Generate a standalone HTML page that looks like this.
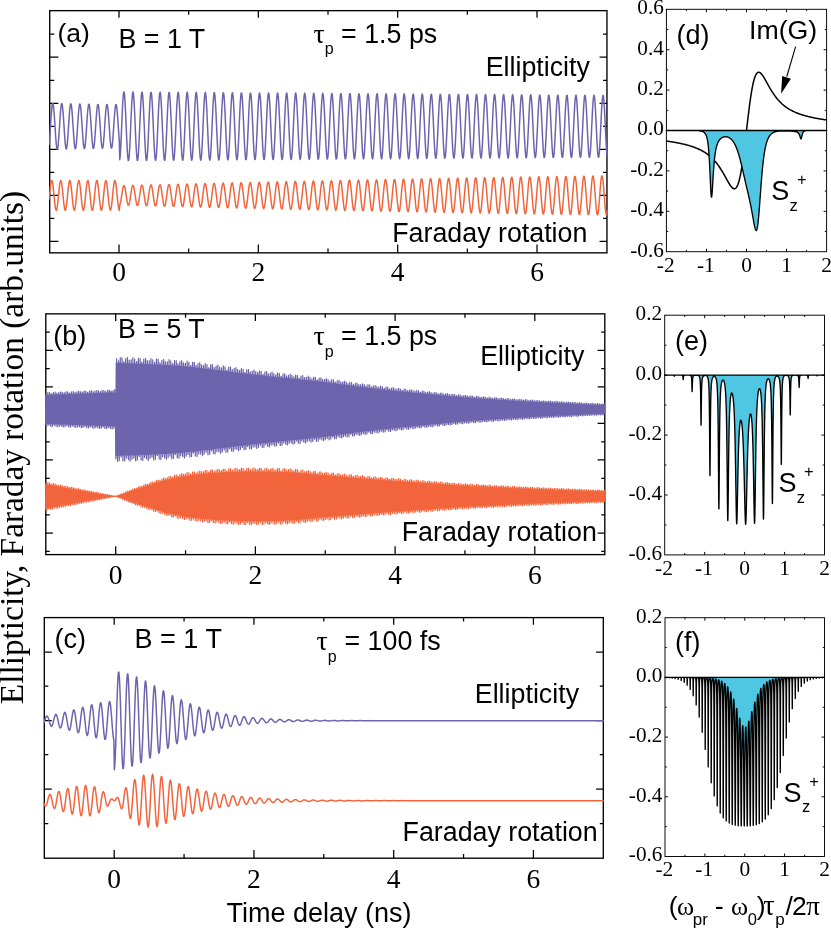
<!DOCTYPE html>
<html><head><meta charset="utf-8"><title>Figure</title>
<style>html,body{margin:0;padding:0;background:#fff}svg{display:block;will-change:transform}text{fill:#000}</style></head>
<body><svg width="831" height="929" viewBox="0 0 831 929">
<defs><clipPath id="c1"><rect x="49.05" y="10.65" width="558.55" height="242.20"/></clipPath><clipPath id="c2"><rect x="45.15" y="313.85" width="560.30" height="240.75"/></clipPath><clipPath id="c3"><rect x="43.65" y="617.60" width="560.30" height="240.60"/></clipPath></defs>
<rect width="831" height="929" fill="#fff"/>
<rect x="49.7" y="10.65" width="557.25" height="242.20" fill="none" stroke="#000" stroke-width="1.35"/>
<path d="M119.00,10.65v7.2M119.00,252.85v-8.3M258.34,10.65v7.2M258.34,252.85v-8.3M397.68,10.65v7.2M397.68,252.85v-8.3M537.02,10.65v7.2M537.02,252.85v-8.3M188.67,10.65v4.0M188.67,252.85v-4.3M328.01,10.65v4.0M328.01,252.85v-4.3M467.35,10.65v4.0M467.35,252.85v-4.3M49.7,57.20h8.7M606.95,57.20h-7.4M49.7,103.25h8.7M606.95,103.25h-7.4M49.7,149.30h8.7M606.95,149.30h-7.4M49.7,195.35h8.7M606.95,195.35h-7.4M49.7,241.40h8.7M606.95,241.40h-7.4M49.7,34.20h4.6M606.95,34.20h-3.9M49.7,80.25h4.6M606.95,80.25h-3.9M49.7,126.30h4.6M606.95,126.30h-3.9M49.7,172.35h4.6M606.95,172.35h-3.9M49.7,218.40h4.6M606.95,218.40h-3.9" stroke="#000" stroke-width="1.25" fill="none"/>
<text x="119.0" y="280.6" font-family="'Liberation Serif',serif" font-size="27.5" text-anchor="middle" >0</text>
<text x="258.3" y="280.6" font-family="'Liberation Serif',serif" font-size="27.5" text-anchor="middle" >2</text>
<text x="397.7" y="280.6" font-family="'Liberation Serif',serif" font-size="27.5" text-anchor="middle" >4</text>
<text x="537.0" y="280.6" font-family="'Liberation Serif',serif" font-size="27.5" text-anchor="middle" >6</text>
<g clip-path="url(#c1)"><path d="M49.1,145.04L49.55,140.02L50,133.67L50.45,126.61L50.9,119.53L51.35,113.1L51.8,107.96L52.25,104.61L52.7,103.36L53.15,104.33L53.6,107.44L54.05,112.37L54.5,118.65L54.95,125.67L55.4,132.75L55.85,139.19L56.3,144.38L56.75,147.81L57.2,149.16L57.65,148.28L58.1,145.28L58.55,140.43L59,134.22L59.45,127.24L59.9,120.18L60.35,113.71L60.8,108.48L61.25,104.97L61.7,103.53L62.15,104.31L62.6,107.21L63.05,111.97L63.5,118.11L63.95,125.04L64.4,132.09L64.85,138.58L65.3,143.87L65.75,147.45L66.2,148.97L66.65,148.3L67.1,145.49L67.55,140.83L68,134.75L68.45,127.87L68.9,120.83L69.35,114.33L69.8,109L70.25,105.34L70.7,103.73L71.15,104.3L71.6,107.01L72.05,111.58L72.5,117.58L72.95,124.43L73.4,131.45L73.85,137.96L74.3,143.34L74.75,147.06L75.2,148.77L75.65,148.3L76.1,145.69L76.55,141.2L77,135.27L77.45,128.48L77.9,121.48L78.35,114.95L78.8,109.53L79.25,105.73L79.7,103.94L80.15,104.31L80.6,106.82L81.05,111.22L81.5,117.07L81.95,123.82L82.4,130.8L82.85,137.34L83.3,142.81L83.75,146.67L84.2,148.55L84.65,148.27L85.1,145.87L85.55,141.56L86,135.78L86.45,129.08L86.9,122.12L87.35,115.57L87.8,110.06L88.25,106.13L88.7,104.16L89.15,104.34L89.6,106.65L90.05,110.87L90.5,116.57L90.95,123.22L91.4,130.16L91.85,136.72L92.3,142.27L92.75,146.26L93.2,148.32L93.65,148.23L94.1,146.02L94.55,141.9L95,136.27L95.45,129.67L95.9,122.76L96.35,116.19L96.8,110.6L97.25,106.55L97.7,104.41L98.15,104.39L98.6,106.51L99.05,110.53L99.5,116.09L99.95,122.63L100.4,129.53L100.85,136.1L101.3,141.72L101.75,145.84L102.2,148.07L102.65,148.17L103.1,146.16L103.55,142.22L104,136.74L104.45,130.26L104.9,123.39L105.35,116.81L105.8,111.15L106.25,106.97L106.7,104.67L107.15,104.46L107.6,106.38L108.05,110.22L108.5,115.62L108.95,122.06L109.4,128.9L109.85,135.48L110.3,141.17L110.75,145.41L111.2,147.8L111.65,148.1L112.1,146.28L112.55,142.53L113,137.2L113.45,130.83L113.9,124.01L114.35,117.43L114.8,111.71L115.25,107.41L115.7,104.94L116.15,104.55L116.6,106.27L117.05,109.93L117.5,115.17L117.95,121.49L118.4,128.28L118.85,134.86L119.3,140.61L119.75,159.78L120.2,155.6L120.65,148.57L121.1,139.39L121.55,128.93L122,118.23L122.45,108.31L122.9,100.13L123.35,94.5L123.8,91.95L124.25,92.74L124.7,96.78L125.15,103.69L125.6,112.78L126.05,123.19L126.5,133.9L126.95,143.87L127.4,152.13L127.85,157.88L128.3,160.57L128.75,159.94L129.2,156.04L129.65,149.25L130.1,140.24L130.55,129.88L131,119.18L131.45,109.16L131.9,100.81L132.35,94.94L132.8,92.11L133.25,92.6L133.7,96.35L134.15,103.01L134.6,111.93L135.05,122.25L135.5,132.95L135.95,143.01L136.4,151.44L136.85,157.43L137.3,160.4L137.75,160.06L138.2,156.45L138.65,149.91L139.1,141.08L139.55,130.82L140,120.13L140.45,110.03L140.9,101.51L141.35,95.4L141.8,92.29L142.25,92.48L142.7,95.95L143.15,102.37L143.6,111.1L144.05,121.31L144.5,132L144.95,142.13L145.4,150.73L145.85,156.96L146.3,160.21L146.75,160.17L147.2,156.84L147.65,150.55L148.1,141.91L148.55,131.76L149,121.08L149.45,110.91L149.9,102.23L150.35,95.89L150.8,92.5L151.25,92.39L151.7,95.57L152.15,101.74L152.6,110.28L153.05,120.38L153.5,131.05L153.95,141.25L154.4,150.01L154.85,156.46L155.3,159.98L155.75,160.24L156.2,157.2L156.65,151.17L157.1,142.72L157.55,132.69L158,122.03L158.45,111.79L158.9,102.96L159.35,96.4L159.8,92.74L160.25,92.33L160.7,95.22L161.15,101.13L161.6,109.48L162.05,119.45L162.5,130.09L162.95,140.36L163.4,149.27L163.85,155.94L164.3,159.74L164.75,160.29L165.2,157.54L165.65,151.77L166.1,143.52L166.55,133.6L167,122.98L167.45,112.68L167.9,103.71L168.35,96.93L168.8,93L169.25,92.3L169.7,94.9L170.15,100.54L170.6,108.69L171.05,118.54L171.5,129.14L171.95,139.47L172.4,148.51L172.85,155.4L173.3,159.47L173.75,160.31L174.2,157.86L174.65,152.34L175.1,144.3L175.55,134.51L176,123.93L176.45,113.58L176.9,104.47L177.35,97.48L177.8,93.28L178.25,92.29L178.7,94.6L179.15,99.98L179.6,107.92L180.05,117.64L180.5,128.19L180.95,138.56L181.4,147.74L181.85,154.84L182.3,159.17L182.75,160.31L183.2,158.14L183.65,152.89L184.1,145.06L184.55,135.41L185,124.88L185.45,114.49L185.9,105.25L186.35,98.05L186.8,93.59L187.25,92.31L187.7,94.32L188.15,99.44L188.6,107.16L189.05,116.74L189.5,127.25L189.95,137.65L190.4,146.96L190.85,154.26L191.3,158.85L191.75,160.27L192.2,158.4L192.65,153.42L193.1,145.81L193.55,136.3L194,125.83L194.45,115.4L194.9,106.04L195.35,98.64L195.8,93.92L196.25,92.35L196.7,94.07L197.15,98.92L197.6,106.43L198.05,115.86L198.5,126.3L198.95,136.74L199.4,146.16L199.85,153.66L200.3,158.5L200.75,160.22L201.2,158.64L201.65,153.93L202.1,146.53L202.55,137.18L203,126.77L203.45,116.32L203.9,106.84L204.35,99.25L204.8,94.28L205.25,92.42L205.7,93.85L206.15,98.43L206.6,105.71L207.05,114.99L207.5,125.36L207.95,135.82L208.4,145.36L208.85,153.04L209.3,158.13L209.75,160.13L210.2,158.85L210.65,154.41L211.1,147.24L211.55,138.05L212,127.71L212.45,117.24L212.9,107.65L213.35,99.87L213.8,94.66L214.25,92.52L214.7,93.66L215.15,97.96L215.6,105.01L216.05,114.13L216.5,124.42L216.95,134.9L217.4,144.54L217.85,152.4L218.3,157.74L218.75,160.02L219.2,159.03L219.65,154.87L220.1,147.93L220.55,138.9L221,128.65L221.45,118.17L221.9,108.48L222.35,100.52L222.8,95.07L223.25,92.64L223.7,93.49L224.15,97.51L224.6,104.33L225.05,113.28L225.5,123.49L225.95,133.97L226.4,143.7L226.85,151.75L227.3,157.32L227.75,159.88L228.2,159.19L228.65,155.3L229.1,148.6L229.55,139.74L230,129.57L230.45,119.09L230.9,109.32L231.35,101.19L231.8,95.49L232.25,92.79L232.7,93.34L233.15,97.09L233.6,103.67L234.05,112.45L234.5,122.56L234.95,133.04L235.4,142.86L235.85,151.08L236.3,156.88L236.75,159.72L237.2,159.32L237.65,155.71L238.1,149.25L238.55,140.57L239,130.5L239.45,120.02L239.9,110.16L240.35,101.87L240.8,95.94L241.25,92.97L241.7,93.23L242.15,96.69L242.6,103.03L243.05,111.63L243.5,121.64L243.95,132.11L244.4,142.01L244.85,150.39L245.3,156.42L245.75,159.54L246.2,159.42L246.65,156.1L247.1,149.88L247.55,141.38L248,131.41L248.45,120.96L248.9,111.02L249.35,102.56L249.8,96.42L250.25,93.17L250.7,93.13L251.15,96.32L251.6,102.41L252.05,110.82L252.5,120.73L252.95,131.18L253.4,141.15L253.85,149.68L254.3,155.94L254.75,159.32L255.2,159.5L255.65,156.46L256.1,150.49L256.55,142.18L257,132.32L257.45,121.89L257.9,111.88L258.35,103.28L258.8,96.91L259.25,93.39L259.7,93.07L260.15,95.97L260.6,101.81L261.05,110.03L261.5,119.83L261.95,130.25L262.4,140.28L262.85,148.96L263.3,155.44L263.75,159.09L264.2,159.55L264.65,156.8L265.1,151.08L265.55,142.96L266,133.22L266.45,122.82L266.9,112.75L267.35,104.01L267.8,97.42L268.25,93.64L268.7,93.03L269.15,95.65L269.6,101.24L270.05,109.26L270.5,118.93L270.95,129.31L271.4,139.41L271.85,148.22L272.3,154.91L272.75,158.82L273.2,159.58L273.65,157.11L274.1,151.64L274.55,143.72L275,134.12L275.45,123.75L275.9,113.63L276.35,104.75L276.8,97.96L277.25,93.92L277.7,93.02L278.15,95.35L278.6,100.68L279.05,108.5L279.5,118.04L279.95,128.38L280.4,138.52L280.85,147.47L281.3,154.37L281.75,158.54L282.2,159.58L282.65,157.39L283.1,152.19L283.55,144.47L284,135L284.45,124.68L284.9,114.52L285.35,105.51L285.8,98.51L286.25,94.21L286.7,93.03L287.15,95.07L287.6,100.15L288.05,107.76L288.5,117.16L288.95,127.46L289.4,137.63L289.85,146.71L290.3,153.8L290.75,158.23L291.2,159.55L291.65,157.65L292.1,152.71L292.55,145.21L293,135.87L293.45,125.61L293.9,115.41L294.35,106.28L294.8,99.09L295.25,94.54L295.7,93.07L296.15,94.83L296.6,99.64L297.05,107.03L297.5,116.3L297.95,126.53L298.4,136.74L298.85,145.93L299.3,153.22L299.75,157.89L300.2,159.5L300.65,157.89L301.1,153.21L301.55,145.92L302,136.73L302.45,126.53L302.9,116.31L303.35,107.06L303.8,99.68L304.25,94.88L304.7,93.13L305.15,94.6L305.6,99.15L306.05,106.33L306.5,115.44L306.95,125.61L307.4,135.84L307.85,145.14L308.3,152.62L308.75,157.54L309.2,159.43L309.65,158.1L310.1,153.69L310.55,146.62L311,137.58L311.45,127.45L311.9,117.21L312.35,107.85L312.8,100.29L313.25,95.25L313.7,93.22L314.15,94.41L314.6,98.68L315.05,105.64L315.5,114.6L315.95,124.69L316.4,134.94L316.85,144.34L317.3,152L317.75,157.16L318.2,159.32L318.65,158.28L319.1,154.14L319.55,147.3L320,138.42L320.45,128.37L320.9,118.12L321.35,108.66L321.8,100.92L322.25,95.64L322.7,93.34L323.15,94.23L323.6,98.24L324.05,104.97L324.5,113.77L324.95,123.78L325.4,134.03L325.85,143.53L326.3,151.36L326.75,156.75L327.2,159.19L327.65,158.44L328.1,154.57L328.55,147.96L329,139.24L329.45,129.28L329.9,119.02L330.35,109.48L330.8,101.57L331.25,96.05L331.7,93.48L332.15,94.09L332.6,97.82L333.05,104.32L333.5,112.95L333.95,122.87L334.4,133.12L334.85,142.71L335.3,150.71L335.75,156.33L336.2,159.04L336.65,158.57L337.1,154.98L337.55,148.6L338,140.06L338.45,130.18L338.9,119.93L339.35,110.3L339.8,102.23L340.25,96.49L340.7,93.65L341.15,93.97L341.6,97.43L342.05,103.69L342.5,112.14L342.95,121.97L343.4,132.21L343.85,141.88L344.3,150.03L344.75,155.88L345.2,158.86L345.65,158.68L346.1,155.36L346.55,149.22L347,140.85L347.45,131.08L347.9,120.84L348.35,111.14L348.8,102.91L349.25,96.95L349.7,93.84L350.15,93.87L350.6,97.06L351.05,103.08L351.5,111.35L351.95,121.07L352.4,131.3L352.85,141.04L353.3,149.35L353.75,155.42L354.2,158.66L354.65,158.76L355.1,155.72L355.55,149.82L356,141.64L356.45,131.97L356.9,121.76L357.35,111.98L357.8,103.6L358.25,97.43L358.7,94.05L359.15,93.81L359.6,96.71L360.05,102.49L360.5,110.58L360.95,120.19L361.4,130.39L361.85,140.19L362.3,148.64L362.75,154.93L363.2,158.43L363.65,158.82L364.1,156.05L364.55,150.4L365,142.41L365.45,132.85L365.9,122.67L366.35,112.84L366.8,104.31L367.25,97.92L367.7,94.29L368.15,93.76L368.6,96.39L369.05,101.92L369.5,109.82L369.95,119.31L370.4,129.48L370.85,139.33L371.3,147.93L371.75,154.42L372.2,158.18L372.65,158.85L373.1,156.36L373.55,150.95L374,143.16L374.45,133.73L374.9,123.58L375.35,113.7L375.8,105.04L376.25,98.44L376.7,94.55L377.15,93.75L377.6,96.09L378.05,101.37L378.5,109.07L378.95,118.44L379.4,128.57L379.85,138.47L380.3,147.2L380.75,153.89L381.2,157.91L381.65,158.85L382.1,156.64L382.55,151.49L383,143.89L383.45,134.59L383.9,124.49L384.35,114.56L384.8,105.78L385.25,98.98L385.7,94.84L386.15,93.75L386.6,95.82L387.05,100.85L387.5,108.34L387.95,117.58L388.4,127.66L388.85,137.6L389.3,146.45L389.75,153.34L390.2,157.61L390.65,158.83L391.1,156.9L391.55,152.01L392,144.61L392.45,135.45L392.9,125.4L393.35,115.43L393.8,106.53L394.25,99.54L394.7,95.15L395.15,93.79L395.6,95.58L396.05,100.34L396.5,107.63L396.95,116.73L397.4,126.75L397.85,136.73L398.3,145.69L398.75,152.77L399.2,157.28L399.65,158.79L400.1,157.14L400.55,152.5L401,145.32L401.45,136.29L401.9,126.3L402.35,116.31L402.8,107.29L403.25,100.12L403.7,95.49L404.15,93.84L404.6,95.35L405.05,99.86L405.5,106.94L405.95,115.89L406.4,125.85L406.85,135.85L407.3,144.92L407.75,152.19L408.2,156.94L408.65,158.72L409.1,157.35L409.55,152.97L410,146L410.45,137.13L410.9,127.2L411.35,117.19L411.8,108.07L412.25,100.71L412.7,95.84L413.15,93.93L413.6,95.16L414.05,99.4L414.5,106.26L414.95,115.06L415.4,124.95L415.85,134.97L416.3,144.14L416.75,151.58L417.2,156.57L417.65,158.62L418.1,157.53L418.55,153.42L419,146.67L419.45,137.95L419.9,128.1L420.35,118.07L420.8,108.85L421.25,101.32L421.7,96.22L422.15,94.04L422.6,94.98L423.05,98.97L423.5,105.6L423.95,114.25L424.4,124.06L424.85,134.08L425.3,143.35L425.75,150.96L426.2,156.18L426.65,158.5L427.1,157.69L427.55,153.84L428,147.32L428.45,138.76L428.9,128.99L429.35,118.96L429.8,109.65L430.25,101.95L430.7,96.62L431.15,94.17L431.6,94.84L432.05,98.55L432.5,104.96L432.95,113.44L433.4,123.17L433.85,133.19L434.3,142.55L434.75,150.33L435.2,155.77L435.65,158.36L436.1,157.83L436.55,154.24L437,147.95L437.45,139.55L437.9,129.88L438.35,119.85L438.8,110.46L439.25,102.6L439.7,97.04L440.15,94.33L440.6,94.71L441.05,98.16L441.5,104.34L441.95,112.65L442.4,122.28L442.85,132.3L443.3,141.74L443.75,149.67L444.2,155.34L444.65,158.19L445.1,157.94L445.55,154.62L446,148.56L446.45,140.34L446.9,130.75L447.35,120.74L447.8,111.27L448.25,103.26L448.7,97.49L449.15,94.51L449.6,94.62L450.05,97.8L450.5,103.74L450.95,111.88L451.4,121.41L451.85,131.41L452.3,140.92L452.75,149L453.2,154.88L453.65,157.99L454.1,158.02L454.55,154.98L455,149.15L455.45,141.11L455.9,131.63L456.35,121.63L456.8,112.1L457.25,103.94L457.7,97.95L458.15,94.71L458.6,94.54L459.05,97.45L459.5,103.16L459.95,111.12L460.4,120.54L460.85,130.52L461.3,140.09L461.75,148.32L462.2,154.41L462.65,157.77L463.1,158.08L463.55,155.31L464,149.72L464.45,141.86L464.9,132.49L465.35,122.53L465.8,112.93L466.25,104.63L466.7,98.43L467.15,94.94L467.6,94.5L468.05,97.14L468.5,102.6L468.95,110.37L469.4,119.68L469.85,129.63L470.3,139.25L470.75,147.62L471.2,153.92L471.65,157.53L472.1,158.12L472.55,155.62L473,150.27L473.45,142.6L473.9,133.35L474.35,123.42L474.8,113.77L475.25,105.33L475.7,98.94L476.15,95.2L476.6,94.47L477.05,96.84L477.5,102.06L477.95,109.64L478.4,118.83L478.85,128.74L479.3,138.41L479.75,146.91L480.2,153.4L480.65,157.27L481.1,158.13L481.55,155.9L482,150.8L482.45,143.32L482.9,134.2L483.35,124.31L483.8,114.61L484.25,106.05L484.7,99.46L485.15,95.47L485.6,94.48L486.05,96.57L486.5,101.55L486.95,108.92L487.4,117.98L487.85,127.85L488.3,137.56L488.75,146.18L489.2,152.87L489.65,156.98L490.1,158.11L490.55,156.16L491,151.31L491.45,144.03L491.9,135.03L492.35,125.19L492.8,115.46L493.25,106.79L493.7,100L494.15,95.77L494.6,94.5L495.05,96.32L495.5,101.05L495.95,108.22L496.4,117.15L496.85,126.96L497.3,136.71L497.75,145.44L498.2,152.32L498.65,156.67L499.1,158.07L499.55,156.39L500,151.79L500.45,144.72L500.9,135.86L501.35,126.08L501.8,116.32L502.25,107.53L502.7,100.56L503.15,96.09L503.6,94.56L504.05,96.1L504.5,100.57L504.95,107.54L505.4,116.33L505.85,126.08L506.3,135.85L506.75,144.69L507.2,151.75L507.65,156.34L508.1,158.01L508.55,156.6L509,152.26L509.45,145.39L509.9,136.68L510.35,126.96L510.8,117.18L511.25,108.29L511.7,101.14L512.15,96.44L512.6,94.63L513.05,95.9L513.5,100.12L513.95,106.88L514.4,115.52L514.85,125.2L515.3,134.99L515.75,143.93L516.2,151.16L516.65,155.98L517.1,157.92L517.55,156.79L518,152.7L518.45,146.05L518.9,137.49L519.35,127.84L519.8,118.04L520.25,109.05L520.7,101.74L521.15,96.8L521.6,94.74L522.05,95.73L522.5,99.69L522.95,106.23L523.4,114.72L523.85,124.32L524.3,134.12L524.75,143.16L525.2,150.56L525.65,155.6L526.1,157.8L526.55,156.95L527,153.12L527.45,146.69L527.9,138.28L528.35,128.71L528.8,118.91L529.25,109.83L529.7,102.35L530.15,97.19L530.6,94.86L531.05,95.58L531.5,99.28L531.95,105.6L532.4,113.93L532.85,123.45L533.3,133.25L533.75,142.38L534.2,149.94L534.65,155.21L535.1,157.67L535.55,157.08L536,153.52L536.45,147.31L536.9,139.06L537.35,129.58L537.8,119.78L538.25,110.62L538.7,102.98L539.15,97.6L539.6,95.01L540.05,95.46L540.5,98.89L540.95,104.99L541.4,113.15L541.85,122.59L542.3,132.38L542.75,141.59L543.2,149.3L543.65,154.79L544.1,157.51L544.55,157.2L545,153.89L545.45,147.91L545.9,139.83L546.35,130.44L546.8,120.65L547.25,111.41L547.7,103.62L548.15,98.03L548.6,95.18L549.05,95.36L549.5,98.53L549.95,104.4L550.4,112.39L550.85,121.73L551.3,131.51L551.75,140.79L552.2,148.65L552.65,154.35L553.1,157.32L553.55,157.28L554,154.24L554.45,148.49L554.9,140.58L555.35,131.29L555.8,121.52L556.25,112.22L556.7,104.28L557.15,98.48L557.6,95.38L558.05,95.28L558.5,98.19L558.95,103.83L559.4,111.65L559.85,120.88L560.3,130.64L560.75,139.98L561.2,147.99L561.65,153.89L562.1,157.11L562.55,157.35L563,154.57L563.45,149.05L563.9,141.32L564.35,132.14L564.8,122.39L565.25,113.03L565.7,104.95L566.15,98.95L566.6,95.6L567.05,95.23L567.5,97.88L567.95,103.28L568.4,110.91L568.85,120.04L569.3,129.77L569.75,139.16L570.2,147.31L570.65,153.41L571.1,156.88L571.55,157.39L572,154.87L572.45,149.59L572.9,142.05L573.35,132.98L573.8,123.27L574.25,113.85L574.7,105.64L575.15,99.44L575.6,95.84L576.05,95.2L576.5,97.58L576.95,102.75L577.4,110.2L577.85,119.2L578.3,128.9L578.75,138.34L579.2,146.61L579.65,152.91L580.1,156.63L580.55,157.4L581,155.15L581.45,150.11L581.9,142.76L582.35,133.81L582.8,124.13L583.25,114.67L583.7,106.34L584.15,99.95L584.6,96.11L585.05,95.2L585.5,97.31L585.95,102.24L586.4,109.49L586.85,118.38L587.3,128.03L587.75,137.51L588.2,145.91L588.65,152.39L589.1,156.35L589.55,157.39L590,155.41L590.45,150.61L590.9,143.45L591.35,134.63L591.8,125L592.25,115.5L592.7,107.05L593.15,100.47L593.6,96.4L594.05,95.23L594.5,97.07L594.95,101.75L595.4,108.81L595.85,117.56L596.3,127.16L596.75,136.68L597.2,145.19L597.65,151.86L598.1,156.05L598.55,157.35L599,155.65L599.45,151.09L599.9,144.13L600.35,135.44L600.8,125.87L601.25,116.34L601.7,107.78L602.15,101.02L602.6,96.71L603.05,95.27L603.5,96.85L603.95,101.28L604.4,108.14L604.85,116.76L605.3,126.3L605.75,135.84L606.2,144.46L606.65,151.31L607.1,155.73L607.55,157.3" fill="none" stroke="#6E64AD" stroke-width="1.5" stroke-linejoin="round"/><path d="M49.1,199.45L49.55,194.83L50,190.27L50.45,186.2L50.9,183.04L51.35,181.07L51.8,180.51L52.25,181.39L52.7,183.65L53.15,187.04L53.6,191.25L54.05,195.87L54.5,200.44L54.95,204.52L55.4,207.71L55.85,209.7L56.3,210.29L56.75,209.44L57.2,207.22L57.65,203.84L58.1,199.65L58.55,195.04L59,190.46L59.45,186.37L59.9,183.15L60.35,181.13L60.8,180.5L61.25,181.33L61.7,183.52L62.15,186.87L62.6,191.05L63.05,195.66L63.5,200.24L63.95,204.35L64.4,207.59L64.85,209.64L65.3,210.3L65.75,209.51L66.2,207.34L66.65,204.01L67.1,199.85L67.55,195.24L68,190.66L68.45,186.53L68.9,183.27L69.35,181.19L69.8,180.5L70.25,181.26L70.7,183.39L71.15,186.7L71.6,190.85L72.05,195.45L72.5,200.04L72.95,204.18L73.4,207.47L73.85,209.57L74.3,210.3L74.75,209.57L75.2,207.47L75.65,204.18L76.1,200.04L76.55,195.45L77,190.85L77.45,186.7L77.9,183.39L78.35,181.26L78.8,180.5L79.25,181.19L79.7,183.27L80.15,186.53L80.6,190.66L81.05,195.24L81.5,199.85L81.95,204.01L82.4,207.34L82.85,209.51L83.3,210.3L83.75,209.64L84.2,207.59L84.65,204.35L85.1,200.24L85.55,195.66L86,191.05L86.45,186.87L86.9,183.52L87.35,181.33L87.8,180.5L88.25,181.13L88.7,183.15L89.15,186.37L89.6,190.46L90.05,195.04L90.5,199.65L90.95,203.84L91.4,207.22L91.85,209.44L92.3,210.29L92.75,209.7L93.2,207.71L93.65,204.52L94.1,200.44L94.55,195.87L95,191.25L95.45,187.04L95.9,183.65L96.35,181.39L96.8,180.51L97.25,181.07L97.7,183.04L98.15,186.2L98.6,190.27L99.05,194.83L99.5,199.45L99.95,203.67L100.4,207.09L100.85,209.37L101.3,210.29L101.75,209.75L102.2,207.82L102.65,204.68L103.1,200.63L103.55,196.07L104,191.45L104.45,187.21L104.9,183.77L105.35,181.47L105.8,180.52L106.25,181.02L106.7,182.92L107.15,186.04L107.6,190.07L108.05,194.62L108.5,199.25L108.95,203.5L109.4,206.96L109.85,209.3L110.3,210.28L110.75,209.81L111.2,207.93L111.65,204.84L112.1,200.83L112.55,196.28L113,191.65L113.45,187.39L113.9,183.9L114.35,181.54L114.8,180.53L115.25,180.97L115.7,182.81L116.15,185.88L116.6,189.88L117.05,194.41L117.5,199.05L117.95,203.32L118.4,206.83L118.85,209.22L119.3,210.26L119.75,204.82L120.2,203.65L120.65,201.67L121.1,199.07L121.55,196.11L122,193.07L122.45,190.26L122.9,187.93L123.35,186.33L123.8,185.61L124.25,185.85L124.7,187.01L125.15,189L125.6,191.62L126.05,194.61L126.5,197.69L126.95,200.55L127.4,202.91L127.85,204.55L128.3,205.3L128.75,205.09L129.2,203.92L129.65,201.93L130.1,199.29L130.55,196.27L131,193.15L131.45,190.25L131.9,187.84L132.35,186.17L132.8,185.39L133.25,185.58L133.7,186.74L134.15,188.74L134.6,191.4L135.05,194.45L135.5,197.6L135.95,200.55L136.4,203L136.85,204.71L137.3,205.52L137.75,205.35L138.2,204.2L138.65,202.19L139.1,199.51L139.55,196.43L140,193.24L140.45,190.25L140.9,187.76L141.35,186.01L141.8,185.17L142.25,185.32L142.7,186.46L143.15,188.48L143.6,191.17L144.05,194.28L144.5,197.51L144.95,200.54L145.4,203.08L145.85,204.87L146.3,205.74L146.75,205.61L147.2,204.47L147.65,202.45L148.1,199.74L148.55,196.6L149,193.33L149.45,190.26L149.9,187.69L150.35,185.86L150.8,184.95L151.25,185.07L151.7,186.19L152.15,188.21L152.6,190.94L153.05,194.11L153.5,197.42L153.95,200.53L154.4,203.15L154.85,205.02L155.3,205.95L155.75,205.86L156.2,204.75L156.65,202.72L157.1,199.97L157.55,196.77L158,193.43L158.45,190.28L158.9,187.62L159.35,185.71L159.8,184.74L160.25,184.81L160.7,185.92L161.15,187.95L161.6,190.71L162.05,193.94L162.5,197.31L162.95,200.51L163.4,203.21L163.85,205.16L164.3,206.16L164.75,206.11L165.2,205.02L165.65,202.99L166.1,200.21L166.55,196.95L167,193.54L167.45,190.3L167.9,187.56L168.35,185.57L168.8,184.54L169.25,184.56L169.7,185.64L170.15,187.68L170.6,190.47L171.05,193.75L171.5,197.2L171.95,200.48L172.4,203.27L172.85,205.3L173.3,206.37L173.75,206.36L174.2,205.29L174.65,203.26L175.1,200.45L175.55,197.14L176,193.66L176.45,190.34L176.9,187.5L177.35,185.44L177.8,184.33L178.25,184.31L178.7,185.37L179.15,187.41L179.6,190.23L180.05,193.56L180.5,197.08L180.95,200.44L181.4,203.32L181.85,205.43L182.3,206.56L182.75,206.61L183.2,205.57L183.65,203.53L184.1,200.69L184.55,197.33L185,193.78L185.45,190.38L185.9,187.46L186.35,185.31L186.8,184.14L187.25,184.07L187.7,185.1L188.15,187.14L188.6,189.99L189.05,193.37L189.5,196.96L189.95,200.4L190.4,203.36L190.85,205.55L191.3,206.76L191.75,206.86L192.2,205.84L192.65,203.8L193.1,200.94L193.55,197.53L194,193.91L194.45,190.42L194.9,187.42L195.35,185.19L195.8,183.95L196.25,183.82L196.7,184.83L197.15,186.87L197.6,189.74L198.05,193.17L198.5,196.83L198.95,200.35L199.4,203.4L199.85,205.67L200.3,206.94L200.75,207.1L201.2,206.11L201.65,204.07L202.1,201.19L202.55,197.73L203,194.04L203.45,190.48L203.9,187.39L204.35,185.08L204.8,183.76L205.25,183.59L205.7,184.56L206.15,186.59L206.6,189.49L207.05,192.97L207.5,196.69L207.95,200.29L208.4,203.42L208.85,205.78L209.3,207.13L209.75,207.33L210.2,206.38L210.65,204.35L211.1,201.44L211.55,197.94L212,194.18L212.45,190.54L212.9,187.37L213.35,184.97L213.8,183.58L214.25,183.35L214.7,184.29L215.15,186.32L215.6,189.23L216.05,192.76L216.5,196.54L216.95,200.22L217.4,203.44L217.85,205.88L218.3,207.3L218.75,207.57L219.2,206.64L219.65,204.62L220.1,201.7L220.55,198.15L221,194.33L221.45,190.61L221.9,187.35L222.35,184.87L222.8,183.41L223.25,183.12L223.7,184.02L224.15,186.04L224.6,188.97L225.05,192.54L225.5,196.39L225.95,200.15L226.4,203.45L226.85,205.98L227.3,207.47L227.75,207.8L228.2,206.91L228.65,204.9L229.1,201.96L229.55,198.37L230,194.49L230.45,190.69L230.9,187.34L231.35,184.78L231.8,183.24L232.25,182.89L232.7,183.76L233.15,185.77L233.6,188.71L234.05,192.32L234.5,196.23L234.95,200.07L235.4,203.46L235.85,206.07L236.3,207.64L236.75,208.02L237.2,207.17L237.65,205.17L238.1,202.22L238.55,198.59L239,194.65L239.45,190.77L239.9,187.34L240.35,184.69L240.8,183.08L241.25,182.67L241.7,183.5L242.15,185.49L242.6,188.45L243.05,192.1L243.5,196.07L243.95,199.98L244.4,203.46L244.85,206.15L245.3,207.8L245.75,208.24L246.2,207.43L246.65,205.45L247.1,202.48L247.55,198.82L248,194.82L248.45,190.86L248.9,187.35L249.35,184.61L249.8,182.92L250.25,182.45L250.7,183.24L251.15,185.21L251.6,188.19L252.05,191.87L252.5,195.9L252.95,199.89L253.4,203.45L253.85,206.23L254.3,207.95L254.75,208.46L255.2,207.69L255.65,205.73L256.1,202.75L256.55,199.05L257,194.99L257.45,190.96L257.9,187.36L258.35,184.54L258.8,182.77L259.25,182.23L259.7,182.98L260.15,184.94L260.6,187.92L261.05,191.63L261.5,195.72L261.95,199.79L262.4,203.43L262.85,206.29L263.3,208.1L263.75,208.67L264.2,207.95L264.65,206L265.1,203.02L265.55,199.29L266,195.17L266.45,191.07L266.9,187.38L267.35,184.47L267.8,182.63L268.25,182.02L268.7,182.72L269.15,184.66L269.6,187.65L270.05,191.4L270.5,195.54L270.95,199.68L271.4,203.4L271.85,206.36L272.3,208.24L272.75,208.88L273.2,208.2L273.65,206.28L274.1,203.29L274.55,199.52L275,195.35L275.45,191.18L275.9,187.41L276.35,184.42L276.8,182.49L277.25,181.82L277.7,182.47L278.15,184.38L278.6,187.37L279.05,191.15L279.5,195.35L279.95,199.56L280.4,203.37L280.85,206.41L281.3,208.38L281.75,209.08L282.2,208.46L282.65,206.55L283.1,203.56L283.55,199.77L284,195.54L284.45,191.3L284.9,187.45L285.35,184.37L285.8,182.36L286.25,181.61L286.7,182.22L287.15,184.11L287.6,187.1L288.05,190.91L288.5,195.16L288.95,199.44L289.4,203.33L289.85,206.46L290.3,208.51L290.75,209.28L291.2,208.71L291.65,206.83L292.1,203.84L292.55,200.02L293,195.74L293.45,191.42L293.9,187.49L294.35,184.32L294.8,182.23L295.25,181.42L295.7,181.97L296.15,183.83L296.6,186.82L297.05,190.66L297.5,194.96L297.95,199.31L298.4,203.29L298.85,206.5L299.3,208.63L299.75,209.48L300.2,208.95L300.65,207.11L301.1,204.11L301.55,200.27L302,195.94L302.45,191.56L302.9,187.54L303.35,184.28L303.8,182.11L304.25,181.23L304.7,181.72L305.15,183.56L305.6,186.55L306.05,190.41L306.5,194.76L306.95,199.17L307.4,203.23L307.85,206.53L308.3,208.75L308.75,209.67L309.2,209.2L309.65,207.38L310.1,204.39L310.55,200.52L311,196.15L311.45,191.7L311.9,187.6L312.35,184.26L312.8,182L313.25,181.04L313.7,181.48L314.15,183.28L314.6,186.27L315.05,190.15L315.5,194.55L315.95,199.03L316.4,203.17L316.85,206.56L317.3,208.86L317.75,209.85L318.2,209.44L318.65,207.65L319.1,204.67L319.55,200.78L320,196.36L320.45,191.84L320.9,187.66L321.35,184.23L321.8,181.89L322.25,180.86L322.7,181.24L323.15,183.01L323.6,185.99L324.05,189.89L324.5,194.33L324.95,198.88L325.4,203.1L325.85,206.58L326.3,208.96L326.75,210.03L327.2,209.67L327.65,207.92L328.1,204.95L328.55,201.04L329,196.58L329.45,191.99L329.9,187.73L330.35,184.22L330.8,181.79L331.25,180.68L331.7,181.01L332.15,182.74L332.6,185.71L333.05,189.63L333.5,194.11L333.95,198.73L334.4,203.03L334.85,206.59L335.3,209.06L335.75,210.21L336.2,209.91L336.65,208.2L337.1,205.23L337.55,201.31L338,196.8L338.45,192.15L338.9,187.81L339.35,184.21L339.8,181.69L340.25,180.51L340.7,180.78L341.15,182.47L341.6,185.43L342.05,189.36L342.5,193.89L342.95,198.57L343.4,202.94L343.85,206.59L344.3,209.15L344.75,210.37L345.2,210.14L345.65,208.46L346.1,205.51L346.55,201.57L347,197.03L347.45,192.32L347.9,187.9L348.35,184.21L348.8,181.61L349.25,180.34L349.7,180.55L350.15,182.2L350.6,185.14L351.05,189.09L351.5,193.66L351.95,198.4L352.4,202.85L352.85,206.59L353.3,209.24L353.75,210.54L354.2,210.36L354.65,208.73L355.1,205.8L355.55,201.84L356,197.26L356.45,192.49L356.9,187.99L357.35,184.22L357.8,181.52L358.25,180.18L358.7,180.32L359.15,181.94L359.6,184.86L360.05,188.82L360.5,193.42L360.95,198.23L361.4,202.76L361.85,206.58L362.3,209.31L362.75,210.69L363.2,210.59L363.65,209L364.1,206.08L364.55,202.12L365,197.5L365.45,192.66L365.9,188.09L366.35,184.23L366.8,181.45L367.25,180.03L367.7,180.1L368.15,181.67L368.6,184.58L369.05,188.54L369.5,193.18L369.95,198.05L370.4,202.65L370.85,206.56L371.3,209.38L371.75,210.85L372.2,210.8L372.65,209.26L373.1,206.36L373.55,202.39L374,197.74L374.45,192.85L374.9,188.2L375.35,184.25L375.8,181.38L376.25,179.88L376.7,179.89L377.15,181.41L377.6,184.3L378.05,188.27L378.5,192.94L378.95,197.86L379.4,202.54L379.85,206.54L380.3,209.45L380.75,210.99L381.2,211.02L381.65,209.52L382.1,206.65L382.55,202.67L383,197.98L383.45,193.04L383.9,188.31L384.35,184.28L384.8,181.32L385.25,179.74L385.7,179.68L386.15,181.15L386.6,184.01L387.05,187.99L387.5,192.69L387.95,197.67L388.4,202.43L388.85,206.51L389.3,209.51L389.75,211.13L390.2,211.23L390.65,209.78L391.1,206.93L391.55,202.95L392,198.23L392.45,193.23L392.9,188.43L393.35,184.31L393.8,181.27L394.25,179.6L394.7,179.47L395.15,180.89L395.6,183.73L396.05,187.71L396.5,192.44L396.95,197.47L397.4,202.3L397.85,206.47L398.3,209.56L398.75,211.27L399.2,211.44L399.65,210.04L400.1,207.21L400.55,203.23L401,198.48L401.45,193.43L401.9,188.56L402.35,184.36L402.8,181.22L403.25,179.47L403.7,179.26L404.15,180.63L404.6,183.45L405.05,187.43L405.5,192.19L405.95,197.27L406.4,202.17L406.85,206.42L407.3,209.6L407.75,211.4L408.2,211.64L408.65,210.29L409.1,207.5L409.55,203.52L410,198.74L410.45,193.63L410.9,188.7L411.35,184.4L411.8,181.18L412.25,179.34L412.7,179.06L413.15,180.38L413.6,183.16L414.05,187.14L414.5,191.93L414.95,197.06L415.4,202.04L415.85,206.37L416.3,209.64L416.75,211.52L417.2,211.83L417.65,210.54L418.1,207.78L418.55,203.8L419,199L419.45,193.85L419.9,188.84L420.35,184.46L420.8,181.15L421.25,179.22L421.7,178.87L422.15,180.13L422.6,182.88L423.05,186.86L423.5,191.67L423.95,196.85L424.4,201.89L424.85,206.31L425.3,209.67L425.75,211.64L426.2,212.02L426.65,210.79L427.1,208.06L427.55,204.09L428,199.27L428.45,194.06L428.9,188.98L429.35,184.52L429.8,181.12L430.25,179.11L430.7,178.68L431.15,179.88L431.6,182.6L432.05,186.57L432.5,191.4L432.95,196.63L433.4,201.74L433.85,206.24L434.3,209.69L434.75,211.75L435.2,212.21L435.65,211.04L436.1,208.34L436.55,204.38L437,199.53L437.45,194.28L437.9,189.14L438.35,184.59L438.8,181.1L439.25,179L439.7,178.5L440.15,179.64L440.6,182.32L441.05,186.28L441.5,191.13L441.95,196.4L442.4,201.59L442.85,206.17L443.3,209.7L443.75,211.85L444.2,212.39L444.65,211.28L445.1,208.62L445.55,204.67L446,199.8L446.45,194.51L446.9,189.3L447.35,184.67L447.8,181.09L448.25,178.9L448.7,178.32L449.15,179.4L449.6,182.04L450.05,185.99L450.5,190.86L450.95,196.18L451.4,201.42L451.85,206.09L452.3,209.71L452.75,211.95L453.2,212.57L453.65,211.52L454.1,208.9L454.55,204.96L455,200.08L455.45,194.74L455.9,189.46L456.35,184.76L456.8,181.08L457.25,178.81L457.7,178.14L458.15,179.16L458.6,181.76L459.05,185.7L459.5,190.58L459.95,195.94L460.4,201.25L460.85,206L461.3,209.72L461.75,212.04L462.2,212.74L462.65,211.76L463.1,209.17L463.55,205.25L464,200.36L464.45,194.98L464.9,189.63L465.35,184.85L465.8,181.09L466.25,178.72L466.7,177.97L467.15,178.93L467.6,181.49L468.05,185.41L468.5,190.31L468.95,195.7L469.4,201.08L469.85,205.9L470.3,209.71L470.75,212.12L471.2,212.91L471.65,211.99L472.1,209.45L472.55,205.54L473,200.64L473.45,195.22L473.9,189.81L474.35,184.95L474.8,181.09L475.25,178.64L475.7,177.81L476.15,178.7L476.6,181.21L477.05,185.12L477.5,190.02L477.95,195.46L478.4,200.9L478.85,205.8L479.3,209.7L479.75,212.2L480.2,213.07L480.65,212.22L481.1,209.72L481.55,205.83L482,200.92L482.45,195.46L482.9,190L483.35,185.05L483.8,181.11L484.25,178.56L484.7,177.65L485.15,178.47L485.6,180.94L486.05,184.82L486.5,189.74L486.95,195.21L487.4,200.71L487.85,205.69L488.3,209.68L488.75,212.27L489.2,213.23L489.65,212.44L490.1,210L490.55,206.12L491,201.2L491.45,195.71L491.9,190.18L492.35,185.16L492.8,181.13L493.25,178.49L493.7,177.5L494.15,178.25L494.6,180.67L495.05,184.53L495.5,189.45L495.95,194.96L496.4,200.52L496.85,205.58L497.3,209.65L497.75,212.34L498.2,213.38L498.65,212.66L499.1,210.27L499.55,206.42L500,201.49L500.45,195.96L500.9,190.38L501.35,185.28L501.8,181.16L502.25,178.43L502.7,177.35L503.15,178.03L503.6,180.4L504.05,184.24L504.5,189.17L504.95,194.71L505.4,200.32L505.85,205.46L506.3,209.62L506.75,212.4L507.2,213.52L507.65,212.88L508.1,210.53L508.55,206.71L509,201.78L509.45,196.22L509.9,190.58L510.35,185.41L510.8,181.2L511.25,178.37L511.7,177.21L512.15,177.81L512.6,180.13L513.05,183.94L513.5,188.88L513.95,194.45L514.4,200.12L514.85,205.33L515.3,209.58L515.75,212.45L516.2,213.66L516.65,213.09L517.1,210.8L517.55,207L518,202.07L518.45,196.48L518.9,190.79L519.35,185.54L519.8,181.24L520.25,178.33L520.7,177.07L521.15,177.6L521.6,179.87L522.05,183.65L522.5,188.58L522.95,194.18L523.4,199.91L523.85,205.19L524.3,209.53L524.75,212.5L525.2,213.8L525.65,213.3L526.1,211.06L526.55,207.29L527,202.36L527.45,196.75L527.9,191L528.35,185.67L528.8,181.29L529.25,178.28L529.7,176.94L530.15,177.4L530.6,179.61L531.05,183.36L531.5,188.29L531.95,193.92L532.4,199.69L532.85,205.05L533.3,209.48L533.75,212.53L534.2,213.92L534.65,213.51L535.1,211.32L535.55,207.59L536,202.66L536.45,197.02L536.9,191.22L537.35,185.82L537.8,181.35L538.25,178.25L538.7,176.82L539.15,177.19L539.6,179.35L540.05,183.07L540.5,187.99L540.95,193.64L541.4,199.47L541.85,204.91L542.3,209.42L542.75,212.57L543.2,214.04L543.65,213.71L544.1,211.58L544.55,207.88L545,202.96L545.45,197.29L545.9,191.44L546.35,185.97L546.8,181.42L547.25,178.22L547.7,176.7L548.15,177L548.6,179.09L549.05,182.78L549.5,187.7L549.95,193.37L550.4,199.25L550.85,204.75L551.3,209.35L551.75,212.59L552.2,214.16L552.65,213.9L553.1,211.84L553.55,208.17L554,203.25L554.45,197.57L554.9,191.67L555.35,186.13L555.8,181.49L556.25,178.2L556.7,176.58L557.15,176.8L557.6,178.84L558.05,182.49L558.5,187.4L558.95,193.09L559.4,199.02L559.85,204.59L560.3,209.28L560.75,212.61L561.2,214.27L561.65,214.09L562.1,212.09L562.55,208.46L563,203.55L563.45,197.85L563.9,191.9L564.35,186.29L564.8,181.56L565.25,178.18L565.7,176.48L566.15,176.62L566.6,178.59L567.05,182.2L567.5,187.1L567.95,192.81L568.4,198.78L568.85,204.43L569.3,209.19L569.75,212.62L570.2,214.37L570.65,214.28L571.1,212.34L571.55,208.75L572,203.85L572.45,198.13L572.9,192.14L573.35,186.46L573.8,181.65L574.25,178.18L574.7,176.38L575.15,176.43L575.6,178.34L576.05,181.91L576.5,186.8L576.95,192.53L577.4,198.54L577.85,204.25L578.3,209.11L578.75,212.63L579.2,214.47L579.65,214.46L580.1,212.58L580.55,209.04L581,204.15L581.45,198.42L581.9,192.38L582.35,186.64L582.8,181.74L583.25,178.17L583.7,176.28L584.15,176.26L584.6,178.09L585.05,181.62L585.5,186.49L585.95,192.24L586.4,198.3L586.85,204.07L587.3,209.01L587.75,212.62L588.2,214.56L588.65,214.63L589.1,212.83L589.55,209.32L590,204.46L590.45,198.71L590.9,192.63L591.35,186.82L591.8,181.84L592.25,178.18L592.7,176.2L593.15,176.08L593.6,177.85L594.05,181.34L594.5,186.19L594.95,191.95L595.4,198.05L595.85,203.89L596.3,208.91L596.75,212.62L597.2,214.65L597.65,214.8L598.1,213.07L598.55,209.61L599,204.76L599.45,199L599.9,192.88L600.35,187.01L600.8,181.94L601.25,178.19L601.7,176.11L602.15,175.92L602.6,177.62L603.05,181.05L603.5,185.89L603.95,191.66L604.4,197.79L604.85,203.7L605.3,208.8L605.75,212.6L606.2,214.72L606.65,214.97L607.1,213.3L607.55,209.89" fill="none" stroke="#F2653C" stroke-width="1.5" stroke-linejoin="round"/></g>
<text x="57.5" y="41.7" font-family="'Liberation Sans',sans-serif" font-size="26.5" text-anchor="start" >(a)</text>
<text x="118.5" y="48.3" font-family="'Liberation Sans',sans-serif" font-size="26.8" text-anchor="start" >B = 1 T</text>
<text x="313.5" y="42.8" font-size="26.8" font-family="'Liberation Sans',sans-serif"><tspan font-family="'Liberation Serif',serif" font-size="28">τ</tspan><tspan font-size="16" dy="11.6">p</tspan><tspan dy="-11.6" dx="0"> = 1.5 ps</tspan></text>
<text x="485.7" y="75.5" font-family="'Liberation Sans',sans-serif" font-size="26.8" text-anchor="start" >Ellipticity</text>
<text x="587.4" y="241.6" font-family="'Liberation Sans',sans-serif" font-size="26.8" text-anchor="end" >Faraday rotation</text>
<rect x="45.8" y="313.85" width="559.00" height="240.75" fill="none" stroke="#000" stroke-width="1.35"/>
<path d="M115.70,313.85v7.2M115.70,554.6v-8.3M255.40,313.85v7.2M255.40,554.6v-8.3M395.10,313.85v7.2M395.10,554.6v-8.3M534.80,313.85v7.2M534.80,554.6v-8.3M185.55,313.85v4.0M185.55,554.6v-4.3M325.25,313.85v4.0M325.25,554.6v-4.3M464.95,313.85v4.0M464.95,554.6v-4.3M45.8,350.30h7.1M604.8,350.30h-7.2M45.8,386.85h7.1M604.8,386.85h-7.2M45.8,423.40h7.1M604.8,423.40h-7.2M45.8,459.95h7.1M604.8,459.95h-7.2M45.8,496.50h7.1M604.8,496.50h-7.2M45.8,533.05h7.1M604.8,533.05h-7.2M45.8,332.10h4.0M604.8,332.10h-3.5M45.8,368.65h4.0M604.8,368.65h-3.5M45.8,405.20h4.0M604.8,405.20h-3.5M45.8,441.75h4.0M604.8,441.75h-3.5M45.8,478.30h4.0M604.8,478.30h-3.5M45.8,514.85h4.0M604.8,514.85h-3.5M45.8,551.40h4.0M604.8,551.40h-3.5" stroke="#000" stroke-width="1.25" fill="none"/>
<text x="115.7" y="583.8" font-family="'Liberation Serif',serif" font-size="27.5" text-anchor="middle" >0</text>
<text x="255.4" y="583.8" font-family="'Liberation Serif',serif" font-size="27.5" text-anchor="middle" >2</text>
<text x="395.1" y="583.8" font-family="'Liberation Serif',serif" font-size="27.5" text-anchor="middle" >4</text>
<text x="534.8" y="583.8" font-family="'Liberation Serif',serif" font-size="27.5" text-anchor="middle" >6</text>
<g clip-path="url(#c2)"><path d="M45.2,394.9L47,394.9L48.8,394.8L50.6,394.8L52.4,394.7L54.2,394.6L56,394.6L57.8,394.5L59.6,394.4L61.4,394.4L63.2,394.3L65,394.2L66.9,394.2L68.7,394.1L70.5,394L72.3,394L74.1,393.9L75.9,393.8L77.7,393.8L79.5,393.7L81.3,393.6L83.1,393.6L84.9,393.5L86.8,393.4L88.6,393.4L90.4,393.3L92.2,393.2L94,393.2L95.8,393.1L97.6,393L99.4,393L101.2,392.9L103,392.8L104.8,392.8L106.6,392.7L108.5,392.6L110.3,392.6L112.1,392.5L113.9,392.4L115.7,392.4L115.7,363L118.8,363L121.9,363.1L124.9,363.2L128,363.3L131.1,363.4L134.2,363.5L137.3,363.6L140.3,363.7L143.4,363.8L146.5,363.9L149.6,364.1L152.7,364.2L155.7,364.4L158.8,364.5L161.9,364.7L165,364.9L168.1,365.1L171.1,365.3L174.2,365.5L177.3,365.7L180.4,365.9L183.5,366.2L186.5,366.5L189.6,366.8L192.7,367.1L195.8,367.4L198.9,367.8L201.9,368.2L205,368.6L208.1,368.9L211.2,369.3L214.3,369.7L217.3,370L220.4,370.4L223.5,370.8L226.6,371.2L229.6,371.6L232.7,372L235.8,372.4L238.9,372.8L242,373.1L245,373.5L248.1,373.9L251.2,374.2L254.3,374.6L257.4,374.9L260.4,375.2L263.5,375.6L266.6,375.9L269.7,376.2L272.8,376.5L275.8,376.9L278.9,377.2L282,377.5L285.1,377.8L288.2,378.1L291.2,378.5L294.3,378.8L297.4,379.1L300.5,379.4L303.6,379.7L306.6,380L309.7,380.3L312.8,380.7L315.9,381L319,381.3L322,381.7L325.1,382.1L328.2,382.5L331.3,382.9L334.4,383.3L337.4,383.7L340.5,384.2L343.6,384.6L346.7,385L349.7,385.4L352.8,385.8L355.9,386.2L359,386.6L362.1,387L365.1,387.3L368.2,387.7L371.3,388.1L374.4,388.4L377.5,388.8L380.5,389.2L383.6,389.5L386.7,389.9L389.8,390.2L392.9,390.5L395.9,390.9L399,391.2L402.1,391.5L405.2,391.8L408.3,392.1L411.3,392.4L414.4,392.7L417.5,393.1L420.6,393.4L423.7,393.6L426.7,393.9L429.8,394.2L432.9,394.5L436,394.8L439.1,395.1L442.1,395.4L445.2,395.7L448.3,396L451.4,396.3L454.5,396.5L457.5,396.8L460.6,397.1L463.7,397.3L466.8,397.5L469.9,397.8L472.9,398L476,398.2L479.1,398.5L482.2,398.7L485.2,398.9L488.3,399.1L491.4,399.3L494.5,399.5L497.6,399.7L500.6,399.9L503.7,400.1L506.8,400.3L509.9,400.5L513,400.7L516,400.9L519.1,401L522.2,401.2L525.3,401.4L528.4,401.6L531.4,401.8L534.5,401.9L537.6,402.1L540.7,402.3L543.8,402.4L546.8,402.6L549.9,402.7L553,402.9L556.1,403L559.2,403.2L562.2,403.3L565.3,403.4L568.4,403.6L571.5,403.7L574.6,403.9L577.6,404L580.7,404.2L583.8,404.4L586.9,404.5L590,404.7L593,404.8L596.1,404.9L599.2,405.1L602.3,405.1L605.3,405.2L605.3,413.6L602.3,413.7L599.2,413.7L596.1,413.9L593,414L590,414.1L586.9,414.3L583.8,414.4L580.7,414.6L577.6,414.8L574.6,414.9L571.5,415.1L568.4,415.2L565.3,415.4L562.2,415.5L559.2,415.6L556.1,415.8L553,415.9L549.9,416.1L546.8,416.2L543.8,416.4L540.7,416.5L537.6,416.7L534.5,416.9L531.4,417L528.4,417.2L525.3,417.4L522.2,417.6L519.1,417.8L516,417.9L513,418.1L509.9,418.3L506.8,418.5L503.7,418.7L500.6,418.9L497.6,419.1L494.5,419.3L491.4,419.5L488.3,419.7L485.2,419.9L482.2,420.1L479.1,420.3L476,420.6L472.9,420.8L469.9,421L466.8,421.3L463.7,421.5L460.6,421.7L457.5,422L454.5,422.3L451.4,422.5L448.3,422.8L445.2,423.1L442.1,423.4L439.1,423.7L436,424L432.9,424.3L429.8,424.6L426.7,424.9L423.7,425.2L420.6,425.4L417.5,425.7L414.4,426.1L411.3,426.4L408.3,426.7L405.2,427L402.1,427.3L399,427.6L395.9,427.9L392.9,428.3L389.8,428.6L386.7,428.9L383.6,429.3L380.5,429.6L377.5,430L374.4,430.4L371.3,430.7L368.2,431.1L365.1,431.5L362.1,431.8L359,432.2L355.9,432.6L352.8,433L349.7,433.4L346.7,433.8L343.6,434.2L340.5,434.6L337.4,435.1L334.4,435.5L331.3,435.9L328.2,436.3L325.1,436.7L322,437.1L319,437.5L315.9,437.8L312.8,438.1L309.7,438.5L306.6,438.8L303.6,439.1L300.5,439.4L297.4,439.7L294.3,440L291.2,440.3L288.2,440.7L285.1,441L282,441.3L278.9,441.6L275.8,441.9L272.8,442.3L269.7,442.6L266.6,442.9L263.5,443.2L260.4,443.6L257.4,443.9L254.3,444.2L251.2,444.6L248.1,444.9L245,445.3L242,445.7L238.9,446L235.8,446.4L232.7,446.8L229.6,447.2L226.6,447.6L223.5,448L220.4,448.4L217.3,448.8L214.3,449.1L211.2,449.5L208.1,449.9L205,450.2L201.9,450.6L198.9,451L195.8,451.4L192.7,451.7L189.6,452L186.5,452.3L183.5,452.6L180.4,452.9L177.3,453.1L174.2,453.3L171.1,453.5L168.1,453.7L165,453.9L161.9,454.1L158.8,454.3L155.7,454.4L152.7,454.6L149.6,454.7L146.5,454.9L143.4,455L140.3,455.1L137.3,455.2L134.2,455.3L131.1,455.4L128,455.5L124.9,455.6L121.9,455.7L118.8,455.8L115.7,455.8L115.7,426.4L113.9,426.4L112.1,426.3L110.3,426.2L108.5,426.2L106.6,426.1L104.8,426L103,426L101.2,425.9L99.4,425.8L97.6,425.8L95.8,425.7L94,425.6L92.2,425.6L90.4,425.5L88.6,425.4L86.8,425.4L84.9,425.3L83.1,425.2L81.3,425.2L79.5,425.1L77.7,425L75.9,425L74.1,424.9L72.3,424.8L70.5,424.8L68.7,424.7L66.9,424.6L65,424.6L63.2,424.5L61.4,424.4L59.6,424.4L57.8,424.3L56,424.2L54.2,424.2L52.4,424.1L50.6,424L48.8,424L47,423.9L45.2,423.9Z" fill="#6E64AD" stroke="none"/><path d="M45.2,484L47,484.4L48.8,484.7L50.6,485L52.4,485.4L54.2,485.7L56,486L57.8,486.4L59.6,486.7L61.4,487L63.2,487.4L65,487.7L66.9,488.1L68.7,488.4L70.5,488.7L72.3,489.1L74.1,489.4L75.9,489.7L77.7,490.1L79.5,490.4L81.3,490.7L83.1,491.1L84.9,491.4L86.8,491.7L88.6,492.1L90.4,492.4L92.2,492.7L94,493.1L95.8,493.4L97.6,493.7L99.4,494.1L101.2,494.4L103,494.8L104.8,495.1L106.6,495.4L108.5,495.8L110.3,496.1L112.1,496.3L113.9,496.3L115.7,496.3L115.7,496.3L118.8,495.9L121.9,494.6L124.9,493.4L128,492.3L131.1,491.1L134.2,490L137.3,489L140.3,487.9L143.4,486.9L146.5,485.9L149.6,485L152.7,484L155.7,483L158.8,482L161.9,481.1L165,480.2L168.1,479.4L171.1,478.6L174.2,477.9L177.3,477.3L180.4,476.8L183.5,476.3L186.5,475.8L189.6,475.4L192.7,475L195.8,474.6L198.9,474.2L201.9,473.9L205,473.6L208.1,473.3L211.2,473L214.3,472.8L217.3,472.7L220.4,472.5L223.5,472.3L226.6,472.1L229.6,472L232.7,471.8L235.8,471.7L238.9,471.6L242,471.5L245,471.4L248.1,471.4L251.2,471.4L254.3,471.4L257.4,471.4L260.4,471.5L263.5,471.5L266.6,471.6L269.7,471.6L272.8,471.7L275.8,471.7L278.9,471.8L282,471.9L285.1,472L288.2,472.1L291.2,472.3L294.3,472.5L297.4,472.7L300.5,473L303.6,473.3L306.6,473.6L309.7,473.9L312.8,474.2L315.9,474.5L319,474.8L322,475L325.1,475.3L328.2,475.6L331.3,475.8L334.4,476.1L337.4,476.4L340.5,476.6L343.6,476.9L346.7,477.1L349.7,477.4L352.8,477.7L355.9,477.9L359,478.2L362.1,478.4L365.1,478.6L368.2,478.9L371.3,479.1L374.4,479.4L377.5,479.6L380.5,479.8L383.6,480.1L386.7,480.3L389.8,480.5L392.9,480.8L395.9,481L399,481.2L402.1,481.4L405.2,481.6L408.3,481.9L411.3,482.1L414.4,482.3L417.5,482.5L420.6,482.7L423.7,482.9L426.7,483.1L429.8,483.4L432.9,483.6L436,483.8L439.1,484L442.1,484.2L445.2,484.5L448.3,484.7L451.4,484.9L454.5,485.1L457.5,485.3L460.6,485.5L463.7,485.7L466.8,485.8L469.9,486L472.9,486.2L476,486.3L479.1,486.5L482.2,486.6L485.2,486.8L488.3,486.9L491.4,487.1L494.5,487.2L497.6,487.4L500.6,487.5L503.7,487.7L506.8,487.8L509.9,487.9L513,488.1L516,488.2L519.1,488.4L522.2,488.5L525.3,488.6L528.4,488.8L531.4,488.9L534.5,489L537.6,489.2L540.7,489.3L543.8,489.4L546.8,489.5L549.9,489.7L553,489.8L556.1,489.9L559.2,490L562.2,490.1L565.3,490.2L568.4,490.3L571.5,490.5L574.6,490.6L577.6,490.7L580.7,490.8L583.8,490.9L586.9,491L590,491.1L593,491.2L596.1,491.3L599.2,491.4L602.3,491.5L605.3,491.6L605.3,501L602.3,501.1L599.2,501.2L596.1,501.3L593,501.4L590,501.5L586.9,501.6L583.8,501.7L580.7,501.8L577.6,501.9L574.6,502L571.5,502.1L568.4,502.3L565.3,502.4L562.2,502.5L559.2,502.6L556.1,502.7L553,502.8L549.9,502.9L546.8,503.1L543.8,503.2L540.7,503.3L537.6,503.4L534.5,503.6L531.4,503.7L528.4,503.8L525.3,504L522.2,504.1L519.1,504.2L516,504.4L513,504.5L509.9,504.7L506.8,504.8L503.7,504.9L500.6,505.1L497.6,505.2L494.5,505.4L491.4,505.5L488.3,505.7L485.2,505.8L482.2,506L479.1,506.1L476,506.3L472.9,506.4L469.9,506.6L466.8,506.8L463.7,506.9L460.6,507.1L457.5,507.3L454.5,507.5L451.4,507.7L448.3,507.9L445.2,508.1L442.1,508.4L439.1,508.6L436,508.8L432.9,509L429.8,509.2L426.7,509.5L423.7,509.7L420.6,509.9L417.5,510.1L414.4,510.3L411.3,510.5L408.3,510.7L405.2,511L402.1,511.2L399,511.4L395.9,511.6L392.9,511.8L389.8,512.1L386.7,512.3L383.6,512.5L380.5,512.8L377.5,513L374.4,513.2L371.3,513.5L368.2,513.7L365.1,514L362.1,514.2L359,514.4L355.9,514.7L352.8,514.9L349.7,515.2L346.7,515.5L343.6,515.7L340.5,516L337.4,516.2L334.4,516.5L331.3,516.8L328.2,517L325.1,517.3L322,517.6L319,517.8L315.9,518.1L312.8,518.4L309.7,518.7L306.6,519L303.6,519.3L300.5,519.6L297.4,519.9L294.3,520.1L291.2,520.3L288.2,520.5L285.1,520.6L282,520.7L278.9,520.8L275.8,520.9L272.8,520.9L269.7,521L266.6,521L263.5,521.1L260.4,521.1L257.4,521.2L254.3,521.2L251.2,521.2L248.1,521.2L245,521.2L242,521.1L238.9,521L235.8,520.9L232.7,520.8L229.6,520.6L226.6,520.5L223.5,520.3L220.4,520.1L217.3,519.9L214.3,519.8L211.2,519.6L208.1,519.3L205,519L201.9,518.7L198.9,518.4L195.8,518L192.7,517.6L189.6,517.2L186.5,516.8L183.5,516.3L180.4,515.8L177.3,515.3L174.2,514.7L171.1,514L168.1,513.2L165,512.4L161.9,511.5L158.8,510.6L155.7,509.6L152.7,508.6L149.6,507.6L146.5,506.7L143.4,505.7L140.3,504.7L137.3,503.6L134.2,502.6L131.1,501.5L128,500.3L124.9,499.2L121.9,498L118.8,496.7L115.7,496.3L115.7,496.3L113.9,496.3L112.1,496.3L110.3,496.5L108.5,496.8L106.6,497.2L104.8,497.5L103,497.8L101.2,498.2L99.4,498.5L97.6,498.9L95.8,499.2L94,499.5L92.2,499.9L90.4,500.2L88.6,500.5L86.8,500.9L84.9,501.2L83.1,501.5L81.3,501.9L79.5,502.2L77.7,502.5L75.9,502.9L74.1,503.2L72.3,503.5L70.5,503.9L68.7,504.2L66.9,504.5L65,504.9L63.2,505.2L61.4,505.6L59.6,505.9L57.8,506.2L56,506.6L54.2,506.9L52.4,507.2L50.6,507.6L48.8,507.9L47,508.2L45.2,508.6Z" fill="#F2653C" stroke="none"/><path d="M45.2,426.2L45.45,419.8L45.7,406.2L45.94,394.7L46.19,393.5L46.44,403.3L46.69,417.4L46.93,425.9L47.18,422.9L47.43,410.5L47.68,397.3L47.92,392.5L48.17,399.5L48.42,413.4L48.67,424.5L48.92,425.1L49.16,414.8L49.41,400.7L49.66,392.6L49.91,396.3L50.15,409L50.4,422.1L50.65,426.3L50.9,418.8L51.14,404.7L51.39,393.9L51.64,393.9L51.89,404.7L52.14,418.8L52.38,426.4L52.63,422.1L52.88,409L53.13,396.1L53.37,392.5L53.62,400.6L53.87,414.9L54.12,425.3L54.36,424.7L54.61,413.4L54.86,399.3L55.11,392.2L55.36,397.1L55.6,410.6L55.85,423.2L56.1,426.3L56.35,417.6L56.59,403.2L56.84,393.1L57.09,394.4L57.34,406.1L57.59,420.2L57.83,426.7L58.08,421.2L58.33,407.5L58.58,395L58.82,392.6L59.07,401.9L59.32,416.4L59.57,426.1L59.81,424.1L60.06,411.9L60.31,398L60.56,391.9L60.81,398.1L61.05,412.1L61.3,424.3L61.55,426.1L61.8,416.3L62.04,401.7L62.29,392.4L62.54,395L62.79,407.6L63.03,421.5L63.28,427L63.53,420.2L63.78,405.9L64.03,394L64.27,392.8L64.52,403.2L64.77,417.9L65.02,426.7L65.26,423.4L65.51,410.4L65.76,396.7L66.01,391.8L66.25,399.2L66.5,413.7L66.75,425.2L67,425.8L67.25,414.9L67.49,400.2L67.74,391.9L67.99,395.8L68.24,409.2L68.48,422.7L68.73,427L68.98,419.1L69.23,404.3L69.47,393.1L69.72,393.2L69.97,404.6L70.22,419.3L70.47,427.1L70.71,422.6L70.96,408.9L71.21,395.5L71.46,391.8L71.7,400.4L71.95,415.3L72.2,426.1L72.45,425.3L72.69,413.4L72.94,398.8L73.19,391.5L73.44,396.7L73.69,410.7L73.93,423.9L74.18,427L74.43,417.8L74.68,402.8L74.92,392.3L75.17,393.8L75.42,406.1L75.67,420.7L75.91,427.5L76.16,421.6L76.41,407.3L76.66,394.3L76.91,391.9L77.15,401.7L77.4,416.8L77.65,426.8L77.9,424.7L78.14,411.9L78.39,397.4L78.64,391.2L78.89,397.7L79.13,412.4L79.38,425L79.63,426.8L79.88,416.4L80.13,401.2L80.37,391.7L80.62,394.5L80.87,407.7L81.12,422.1L81.36,427.7L81.61,420.5L81.86,405.6L82.11,393.3L82.36,392.2L82.6,403.1L82.85,418.4L83.1,427.4L83.35,423.9L83.59,410.3L83.84,396L84.09,391.1L84.34,398.8L84.58,414L84.83,426L85.08,426.4L85.33,415L85.58,399.7L85.82,391.1L86.07,395.3L86.32,409.3L86.57,423.4L86.81,427.8L87.06,419.3L87.31,404L87.56,392.4L87.8,392.6L88.05,404.6L88.3,419.9L88.55,427.9L88.8,423.1L89.04,408.7L89.29,394.8L89.54,391.1L89.79,400.1L90.03,415.6L90.28,426.8L90.53,425.9L90.78,413.5L91.02,398.2L91.27,390.7L91.52,396.2L91.77,410.9L92.02,424.6L92.26,427.7L92.51,418L92.76,402.4L93.01,391.6L93.25,393.2L93.5,406.1L93.75,421.3L94,428.2L94.24,422L94.49,407L94.74,393.7L94.99,391.2L95.24,401.5L95.48,417.2L95.73,427.6L95.98,425.2L96.23,411.9L96.47,396.8L96.72,390.5L96.97,397.3L97.22,412.6L97.46,425.7L97.71,427.4L97.96,416.6L98.21,400.8L98.46,390.9L98.7,393.9L98.95,407.7L99.2,422.7L99.45,428.4L99.69,420.9L99.94,405.3L100.19,392.6L100.44,391.6L100.68,402.9L100.93,418.8L101.18,428.2L101.43,424.4L101.68,410.2L101.92,395.4L102.17,390.3L102.42,398.5L102.67,414.3L102.91,426.7L103.16,427L103.41,415.1L103.66,399.2L103.9,390.4L104.15,394.8L104.4,409.4L104.65,424L104.9,428.5L105.14,419.6L105.39,403.6L105.64,391.7L105.89,392L106.13,404.5L106.38,420.4L106.63,428.6L106.88,423.5L107.13,408.5L107.37,394.2L107.62,390.4L107.87,399.9L108.12,416L108.36,427.5L108.61,426.5L108.86,413.5L109.11,397.7L109.35,390L109.6,395.8L109.85,411.1L110.1,425.2L110.35,428.3L110.59,418.2L110.84,402L111.09,390.9L111.34,392.7L111.58,406.1L111.83,421.9L112.08,429L112.33,422.4L112.57,406.8L112.82,393L113.07,390.6L113.32,401.3L113.57,417.7L113.81,428.3L114.06,425.8L114.31,411.8L114.56,396.2L114.8,389.7L115.05,397L115.3,412.9L115.55,426.4L115.79,458.8L116.04,428.8L116.29,385.3L116.54,358.6L116.79,367.2L117.03,405.2L117.28,446.1L117.53,461.4L117.78,440.5L118.02,397.9L118.27,363.4L118.52,360.8L118.77,392.1L119.01,435.5L119.26,460.6L119.51,450.1L119.76,411.3L120.01,371.1L120.25,357.7L120.5,380.2L120.75,423.1L121,456.4L121.24,457L121.49,424.5L121.74,381.4L121.99,357.9L122.23,370.2L122.48,409.8L122.73,449.1L122.98,460.8L123.23,436.6L123.47,393.5L123.72,361.5L123.97,362.8L124.22,396.6L124.46,439.2L124.71,461.1L124.96,447L125.21,406.7L125.45,368.3L125.7,358.5L125.95,384.2L126.2,427.4L126.45,458.1L126.69,454.8L126.94,420L127.19,377.8L127.44,357.6L127.68,373.5L127.93,414.4L128.18,451.8L128.43,459.7L128.67,432.5L128.92,389.3L129.17,360.1L129.42,365.2L129.67,401.1L129.91,442.8L130.16,461.2L130.41,443.5L130.66,402.1L130.9,365.8L131.15,359.8L131.4,388.4L131.65,431.5L131.9,459.3L132.14,452.3L132.39,415.4L132.64,374.4L132.89,357.7L133.13,377.1L133.38,418.9L133.63,454.1L133.88,458.2L134.12,428.3L134.37,385.3L134.62,359.1L134.87,367.9L135.12,405.7L135.36,446L135.61,460.8L135.86,439.9L136.11,397.7L136.35,363.7L136.6,361.5L136.85,392.7L137.1,435.5L137.34,460.1L137.59,449.4L137.84,410.9L138.09,371.3L138.34,358.3L138.58,380.9L138.83,423.3L139.08,456L139.33,456.3L139.57,423.9L139.82,381.5L140.07,358.5L140.32,371L140.56,410.2L140.81,448.9L141.06,460L141.31,436L141.56,393.4L141.8,362L142.05,363.6L142.3,397.1L142.55,439.2L142.79,460.5L143.04,446.2L143.29,406.3L143.54,368.6L143.78,359.3L144.03,384.9L144.28,427.5L144.53,457.5L144.78,454L145.02,419.5L145.27,377.9L145.52,358.3L145.77,374.3L146.01,414.7L146.26,451.4L146.51,458.9L146.76,431.9L147,389.2L147.25,360.7L147.5,366L147.75,401.6L148,442.6L148.24,460.4L148.49,442.8L148.74,401.9L148.99,366.2L149.23,360.7L149.48,389L149.73,431.6L149.98,458.6L150.22,451.4L150.47,415L150.72,374.6L150.97,358.5L151.22,377.9L151.46,419.1L151.71,453.6L151.96,457.3L152.21,427.6L152.45,385.3L152.7,359.8L152.95,368.8L153.2,406.1L153.44,445.7L153.69,460L153.94,439.1L154.19,397.5L154.44,364.3L154.68,362.4L154.93,393.3L155.18,435.4L155.43,459.3L155.67,448.5L155.92,410.5L156.17,371.7L156.42,359.2L156.67,381.7L156.91,423.4L157.16,455.4L157.41,455.3L157.66,423.3L157.9,381.6L158.15,359.3L158.4,371.9L158.65,410.6L158.89,448.4L159.14,459.1L159.39,435.2L159.64,393.3L159.89,362.7L160.13,364.6L160.38,397.7L160.63,438.9L160.88,459.6L161.12,445.3L161.37,406L161.62,369.1L161.87,360.3L162.11,385.6L162.36,427.5L162.61,456.7L162.86,453L163.11,418.9L163.35,378.2L163.6,359.3L163.85,375.2L164.1,415L164.34,450.8L164.59,457.8L164.84,431.1L165.09,389.3L165.33,361.5L165.58,367.1L165.83,402.1L166.08,442.2L166.33,459.4L166.57,441.8L166.82,401.7L167.07,366.9L167.32,361.8L167.56,389.8L167.81,431.4L168.06,457.7L168.31,450.3L168.55,414.5L168.8,375.1L169.05,359.7L169.3,378.8L169.55,419.3L169.79,452.8L170.04,456.1L170.29,426.9L170.54,385.5L170.78,360.8L171.03,369.9L171.28,406.5L171.53,445.1L171.77,458.8L172.02,438.1L172.27,397.4L172.52,365.1L172.77,363.7L173.01,394L173.26,435.1L173.51,458.2L173.76,447.4L174,410.1L174.25,372.4L174.5,360.5L174.75,382.6L174.99,423.4L175.24,454.4L175.49,454.1L175.74,422.6L175.99,382L176.23,360.5L176.48,373L176.73,410.9L176.98,447.7L177.22,457.8L177.47,434.2L177.72,393.4L177.97,363.7L178.21,365.9L178.46,398.3L178.71,438.4L178.96,458.3L179.21,444.1L179.45,405.8L179.7,370L179.95,361.7L180.2,386.6L180.44,427.4L180.69,455.6L180.94,451.7L181.19,418.3L181.44,378.8L181.68,360.6L181.93,376.4L182.18,415.2L182.43,449.9L182.67,456.4L182.92,430.2L183.17,389.5L183.42,362.8L183.66,368.5L183.91,402.7L184.16,441.5L184.41,457.9L184.66,440.6L184.9,401.5L185.15,368L185.4,363.3L185.65,390.7L185.89,431.1L186.14,456.3L186.39,448.9L186.64,414L186.88,375.9L187.13,361.2L187.38,380.1L187.63,419.3L187.88,451.6L188.12,454.5L188.37,426L188.62,386L188.87,362.3L189.11,371.4L189.36,407L189.61,444.2L189.86,457.1L190.1,436.9L190.35,397.5L190.6,366.5L190.85,365.4L191.1,394.9L191.34,434.5L191.59,456.6L191.84,445.8L192.09,409.7L192.33,373.5L192.58,362.3L192.83,383.9L193.08,423.2L193.32,452.9L193.57,452.3L193.82,421.8L194.07,382.7L194.32,362.3L194.56,374.6L194.81,411.2L195.06,446.4L195.31,455.9L195.55,433L195.8,393.7L196.05,365.4L196.3,367.8L196.54,399.1L196.79,437.6L197.04,456.4L197.29,442.5L197.54,405.6L197.78,371.4L198.03,363.7L198.28,387.8L198.53,426.9L198.77,453.8L199.02,449.7L199.27,417.6L199.52,379.8L199.76,362.7L200.01,378.1L200.26,415.3L200.51,448.3L200.76,454.2L201,428.9L201.25,390.1L201.5,364.8L201.75,370.5L201.99,403.3L202.24,440.3L202.49,455.7L202.74,438.9L202.98,401.6L203.23,369.7L203.48,365.5L203.73,391.9L203.98,430.4L204.22,454.2L204.47,446.8L204.72,413.4L204.97,377.3L205.21,363.5L205.46,381.7L205.71,419.2L205.96,449.8L206.21,452.2L206.45,424.9L206.7,386.8L206.95,364.5L207.2,373.5L207.44,407.4L207.69,442.7L207.94,454.8L208.19,435.2L208.43,397.8L208.68,368.4L208.93,367.7L209.18,395.9L209.43,433.5L209.67,454.3L209.92,443.8L210.17,409.4L210.42,375L210.66,364.7L210.91,385.4L211.16,422.9L211.41,450.9L211.65,450L211.9,420.9L212.15,383.8L212.4,364.6L212.65,376.6L212.89,411.4L213.14,444.8L213.39,453.4L213.64,431.5L213.88,394.2L214.13,367.5L214.38,370L214.63,400L214.87,436.4L215.12,454L215.37,440.5L215.62,405.4L215.87,373.1L216.11,366.1L216.36,389.2L216.61,426.3L216.86,451.6L217.1,447.5L217.35,416.8L217.6,381.1L217.85,365.1L218.09,379.9L218.34,415.3L218.59,446.5L218.84,451.8L219.09,427.6L219.33,390.8L219.58,367L219.83,372.7L220.08,403.9L220.32,438.9L220.57,453.3L220.82,437.1L221.07,401.7L221.31,371.6L221.56,367.9L221.81,393.1L222.06,429.6L222.31,451.9L222.55,444.7L222.8,412.9L223.05,378.7L223.3,365.9L223.54,383.4L223.79,419L224.04,447.8L224.29,449.9L224.53,423.8L224.78,387.7L225.03,366.8L225.28,375.6L225.53,407.8L225.77,441.1L226.02,452.3L226.27,433.6L226.52,398.1L226.76,370.5L227.01,370L227.26,396.9L227.51,432.5L227.75,451.9L228,441.7L228.25,409.1L228.5,376.7L228.75,367.1L228.99,387L229.24,422.4L229.49,448.7L229.74,447.6L229.98,419.9L230.23,385L230.48,367L230.73,378.6L230.98,411.6L231.22,443L231.47,450.9L231.72,430L231.97,394.7L232.21,369.7L232.46,372.4L232.71,400.8L232.96,435.1L233.2,451.5L233.45,438.6L233.7,405.4L233.95,375L234.2,368.6L234.44,390.6L234.69,425.7L234.94,449.3L235.19,445.1L235.43,416.1L235.68,382.5L235.93,367.6L236.18,381.9L236.42,415.2L236.67,444.5L236.92,449.3L237.17,426.3L237.42,391.6L237.66,369.3L237.91,375L238.16,404.6L238.41,437.5L238.65,450.8L238.9,435.3L239.15,401.8L239.4,373.7L239.64,370.4L239.89,394.3L240.14,428.6L240.39,449.5L240.64,442.5L240.88,412.4L241.13,380.3L241.38,368.5L241.63,385.2L241.87,418.7L242.12,445.7L242.37,447.4L242.62,422.7L242.86,388.8L243.11,369.3L243.36,377.7L243.61,408.2L243.86,439.5L244.1,449.8L244.35,431.9L244.6,398.5L244.85,372.7L245.09,372.5L245.34,398L245.59,431.4L245.84,449.5L246.08,439.6L246.33,408.8L246.58,378.4L246.83,369.7L247.08,388.6L247.32,421.9L247.57,446.5L247.82,445.3L248.07,419L248.31,386.1L248.56,369.5L248.81,380.6L249.06,411.8L249.3,441.2L249.55,448.5L249.8,428.5L250.05,395.3L250.3,372L250.54,374.7L250.79,401.6L251.04,433.9L251.29,449.1L251.53,436.7L251.78,405.3L252.03,376.8L252.28,371.1L252.52,392L252.77,425L253.02,447.1L253.27,442.9L253.52,415.4L253.76,383.8L254.01,370L254.26,383.7L254.51,415.2L254.75,442.6L255,446.9L255.25,425.1L255.5,392.4L255.75,371.5L255.99,377.1L256.24,405.1L256.49,436.1L256.74,448.4L256.98,433.6L257.23,402L257.48,375.5L257.73,372.7L257.97,395.4L258.22,427.8L258.47,447.3L258.72,440.4L258.97,411.9L259.21,381.7L259.46,370.8L259.71,386.8L259.96,418.4L260.2,443.8L260.45,445.2L260.7,421.7L260.95,389.7L261.19,371.4L261.44,379.7L261.69,408.6L261.94,438L262.19,447.5L262.43,430.5L262.68,398.8L262.93,374.6L263.18,374.6L263.42,398.9L263.67,430.4L263.92,447.3L264.17,437.8L264.41,408.5L264.66,379.9L264.91,371.9L265.16,389.9L265.41,421.5L265.65,444.6L265.9,443.2L266.15,418.2L266.4,387.2L266.64,371.6L266.89,382.4L267.14,411.9L267.39,439.7L267.63,446.3L267.88,427.2L268.13,395.8L268.38,373.9L268.63,376.7L268.87,402.3L269.12,432.8L269.37,447L269.62,435L269.86,405.2L270.11,378.4L270.36,373.2L270.61,393.2L270.85,424.4L271.1,445.1L271.35,441L271.6,414.9L271.85,385L272.09,372.1L272.34,385.2L272.59,415.1L272.84,441L273.08,444.8L273.33,424L273.58,393L273.83,373.5L274.07,379L274.32,405.6L274.57,434.8L274.82,446.3L275.07,432.1L275.31,402.1L275.56,377.2L275.81,374.8L276.06,396.4L276.3,427.1L276.55,445.4L276.8,438.6L277.05,411.5L277.29,383L277.54,372.9L277.79,388.2L278.04,418.2L278.29,442.1L278.53,443.1L278.78,420.7L279.03,390.5L279.28,373.4L279.52,381.4L279.77,408.9L280.02,436.6L280.27,445.4L280.52,429.1L280.76,399.1L281.01,376.3L281.26,376.6L281.51,399.7L281.75,429.5L282,445.3L282.25,436.1L282.5,408.3L282.74,381.4L282.99,374L283.24,391.2L283.49,421.1L283.74,442.8L283.98,441.2L284.23,417.5L284.48,388.2L284.73,373.7L284.97,384.1L285.22,412L285.47,438.1L285.72,444.2L285.96,426L286.21,396.3L286.46,375.8L286.71,378.6L286.96,402.9L287.2,431.7L287.45,444.9L287.7,433.4L287.95,405.2L288.19,380L288.44,375.3L288.69,394.3L288.94,423.8L289.18,443.2L289.43,439.1L289.68,414.3L289.93,386.1L290.18,374.2L290.42,386.8L290.67,415.1L290.92,439.4L291.17,442.8L291.41,423L291.66,393.7L291.91,375.4L292.16,380.8L292.4,406.1L292.65,433.6L292.9,444.2L293.15,430.6L293.4,402.3L293.64,378.9L293.89,376.8L294.14,397.4L294.39,426.3L294.63,443.4L294.88,436.8L295.13,411.2L295.38,384.3L295.62,375L295.87,389.6L296.12,418L296.37,440.3L296.62,441.1L296.86,419.9L297.11,391.3L297.36,375.4L297.61,383.2L297.85,409.2L298.1,435.3L298.35,443.3L298.6,427.8L298.84,399.5L299.09,378.1L299.34,378.6L299.59,400.5L299.84,428.6L300.08,443.3L300.33,434.4L300.58,408.1L300.83,382.8L301.07,376L301.32,392.5L301.57,420.7L301.82,441L302.06,439.3L302.31,416.8L302.56,389.2L302.81,375.7L303.06,385.7L303.3,412.1L303.55,436.7L303.8,442.2L304.05,424.9L304.29,396.8L304.54,377.6L304.79,380.5L305.04,403.5L305.29,430.6L305.53,442.9L305.78,431.8L306.03,405.2L306.28,381.5L306.52,377.3L306.77,395.4L307.02,423.2L307.27,441.4L307.51,437.3L307.76,413.8L308.01,387.3L308.26,376.2L308.51,388.3L308.75,415L309,437.8L309.25,440.8L309.5,421.9L309.74,394.4L309.99,377.4L310.24,382.6L310.49,406.5L310.73,432.4L310.98,442.2L311.23,429.2L311.48,402.4L311.73,380.6L311.97,378.8L312.22,398.3L312.47,425.5L312.72,441.4L312.96,435.1L313.21,410.8L313.46,385.7L313.71,377L313.95,391L314.2,417.7L314.45,438.6L314.7,439.2L314.95,419L315.19,392.2L315.44,377.4L315.69,384.9L315.94,409.4L316.18,433.9L316.43,441.2L316.68,426.5L316.93,399.8L317.17,379.9L317.42,380.5L317.67,401.2L317.92,427.6L318.17,441.2L318.41,432.7L318.66,408L318.91,384.3L319.16,378.1L319.4,393.7L319.65,420.2L319.9,439.1L320.15,437.3L320.39,416.1L320.64,390.3L320.89,377.8L321.14,387.3L321.39,412.2L321.63,435L321.88,440L322.13,423.7L322.38,397.4L322.62,379.6L322.87,382.5L323.12,404.1L323.37,429.4L323.61,440.7L323.86,430.2L324.11,405.3L324.36,383.3L324.61,379.5L324.85,396.5L325.1,422.5L325.35,439.3L325.6,435.2L325.84,413.3L326.09,388.6L326.34,378.5L326.59,389.9L326.83,414.8L327.08,435.9L327.33,438.5L327.58,420.9L327.83,395.3L328.07,379.6L328.32,384.7L328.57,406.9L328.82,430.9L329.06,439.8L329.31,427.6L329.56,402.7L329.81,382.6L330.06,381.1L330.3,399.3L330.55,424.5L330.8,439.1L331.05,433L331.29,410.5L331.54,387.3L331.79,379.5L332.04,392.5L332.28,417.3L332.53,436.5L332.78,436.8L333.03,418.1L333.28,393.4L333.52,379.9L333.77,386.9L334.02,409.6L334.27,432.1L334.51,438.7L334.76,424.9L335.01,400.4L335.26,382.2L335.5,382.9L335.75,402.1L336,426.3L336.25,438.7L336.5,430.7L336.74,407.9L336.99,386.2L337.24,380.7L337.49,395.2L337.73,419.5L337.98,436.7L338.23,434.9L338.48,415.3L338.72,391.7L338.97,380.4L339.22,389.3L339.47,412.2L339.72,433L339.96,437.4L340.21,422.3L340.46,398.3L340.71,382L340.95,384.9L341.2,404.8L341.45,427.8L341.7,438L341.94,428.2L342.19,405.4L342.44,385.4L342.69,382.1L342.94,397.8L343.18,421.5L343.43,436.7L343.68,432.9L343.93,412.7L344.17,390.3L344.42,381.2L344.67,391.8L344.92,414.5L345.16,433.7L345.41,435.9L345.66,419.7L345.91,396.3L346.16,382.2L346.4,387L346.65,407.4L346.9,429.1L347.15,437.1L347.39,425.8L347.64,403.1L347.89,384.9L348.14,383.7L348.38,400.4L348.63,423.3L348.88,436.5L349.13,430.8L349.38,410.2L349.62,389.1L349.87,382.2L350.12,394.2L350.37,416.7L350.61,434.1L350.86,434.2L351.11,417.1L351.36,394.7L351.6,382.5L351.85,389.1L352.1,409.8L352.35,430.1L352.6,436L352.84,423.3L353.09,401L353.34,384.6L353.59,385.4L353.83,403L354.08,424.9L354.33,436L354.58,428.6L354.83,407.8L355.07,388.2L355.32,383.4L355.57,396.7L355.82,418.8L356.06,434.3L356.31,432.5L356.56,414.6L356.81,393.2L357.05,383.1L357.3,391.3L357.55,412.1L357.8,431L358.05,434.8L358.29,420.9L358.54,399.1L358.79,384.5L359.04,387.2L359.28,405.4L359.53,426.3L359.78,435.4L360.03,426.4L360.27,405.6L360.52,387.5L360.77,384.7L361.02,399.1L361.27,420.6L361.51,434.3L361.76,430.6L362.01,412.2L362.26,391.9L362.5,383.8L362.75,393.5L363,414.3L363.25,431.6L363.49,433.4L363.74,418.5L363.99,397.4L364.24,384.6L364.49,389.1L364.73,407.7L364.98,427.4L365.23,434.6L365.48,424.2L365.72,403.5L365.97,387L366.22,386.1L366.47,401.4L366.71,422.2L366.96,434L367.21,428.7L367.46,409.9L367.71,390.9L367.95,384.7L368.2,395.8L368.45,416.3L368.7,431.9L368.94,431.9L369.19,416.2L369.44,395.8L369.69,384.9L369.93,391.1L370.18,409.9L370.43,428.4L370.68,433.6L370.93,421.9L371.17,401.6L371.42,386.8L371.67,387.7L371.92,403.7L372.16,423.6L372.41,433.6L372.66,426.7L372.91,407.8L373.15,390L373.4,385.8L373.65,398L373.9,418.1L374.15,432.1L374.39,430.3L374.64,414L374.89,394.5L375.14,385.5L375.38,393.1L375.63,412L375.88,429.1L376.13,432.4L376.37,419.7L376.62,399.9L376.87,386.7L377.12,389.4L377.37,405.9L377.61,424.9L377.86,433L378.11,424.7L378.36,405.8L378.6,389.4L378.85,387L379.1,400.2L379.35,419.7L379.6,432L379.84,428.6L380.09,411.8L380.34,393.4L380.59,386.2L380.83,395.1L381.08,414L381.33,429.6L381.58,431.1L381.82,417.5L382.07,398.3L382.32,386.9L382.57,391.1L382.82,408.1L383.06,425.9L383.31,432.2L383.56,422.6L383.81,403.9L384.05,389L384.3,388.4L384.55,402.3L384.8,421.2L385.04,431.8L385.29,426.8L385.54,409.7L385.79,392.5L386.04,387L386.28,397.2L386.53,415.8L386.78,429.9L387.03,429.7L387.27,415.4L387.52,397L387.77,387.2L388.02,392.9L388.26,410.1L388.51,426.7L388.76,431.3L389.01,420.6L389.26,402.2L389.5,388.8L389.75,389.8L390,404.4L390.25,422.4L390.49,431.4L390.74,425L390.99,407.8L391.24,391.8L391.48,388.1L391.73,399.2L391.98,417.4L392.23,430L392.48,428.2L392.72,413.4L392.97,395.8L393.22,387.7L393.47,394.7L393.71,411.9L393.96,427.3L394.21,430.2L394.46,418.6L394.7,400.6L394.95,388.8L395.2,391.3L395.45,406.4L395.7,423.5L395.94,430.8L396.19,423.1L396.44,406L396.69,391.2L396.93,389.2L397.18,401.2L397.43,418.9L397.68,429.9L397.92,426.7L398.17,411.4L398.42,394.8L398.67,388.4L398.92,396.6L399.16,413.7L399.41,427.8L399.66,429L399.91,416.6L400.15,399.2L400.4,389L400.65,392.9L400.9,408.3L401.14,424.4L401.39,430L401.64,421.3L401.89,404.3L402.14,390.9L402.38,390.4L402.63,403.1L402.88,420.2L403.13,429.7L403.37,425.1L403.62,409.5L403.87,394L404.12,389.2L404.37,398.5L404.61,415.3L404.86,428L405.11,427.7L405.36,414.7L405.6,398L405.85,389.3L406.1,394.6L406.35,410.1L406.59,425.2L406.84,429.2L407.09,419.4L407.34,402.7L407.59,390.7L407.83,391.7L408.08,405L408.33,421.3L408.58,429.3L408.82,423.4L409.07,407.8L409.32,393.4L409.57,390.1L409.81,400.3L410.06,416.8L410.31,428.1L410.56,426.4L410.81,412.9L411.05,397L411.3,389.8L411.55,396.2L411.8,411.8L412.04,425.7L412.29,428.2L412.54,417.6L412.79,401.3L413.03,390.7L413.28,393.1L413.53,406.8L413.78,422.3L414.03,428.7L414.27,421.7L414.52,406.2L414.77,392.9L415.02,391.2L415.26,402.1L415.51,418.1L415.76,428L416.01,424.9L416.25,411.1L416.5,396.1L416.75,390.4L417,397.9L417.25,413.4L417.49,426.1L417.74,427.1L417.99,415.8L418.24,400.1L418.48,390.9L418.73,394.6L418.98,408.6L419.23,423.1L419.47,428L419.72,420L419.97,404.6L420.22,392.6L420.47,392.3L420.71,403.9L420.96,419.3L421.21,427.7L421.46,423.4L421.7,409.4L421.95,395.4L422.2,391.2L422.45,399.6L422.69,414.9L422.94,426.3L423.19,425.9L423.44,414.1L423.69,399L423.93,391.2L424.18,396.1L424.43,410.2L424.68,423.7L424.92,427.2L425.17,418.3L425.42,403.3L425.67,392.5L425.91,393.5L426.16,405.6L426.41,420.3L426.66,427.3L426.91,421.9L427.15,407.8L427.4,394.9L427.65,392L427.9,401.3L428.14,416.2L428.39,426.3L428.64,424.6L428.89,412.4L429.14,398.1L429.38,391.7L429.63,397.6L429.88,411.7L430.13,424.1L430.37,426.3L430.62,416.7L430.87,402L431.12,392.6L431.36,394.8L431.61,407.2L431.86,421.1L432.11,426.8L432.36,420.4L432.6,406.4L432.85,394.5L433.1,393L433.35,403L433.59,417.3L433.84,426.2L434.09,423.3L434.34,410.8L434.58,397.4L434.83,392.3L435.08,399.2L435.33,413.1L435.58,424.4L435.82,425.2L436.07,415L436.32,400.9L436.57,392.8L436.81,396.2L437.06,408.8L437.31,421.8L437.56,426.1L437.8,418.8L438.05,405L438.3,394.3L438.55,394.1L438.8,404.6L439.04,418.3L439.29,425.9L439.54,421.9L439.79,409.3L440.03,396.8L440.28,393.1L440.53,400.7L440.78,414.4L441.02,424.6L441.27,424.1L441.52,413.5L441.77,400L442.02,393.1L442.26,397.6L442.51,410.2L442.76,422.3L443.01,425.3L443.25,417.3L443.5,403.8L443.75,394.2L444,395.3L444.24,406.1L444.49,419.2L444.74,425.4L444.99,420.5L445.24,407.9L445.48,396.3L445.73,393.9L445.98,402.3L446.23,415.6L446.47,424.5L446.72,422.9L446.97,412L447.22,399.2L447.46,393.6L447.71,399L447.96,411.6L448.21,422.6L448.46,424.4L448.7,415.8L448.95,402.7L449.2,394.3L449.45,396.5L449.69,407.6L449.94,419.9L450.19,424.9L450.44,419.1L450.68,406.6L450.93,396L451.18,394.8L451.43,403.8L451.68,416.6L451.92,424.4L452.17,421.7L452.42,410.5L452.67,398.6L452.91,394.2L453.16,400.4L453.41,412.8L453.66,422.9L453.91,423.5L454.15,414.3L454.4,401.8L454.65,394.6L454.9,397.7L455.14,409L455.39,420.5L455.64,424.3L455.89,417.7L456.13,405.4L456.38,395.9L456.63,395.8L456.88,405.2L457.13,417.5L457.37,424.1L457.62,420.5L457.87,409.2L458.12,398.1L458.36,394.9L458.61,401.8L458.86,414L459.11,422.9L459.35,422.5L459.6,412.9L459.85,400.9L460.1,394.9L460.35,398.9L460.59,410.3L460.84,420.9L461.09,423.6L461.34,416.3L461.58,404.3L461.83,395.9L462.08,396.8L462.33,406.6L462.57,418.2L462.82,423.7L463.07,419.2L463.32,407.9L463.57,397.7L463.81,395.6L464.06,403.1L464.31,415L464.56,422.9L464.8,421.4L465.05,411.6L465.3,400.2L465.55,395.3L465.79,400.2L466.04,411.5L466.29,421.3L466.54,422.8L466.79,415L467.03,403.3L467.28,395.9L467.53,397.9L467.78,407.9L468.02,418.9L468.27,423.2L468.52,418L468.77,406.8L469.01,397.4L469.26,396.4L469.51,404.5L469.76,415.9L470.01,422.8L470.25,420.4L470.5,410.3L470.75,399.7L471,395.8L471.24,401.4L471.49,412.6L471.74,421.5L471.99,422L472.23,413.7L472.48,402.5L472.73,396.1L472.98,399L473.23,409.1L473.47,419.4L473.72,422.7L473.97,416.8L474.22,405.7L474.46,397.3L474.71,397.3L474.96,405.7L475.21,416.7L475.45,422.6L475.7,419.3L475.95,409.1L476.2,399.2L476.45,396.4L476.69,402.7L476.94,413.6L477.19,421.6L477.44,421.1L477.68,412.5L477.93,401.7L478.18,396.4L478.43,400.1L478.68,410.3L478.92,419.8L479.17,422.1L479.42,415.5L479.67,404.7L479.91,397.2L480.16,398.2L480.41,406.9L480.66,417.4L480.9,422.2L481.15,418.1L481.4,408L481.65,398.8L481.9,397.1L482.14,403.9L482.39,414.5L482.64,421.5L482.89,420.1L483.13,411.3L483.38,401.1L483.63,396.8L483.88,401.2L484.12,411.3L484.37,420.1L484.62,421.4L484.87,414.3L485.12,403.9L485.36,397.3L485.61,399.1L485.86,408.1L486.11,418L486.35,421.8L486.6,417L486.85,407L487.1,398.6L487.34,397.8L487.59,405L487.84,415.3L488.09,421.4L488.34,419.2L488.58,410.1L488.83,400.6L489.08,397.2L489.33,402.3L489.57,412.3L489.82,420.3L490.07,420.6L490.32,413.2L490.56,403.1L490.81,397.5L491.06,400.1L491.31,409.2L491.56,418.4L491.8,421.3L492.05,415.9L492.3,406L492.55,398.5L492.79,398.6L493.04,406.2L493.29,416L493.54,421.2L493.78,418.2L494.03,409.1L494.28,400.2L494.53,397.8L494.78,403.4L495.02,413.2L495.27,420.3L495.52,419.8L495.77,412.1L496.01,402.5L496.26,397.7L496.51,401.1L496.76,410.3L497,418.8L497.25,420.7L497.5,414.8L497.75,405.2L498,398.5L498.24,399.4L498.49,407.3L498.74,416.6L498.99,420.9L499.23,417.2L499.48,408.1L499.73,399.9L499.98,398.4L500.22,404.5L500.47,414L500.72,420.3L500.97,419L501.22,411L501.46,401.9L501.71,398.1L501.96,402.1L502.21,411.2L502.45,419L502.7,420.1L502.95,413.7L503.2,404.4L503.45,398.5L503.69,400.3L503.94,408.3L504.19,417.1L504.44,420.5L504.68,416.2L504.93,407.1L505.18,399.7L505.43,399L505.67,405.6L505.92,414.8L506.17,420.2L506.42,418.1L506.67,410L506.91,401.5L507.16,398.5L507.41,403.1L507.66,412.1L507.9,419.2L508.15,419.4L508.4,412.7L508.65,403.7L508.89,398.7L509.14,401.2L509.39,409.3L509.64,417.5L509.89,420L510.13,415.2L510.38,406.3L510.63,399.6L510.88,399.8L511.12,406.6L511.37,415.4L511.62,420L511.87,417.2L512.11,409L512.36,401.1L512.61,399L512.86,404.1L513.11,412.9L513.35,419.2L513.6,418.7L513.85,411.7L514.1,403.2L514.34,399L514.59,402.1L514.84,410.2L515.09,417.8L515.33,419.5L515.58,414.2L515.83,405.5L516.08,399.6L516.33,400.5L516.57,407.6L516.82,415.9L517.07,419.7L517.32,416.3L517.56,408.1L517.81,400.9L518.06,399.6L518.31,405.1L518.55,413.6L518.8,419.1L519.05,417.9L519.3,410.7L519.55,402.7L519.79,399.3L520.04,403L520.29,411.1L520.54,418L520.78,418.9L521.03,413.2L521.28,404.9L521.53,399.7L521.77,401.3L522.02,408.5L522.27,416.3L522.52,419.3L522.77,415.4L523.01,407.3L523.26,400.7L523.51,400.2L523.76,406.1L524,414.2L524.25,419L524.5,417.1L524.75,409.8L524.99,402.3L525.24,399.7L525.49,403.9L525.74,411.9L525.99,418.1L526.23,418.3L526.48,412.3L526.73,404.3L526.98,399.9L527.22,402.1L527.47,409.4L527.72,416.6L527.97,418.8L528.22,414.5L528.46,406.6L528.71,400.7L528.96,400.9L529.21,407L529.45,414.8L529.7,418.8L529.95,416.3L530.2,409L530.44,402L530.69,400.2L530.94,404.8L531.19,412.6L531.44,418.1L531.68,417.6L531.93,411.4L532.18,403.8L532.43,400.1L532.67,402.9L532.92,410.2L533.17,416.9L533.42,418.3L533.66,413.6L533.91,405.9L534.16,400.7L534.41,401.6L534.66,407.9L534.9,415.2L535.15,418.5L535.4,415.5L535.65,408.2L535.89,401.8L536.14,400.7L536.39,405.7L536.64,413.2L536.88,418.1L537.13,416.9L537.38,410.5L537.63,403.4L537.88,400.5L538.12,403.8L538.37,411L538.62,417.1L538.87,417.8L539.11,412.7L539.36,405.3L539.61,400.8L539.86,402.3L540.1,408.7L540.35,415.6L540.6,418.2L540.85,414.6L541.1,407.5L541.34,401.7L541.59,401.3L541.84,406.5L542.09,413.7L542.33,417.9L542.58,416.2L542.83,409.7L543.08,403.1L543.32,400.8L543.57,404.6L543.82,411.6L544.07,417.2L544.32,417.2L544.56,411.9L544.81,404.8L545.06,401L545.31,403L545.55,409.5L545.8,415.9L546.05,417.8L546.3,413.8L546.54,406.8L546.79,401.6L547.04,401.8L547.29,407.3L547.54,414.2L547.78,417.7L548.03,415.5L548.28,409L548.53,402.8L548.77,401.2L549.02,405.4L549.27,412.3L549.52,417.2L549.76,416.7L550.01,411.1L550.26,404.4L550.51,401.2L550.76,403.7L551,410.2L551.25,416.1L551.5,417.3L551.75,413.1L551.99,406.2L552.24,401.6L552.49,402.5L552.74,408.1L552.99,414.6L553.23,417.5L553.48,414.7L553.73,408.3L553.98,402.6L554.22,401.7L554.47,406.1L554.72,412.8L554.97,417.1L555.21,416L555.46,410.3L555.71,404L555.96,401.4L556.21,404.4L556.45,410.8L556.7,416.2L556.95,416.9L557.2,412.3L557.44,405.7L557.69,401.7L557.94,403.1L558.19,408.8L558.43,414.9L558.68,417.2L558.93,414L559.18,407.6L559.43,402.5L559.67,402.2L559.92,406.9L560.17,413.3L560.42,417L560.66,415.4L560.91,409.6L561.16,403.7L561.41,401.8L561.65,405.1L561.9,411.5L562.15,416.3L562.4,416.4L562.65,411.6L562.89,405.3L563.14,401.9L563.39,403.7L563.64,409.5L563.88,415.2L564.13,416.8L564.38,413.3L564.63,407.1L564.87,402.5L565.12,402.7L565.37,407.6L565.62,413.7L565.87,416.8L566.11,414.7L566.36,409L566.61,403.5L566.86,402.2L567.1,405.9L567.35,412L567.6,416.3L567.85,415.8L568.09,410.8L568.34,404.9L568.59,402.1L568.84,404.4L569.09,410.1L569.33,415.4L569.58,416.4L569.83,412.6L570.08,406.6L570.32,402.5L570.57,403.3L570.82,408.3L571.07,414.1L571.31,416.6L571.56,414.1L571.81,408.4L572.06,403.4L572.31,402.6L572.55,406.6L572.8,412.5L573.05,416.2L573.3,415.2L573.54,410.2L573.79,404.6L574.04,402.4L574.29,405L574.53,410.7L574.78,415.5L575.03,416L575.28,411.9L575.53,406.1L575.77,402.6L576.02,403.9L576.27,408.9L576.52,414.3L576.76,416.2L577.01,413.4L577.26,407.8L577.51,403.3L577.76,403.1L578,407.2L578.25,412.9L578.5,416.1L578.75,414.6L578.99,409.6L579.24,404.4L579.49,402.7L579.74,405.7L579.98,411.2L580.23,415.5L580.48,415.4L580.73,411.2L580.98,405.8L581.22,402.8L581.47,404.5L581.72,409.5L581.97,414.5L582.21,415.9L582.46,412.7L582.71,407.3L582.96,403.4L583.2,403.6L583.45,407.9L583.7,413.2L583.95,415.8L584.2,414L584.44,409L584.69,404.3L584.94,403.2L585.19,406.4L585.43,411.7L585.68,415.4L585.93,414.9L586.18,410.6L586.42,405.5L586.67,403.1L586.92,405.1L587.17,410.1L587.42,414.6L587.66,415.4L587.91,412.1L588.16,406.9L588.41,403.5L588.65,404.2L588.9,408.5L589.15,413.4L589.4,415.5L589.64,413.4L589.89,408.5L590.14,404.2L590.39,403.6L590.64,407L590.88,412.1L591.13,415.2L591.38,414.4L591.63,410L591.87,405.3L592.12,403.4L592.37,405.7L592.62,410.6L592.86,414.6L593.11,415L593.36,411.5L593.61,406.6L593.86,403.6L594.1,404.7L594.35,409.1L594.6,413.6L594.85,415.2L595.09,412.8L595.34,408L595.59,404.2L595.84,404L596.08,407.6L596.33,412.4L596.58,415.1L596.83,413.8L597.08,409.5L597.32,405.1L597.57,403.7L597.82,406.3L598.07,411L598.31,414.6L598.56,414.6L598.81,410.9L599.06,406.2L599.3,403.8L599.55,405.2L599.8,409.6L600.05,413.8L600.3,415L600.54,412.3L600.79,407.6L601.04,404.2L601.29,404.4L601.53,408.1L601.78,412.7L602.03,415L602.28,413.4L602.53,409L602.77,404.9L603.02,404L603.27,406.8L603.52,411.4L603.76,414.6L604.01,414.2L604.26,410.4L604.51,405.9L604.75,403.9L605,405.7L605.25,410L605.5,414" fill="none" stroke="#6E64AD" stroke-width="1.2" stroke-linejoin="round"/><path d="M45.2,510.7L45.45,505.2L45.7,493.6L45.94,483.9L46.19,482.9L46.44,491.2L46.69,503L46.93,510.1L47.18,507.5L47.43,497.2L47.68,486.4L47.92,482.5L48.17,488.2L48.42,499.5L48.67,508.5L48.92,509L49.16,500.6L49.41,489.3L49.66,483L49.91,485.9L50.15,496L50.4,506.3L50.65,509.5L50.9,503.6L51.14,492.6L51.39,484.3L51.64,484.4L51.89,492.7L52.14,503.5L52.38,509.2L52.63,505.9L52.88,496L53.13,486.4L53.37,483.7L53.62,489.8L53.87,500.3L54.12,508L54.36,507.5L54.61,499.2L54.86,489L55.11,483.9L55.36,487.5L55.6,497.1L55.85,506.1L56.1,508.2L56.35,502L56.59,491.9L56.84,484.9L57.09,485.9L57.34,494L57.59,503.7L57.83,508.1L58.08,504.3L58.33,495L58.58,486.6L58.82,485.1L59.07,491.3L59.32,500.9L59.57,507.3L59.81,506L60.06,498L60.31,488.9L60.56,485L60.81,489L61.05,498L61.3,505.8L61.55,506.9L61.8,500.6L62.04,491.4L62.29,485.7L62.54,487.4L62.79,495.2L63.03,503.7L63.28,507L63.53,502.9L63.78,494.2L64.03,487.1L64.27,486.4L64.52,492.6L64.77,501.3L65.02,506.5L65.26,504.5L65.51,496.9L65.76,488.9L66.01,486.2L66.25,490.4L66.5,498.7L66.75,505.3L67,505.5L67.25,499.4L67.49,491.2L67.74,486.6L67.99,488.8L68.24,496.2L68.48,503.5L68.73,505.8L68.98,501.5L69.23,493.6L69.47,487.7L69.72,487.8L69.97,493.8L70.22,501.5L70.47,505.5L70.71,503.1L70.96,496L71.21,489.2L71.46,487.4L71.7,491.8L71.95,499.2L72.2,504.6L72.45,504.1L72.69,498.3L72.94,491.1L73.19,487.6L73.44,490.2L73.69,496.9L73.93,503.2L74.18,504.6L74.43,500.2L74.68,493.2L74.92,488.4L75.17,489.1L75.42,494.8L75.67,501.4L75.91,504.4L76.16,501.8L76.41,495.3L76.66,489.7L76.91,488.6L77.15,492.9L77.4,499.5L77.65,503.8L77.9,502.8L78.14,497.4L78.39,491.3L78.64,488.7L78.89,491.5L79.13,497.5L79.38,502.7L79.63,503.3L79.88,499.1L80.13,493L80.37,489.3L80.62,490.4L80.87,495.6L81.12,501.2L81.36,503.3L81.61,500.5L81.86,494.9L82.11,490.3L82.36,489.9L82.6,494L82.85,499.6L83.1,502.8L83.35,501.5L83.59,496.6L83.84,491.6L84.09,489.9L84.34,492.6L84.58,497.9L84.83,502L85.08,502.1L85.33,498.2L85.58,493.1L85.82,490.3L86.07,491.7L86.32,496.3L86.57,500.8L86.81,502.2L87.06,499.4L87.31,494.6L87.56,491L87.8,491.1L88.05,494.8L88.3,499.5L88.55,501.8L88.8,500.3L89.04,496.1L89.29,492.1L89.54,491L89.79,493.7L90.03,498L90.28,501.2L90.53,500.8L90.78,497.4L91.02,493.3L91.27,491.3L91.52,492.8L91.77,496.7L92.02,500.2L92.26,501L92.51,498.5L92.76,494.5L93.01,491.9L93.25,492.3L93.5,495.5L93.75,499.1L94,500.7L94.24,499.2L94.49,495.8L94.74,492.7L94.99,492.2L95.24,494.5L95.48,498L95.73,500.2L95.98,499.7L96.23,496.8L96.47,493.7L96.72,492.4L96.97,493.9L97.22,496.9L97.46,499.5L97.71,499.8L97.96,497.7L98.21,494.7L98.46,492.9L98.7,493.5L98.95,496L99.2,498.7L99.45,499.6L99.69,498.3L99.94,495.6L100.19,493.5L100.44,493.4L100.68,495.3L100.93,497.8L101.18,499.2L101.43,498.6L101.68,496.4L101.92,494.2L102.17,493.5L102.42,494.8L102.67,497L102.91,498.7L103.16,498.7L103.41,497L103.66,495L103.9,493.9L104.15,494.5L104.4,496.3L104.65,498L104.9,498.5L105.14,497.4L105.39,495.7L105.64,494.4L105.89,494.5L106.13,495.8L106.38,497.4L106.63,498.1L106.88,497.6L107.13,496.2L107.37,495L107.62,494.7L107.87,495.5L108.12,496.8L108.36,497.7L108.61,497.6L108.86,496.6L109.11,495.5L109.35,495L109.6,495.4L109.85,496.4L110.1,497.2L110.35,497.4L110.59,496.8L110.84,495.9L111.09,495.4L111.34,495.5L111.58,496.2L111.83,496.8L112.08,497L112.33,496.8L112.57,496.2L112.82,495.8L113.07,495.8L113.32,496.1L113.57,496.5L113.81,496.7L114.06,496.6L114.31,496.3L114.56,496.1L114.8,496.1L115.05,496.2L115.3,496.3L115.55,496.3L115.79,496.3L116.04,496.4L116.29,496.2L116.54,495.9L116.79,495.9L117.03,496.3L117.28,496.8L117.53,497.1L117.78,496.9L118.02,496.1L118.27,495.3L118.52,495.1L118.77,495.8L119.01,497L119.26,497.9L119.51,497.6L119.76,496.4L120.01,494.9L120.25,494.3L120.5,495.1L120.75,496.9L121,498.4L121.24,498.5L121.49,497L121.74,494.9L121.99,493.6L122.23,494.1L122.48,496.3L122.73,498.7L122.98,499.5L123.23,498L123.47,495.3L123.72,493.1L123.97,493.1L124.22,495.4L124.46,498.5L124.71,500.2L124.96,499.2L125.21,496.1L125.45,492.9L125.7,492L125.95,494.1L126.2,497.9L126.45,500.7L126.69,500.5L126.94,497.3L127.19,493.3L127.44,491.2L127.68,492.7L127.93,496.8L128.18,500.7L128.43,501.6L128.67,498.8L128.92,494.1L129.17,490.8L129.42,491.3L129.67,495.3L129.91,500.2L130.16,502.5L130.41,500.5L130.66,495.4L130.9,490.8L131.15,490L131.4,493.6L131.65,499.2L131.9,503L132.14,502.1L132.39,497.1L132.64,491.4L132.89,489L133.13,491.7L133.38,497.7L133.63,502.9L133.88,503.6L134.12,499.1L134.37,492.6L134.62,488.5L134.87,489.8L135.12,495.7L135.36,502.2L135.61,504.6L135.86,501.3L136.11,494.4L136.35,488.6L136.6,488.2L136.85,493.4L137.1,500.8L137.34,505.2L137.59,503.4L137.84,496.6L138.09,489.4L138.34,487L138.58,491L138.83,498.9L139.08,505.1L139.33,505.2L139.57,499.1L139.82,490.9L140.07,486.3L140.32,488.7L140.56,496.5L140.81,504.2L141.06,506.6L141.31,501.7L141.56,493L141.8,486.4L142.05,486.7L142.3,493.7L142.55,502.6L142.79,507.3L143.04,504.3L143.29,495.6L143.54,487.3L143.78,485.2L144.03,490.8L144.28,500.4L144.53,507.2L144.78,506.5L145.02,498.6L145.27,489L145.52,484.3L145.77,488L146.01,497.6L146.26,506.4L146.51,508.2L146.76,501.8L147,491.4L147.25,484.3L147.5,485.5L147.75,494.3L148,504.7L148.24,509.2L148.49,504.8L148.74,494.4L148.99,485.1L149.23,483.6L149.48,491L149.73,502.2L149.98,509.4L150.22,507.6L150.47,497.8L150.72,486.9L150.97,482.4L151.22,487.6L151.46,499L151.71,508.6L151.96,509.7L152.21,501.4L152.45,489.5L152.7,482.1L152.95,484.6L153.2,495.3L153.44,506.9L153.69,511.1L153.94,505L154.19,492.8L154.44,482.8L154.68,482.2L154.93,491.4L155.18,504.2L155.43,511.5L155.67,508.3L155.92,496.6L156.17,484.6L156.42,480.6L156.67,487.6L156.91,500.7L157.16,510.9L157.41,511L157.66,500.8L157.9,487.3L158.15,480L158.4,484L158.65,496.7L158.89,509.2L159.14,512.8L159.39,504.9L159.64,490.9L159.89,480.6L160.13,481.1L160.38,492.3L160.63,506.4L160.88,513.6L161.12,508.7L161.37,495.1L161.62,482.2L161.87,479.1L162.11,487.9L162.36,502.7L162.61,513.2L162.86,511.9L163.11,499.7L163.35,485L163.6,478.1L163.85,483.8L164.1,498.3L164.34,511.5L164.59,514.2L164.84,504.4L165.09,488.8L165.33,478.4L165.58,480.4L165.83,493.5L166.08,508.7L166.33,515.3L166.57,508.7L166.82,493.3L167.07,479.9L167.32,477.9L167.56,488.7L167.81,504.9L168.06,515.2L168.31,512.4L168.55,498.3L168.8,482.7L169.05,476.5L169.3,484.1L169.55,500.3L169.79,513.8L170.04,515.2L170.29,503.4L170.54,486.6L170.78,476.4L171.03,480.1L171.28,495.1L171.53,511L171.77,516.8L172.02,508.2L172.27,491.3L172.52,477.8L172.77,477.1L173.01,489.8L173.26,507.2L173.51,517L173.76,512.5L174,496.6L174.25,480.4L174.5,475.3L174.75,484.7L174.99,502.4L175.24,515.8L175.49,515.7L175.74,502.1L175.99,484.3L176.23,474.8L176.48,480.3L176.73,497L176.98,513.3L177.22,517.8L177.47,507.4L177.72,489.1L177.97,475.9L178.21,476.8L178.46,491.3L178.71,509.4L178.96,518.4L179.21,512L179.45,494.6L179.7,478.3L179.95,474.5L180.2,485.9L180.44,504.5L180.69,517.6L180.94,515.8L181.19,500.4L181.44,482.1L181.68,473.6L181.93,480.9L182.18,499L182.43,515.2L182.67,518.3L182.92,506.1L183.17,486.9L183.42,474.3L183.66,476.9L183.91,493.1L184.16,511.6L184.41,519.5L184.66,511.2L184.9,492.5L185.15,476.4L185.4,474.1L185.65,487.3L185.89,506.8L186.14,519L186.39,515.5L186.64,498.5L186.88,480L187.13,472.7L187.38,481.9L187.63,501.2L187.88,517.1L188.12,518.6L188.37,504.5L188.62,484.7L188.87,472.9L189.11,477.4L189.36,495.1L189.61,513.7L189.86,520.2L190.1,510.1L190.35,490.3L190.6,474.6L190.85,474L191.1,488.9L191.34,509L191.59,520.3L191.84,514.9L192.09,496.5L192.33,477.9L192.58,472.1L192.83,483.2L193.08,503.4L193.32,518.8L193.57,518.5L193.82,502.7L194.07,482.4L194.32,471.8L194.56,478.2L194.81,497.2L195.06,515.7L195.31,520.7L195.55,508.7L195.8,488L196.05,473.1L196.3,474.3L196.54,490.8L196.79,511.3L197.04,521.3L197.29,513.9L197.54,494.2L197.78,475.9L198.03,471.8L198.28,484.7L198.53,505.7L198.77,520.3L199.02,518.1L199.27,500.7L199.52,480.2L199.76,470.9L200.01,479.2L200.26,499.5L200.51,517.6L200.76,520.9L201,507L201.25,485.7L201.5,471.7L201.75,474.8L201.99,492.9L202.24,513.4L202.49,522L202.74,512.7L202.98,491.9L203.23,474.2L203.48,471.8L203.73,486.5L203.98,508.1L204.22,521.5L204.47,517.4L204.72,498.6L204.97,478.1L205.21,470.3L205.46,480.6L205.71,501.8L205.96,519.3L206.21,520.7L206.45,505.1L206.7,483.4L206.95,470.6L207.2,475.7L207.44,495.2L207.69,515.5L207.94,522.4L208.19,511.2L208.43,489.6L208.68,472.6L208.93,472.1L209.18,488.5L209.43,510.3L209.67,522.5L209.92,516.4L210.17,496.3L210.42,476.2L210.66,470.1L210.91,482.2L211.16,504.2L211.41,520.7L211.65,520.2L211.9,503.1L212.15,481.2L212.4,469.8L212.65,476.9L212.89,497.5L213.14,517.3L213.39,522.5L213.64,509.5L213.88,487.2L214.13,471.3L214.38,472.7L214.63,490.6L214.87,512.5L215.12,523.1L215.37,515L215.62,493.9L215.87,474.4L216.11,470.1L216.36,484.1L216.61,506.6L216.86,521.9L217.1,519.4L217.35,500.8L217.6,479L217.85,469.3L218.09,478.3L218.34,499.9L218.59,519L218.84,522.3L219.09,507.5L219.33,484.9L219.58,470.2L219.83,473.6L220.08,492.9L220.32,514.6L220.57,523.5L220.82,513.5L221.07,491.5L221.31,472.8L221.56,470.5L221.81,486.1L222.06,508.9L222.31,522.9L222.55,518.4L222.8,498.5L223.05,477L223.3,469L223.54,479.9L223.79,502.3L224.04,520.5L224.29,521.9L224.53,505.4L224.78,482.6L225.03,469.3L225.28,474.8L225.53,495.3L225.77,516.5L226.02,523.7L226.27,511.8L226.52,489.1L226.76,471.4L227.01,471L227.26,488.3L227.51,511.2L227.75,523.7L228,517.2L228.25,496.1L228.5,475.1L228.75,468.9L228.99,481.8L229.24,504.8L229.49,521.9L229.74,521.2L229.98,503.2L230.23,480.3L230.48,468.6L230.73,476.2L230.98,497.8L231.22,518.4L231.47,523.6L231.72,509.8L231.97,486.6L232.21,470.1L232.46,471.8L232.71,490.6L232.96,513.3L233.2,524.2L233.45,515.7L233.7,493.6L233.95,473.4L234.2,469.1L234.44,483.8L234.69,507.2L234.94,523L235.19,520.2L235.43,500.8L235.68,478.2L235.93,468.2L236.18,477.8L236.42,500.2L236.67,520L236.92,523.3L237.17,507.7L237.42,484.3L237.66,469.1L237.91,472.9L238.16,493L238.41,515.4L238.65,524.5L238.9,514L239.15,491.1L239.4,471.9L239.64,469.6L239.89,486L240.14,509.5L240.39,523.9L240.64,519L240.88,498.4L241.13,476.3L241.38,468.1L241.63,479.6L241.87,502.7L242.12,521.4L242.37,522.6L242.62,505.5L242.86,482L243.11,468.4L243.36,474.3L243.61,495.5L243.86,517.3L244.1,524.4L244.35,512L244.6,488.7L244.85,470.6L245.09,470.4L245.34,488.3L245.59,511.7L245.84,524.4L246.08,517.5L246.33,495.9L246.58,474.5L246.83,468.3L247.08,481.6L247.32,505.1L247.57,522.5L247.82,521.6L248.07,503.1L248.31,479.8L248.56,468L248.81,475.9L249.06,498L249.3,518.9L249.55,524.1L249.8,509.9L250.05,486.3L250.3,469.6L250.54,471.5L250.79,490.7L251.04,513.8L251.29,524.7L251.53,515.8L251.78,493.4L252.03,473L252.28,468.8L252.52,483.8L252.77,507.5L253.02,523.4L253.27,520.4L253.52,500.7L253.76,477.9L254.01,467.9L254.26,477.7L254.51,500.5L254.75,520.3L255,523.4L255.25,507.6L255.5,484L255.75,468.9L255.99,472.9L256.24,493.2L256.49,515.7L256.74,524.6L256.98,513.9L257.23,490.9L257.48,471.7L257.73,469.6L257.97,486.1L258.22,509.7L258.47,524L258.72,519L258.97,498.2L259.21,476.1L259.46,468.1L259.71,479.7L259.96,502.9L260.2,521.5L260.45,522.5L260.7,505.3L260.95,481.8L261.19,468.4L261.44,474.4L261.69,495.7L261.94,517.4L262.19,524.4L262.43,511.8L262.68,488.5L262.93,470.6L263.18,470.6L263.42,488.5L263.67,511.8L263.92,524.3L264.17,517.3L264.41,495.7L264.66,474.5L264.91,468.5L265.16,481.9L265.41,505.3L265.65,522.5L265.9,521.4L266.15,502.9L266.4,479.8L266.64,468.2L266.89,476.2L267.14,498.2L267.39,518.9L267.63,523.8L267.88,509.6L268.13,486.1L268.38,469.7L268.63,471.8L268.87,491L269.12,513.8L269.37,524.4L269.62,515.5L269.86,493.2L270.11,473L270.36,469.1L270.61,484.1L270.85,507.6L271.1,523.2L271.35,520.1L271.6,500.4L271.85,477.9L272.09,468.2L272.34,478.1L272.59,500.6L272.84,520.2L273.08,523.1L273.33,507.3L273.58,483.9L273.83,469.1L274.07,473.3L274.32,493.4L274.57,515.6L274.82,524.3L275.07,513.5L275.31,490.8L275.56,471.8L275.81,470L276.06,486.4L276.3,509.7L276.55,523.7L276.8,518.6L277.05,497.9L277.29,476.2L277.54,468.4L277.79,480.1L278.04,503L278.29,521.3L278.53,522.1L278.78,505L279.03,481.8L279.28,468.7L279.52,474.9L279.77,495.9L280.02,517.2L280.27,523.9L280.52,511.4L280.76,488.4L281.01,470.9L281.26,471.1L281.51,488.8L281.75,511.8L282,524L282.25,516.9L282.5,495.5L282.74,474.7L282.99,468.9L283.24,482.3L283.49,505.4L283.74,522.1L283.98,520.9L284.23,502.6L284.48,479.9L284.73,468.6L284.97,476.6L285.22,498.4L285.47,518.6L285.72,523.3L285.96,509.2L286.21,486.1L286.46,470.1L286.71,472.4L286.96,491.2L287.2,513.6L287.45,523.9L287.7,515L287.95,493L288.19,473.4L288.44,469.7L288.69,484.5L288.94,507.5L289.18,522.7L289.43,519.5L289.68,500.1L289.93,478.1L290.18,468.8L290.42,478.6L290.67,500.7L290.92,519.7L291.17,522.4L291.41,506.9L291.66,484L291.91,469.7L292.16,473.9L292.4,493.7L292.65,515.2L292.9,523.6L293.15,512.9L293.4,490.7L293.64,472.4L293.89,470.8L294.14,486.9L294.39,509.5L294.63,522.9L294.88,517.8L295.13,497.7L295.38,476.7L295.62,469.3L295.87,480.8L296.12,503L296.37,520.5L296.62,521.2L296.86,504.5L297.11,482.2L297.36,469.7L297.61,475.8L297.85,496.1L298.1,516.5L298.35,522.9L298.6,510.7L298.84,488.5L299.09,471.8L299.34,472.2L299.59,489.3L299.84,511.3L300.08,522.8L300.33,515.8L300.58,495.3L300.83,475.5L301.07,470.2L301.32,483.1L301.57,505.1L301.82,521L302.06,519.6L302.31,502.1L302.56,480.5L302.81,470L303.06,477.8L303.3,498.4L303.55,517.6L303.8,521.9L304.05,508.4L304.29,486.5L304.54,471.5L304.79,473.8L305.04,491.7L305.29,512.8L305.53,522.4L305.78,513.8L306.03,493L306.28,474.6L306.52,471.3L306.77,485.4L307.02,507L307.27,521.2L307.51,518L307.76,499.7L308.01,479.1L308.26,470.5L308.51,479.9L308.75,500.6L309,518.3L309.25,520.7L309.5,506L309.74,484.7L309.99,471.4L310.24,475.5L310.49,494.1L310.73,514.1L310.98,521.7L311.23,511.6L311.48,490.9L311.73,474L311.97,472.6L312.22,487.7L312.47,508.8L312.72,521.1L312.96,516.2L313.21,497.4L313.46,477.9L313.71,471.3L313.95,482L314.2,502.7L314.45,518.9L314.7,519.3L314.95,503.7L315.19,483L315.44,471.6L315.69,477.4L315.94,496.3L316.18,515.2L316.43,520.9L316.68,509.5L316.93,488.9L317.17,473.5L317.42,474L317.67,490L317.92,510.4L318.17,520.9L318.41,514.3L318.66,495.2L318.91,476.9L319.16,472.1L319.4,484.2L319.65,504.6L319.9,519.3L320.15,517.9L320.39,501.5L320.64,481.5L320.89,471.9L321.14,479.2L321.39,498.5L321.63,516.2L321.88,520L322.13,507.3L322.38,487L322.62,473.2L322.87,475.5L323.12,492.2L323.37,511.8L323.61,520.5L323.86,512.4L324.11,493.1L324.36,476.1L324.61,473.1L324.85,486.3L325.1,506.4L325.35,519.5L325.6,516.3L325.84,499.3L326.09,480.2L326.34,472.3L326.59,481.2L326.83,500.5L327.08,516.9L327.33,518.9L327.58,505.2L327.83,485.3L328.07,473.1L328.32,477.1L328.57,494.4L328.82,513L329.06,520L329.31,510.4L329.56,491.1L329.81,475.4L330.06,474.3L330.3,488.5L330.55,508.1L330.8,519.4L331.05,514.7L331.29,497.2L331.54,479.1L331.79,473L332.04,483.1L332.28,502.4L332.53,517.4L332.78,517.7L333.03,503.1L333.28,483.8L333.52,473.2L333.77,478.8L334.02,496.5L334.27,514L334.51,519.2L334.76,508.4L335.01,489.3L335.26,475L335.5,475.6L335.75,490.6L336,509.5L336.25,519.2L336.5,513L336.74,495.1L336.99,478.1L337.24,473.8L337.49,485.2L337.73,504.2L337.98,517.7L338.23,516.3L338.48,501L338.72,482.4L338.97,473.6L339.22,480.5L339.47,498.5L339.72,514.9L339.96,518.3L340.21,506.4L340.46,487.5L340.71,474.8L340.95,477L341.2,492.7L341.45,510.8L341.7,518.8L341.94,511.1L342.19,493.2L342.44,477.4L342.69,474.8L342.94,487.2L343.18,505.9L343.43,517.9L343.68,514.8L343.93,498.9L344.17,481.2L344.42,474L344.67,482.4L344.92,500.4L345.16,515.5L345.41,517.2L345.66,504.4L345.91,486L346.16,474.8L346.4,478.5L346.65,494.7L346.9,511.9L347.15,518.2L347.39,509.3L347.64,491.3L347.89,476.9L348.14,475.9L348.38,489.2L348.63,507.4L348.88,517.8L349.13,513.3L349.38,496.9L349.62,480.2L349.87,474.7L350.12,484.2L350.37,502.1L350.61,515.9L350.86,516.1L351.11,502.4L351.36,484.6L351.6,474.9L351.85,480.2L352.1,496.6L352.35,512.8L352.6,517.5L352.84,507.4L353.09,489.6L353.34,476.5L353.59,477.2L353.83,491.2L354.08,508.7L354.33,517.6L354.58,511.6L354.83,495L355.07,479.4L355.32,475.5L355.57,486.1L355.82,503.8L356.06,516.2L356.31,514.8L356.56,500.5L356.81,483.3L357.05,475.2L357.3,481.8L357.55,498.5L357.8,513.6L358.05,516.6L358.29,505.5L358.54,488L358.79,476.3L359.04,478.5L359.28,493.1L359.53,509.9L359.78,517.2L360.03,509.9L360.27,493.2L360.52,478.7L360.77,476.4L361.02,488L361.27,505.3L361.51,516.3L361.76,513.4L362.01,498.6L362.26,482.2L362.5,475.7L362.75,483.5L363,500.2L363.25,514.2L363.49,515.6L363.74,503.7L363.99,486.6L364.24,476.3L364.49,479.9L364.73,495L364.98,510.9L365.23,516.6L365.48,508.2L365.72,491.6L365.97,478.2L366.22,477.5L366.47,489.9L366.71,506.7L366.96,516.2L367.21,511.9L367.46,496.7L367.71,481.3L367.95,476.3L368.2,485.3L368.45,501.9L368.7,514.6L368.94,514.5L369.19,501.8L369.44,485.3L369.69,476.5L369.93,481.4L370.18,496.7L370.43,511.7L370.68,515.9L370.93,506.5L371.17,490L371.42,477.9L371.67,478.7L371.92,491.7L372.16,507.9L372.41,516L372.66,510.4L372.91,495L373.15,480.5L373.4,477.1L373.65,487L373.9,503.4L374.15,514.8L374.39,513.3L374.64,500L374.89,484.2L375.14,476.8L375.38,483L375.63,498.4L375.88,512.4L376.13,515.1L376.37,504.7L376.62,488.5L376.87,477.8L377.12,479.9L377.37,493.5L377.61,508.9L377.86,515.6L378.11,508.8L378.36,493.3L378.6,480L378.85,478L379.1,488.7L379.35,504.7L379.6,514.8L379.84,512L380.09,498.3L380.34,483.2L380.59,477.3L380.83,484.6L381.08,500.1L381.33,512.9L381.58,514.1L381.82,503L382.07,487.2L382.32,477.8L382.57,481.3L382.82,495.2L383.06,509.9L383.31,515.1L383.56,507.2L383.81,491.8L384.05,479.5L384.3,479L384.55,490.5L384.8,506L385.04,514.7L385.29,510.6L385.54,496.6L385.79,482.3L386.04,477.9L386.28,486.2L386.53,501.6L386.78,513.2L387.03,513.1L387.27,501.3L387.52,486L387.77,478L388.02,482.7L388.26,496.8L388.51,510.6L388.76,514.4L389.01,505.6L389.26,490.3L389.5,479.3L389.75,480.1L390,492.2L390.25,507.1L390.49,514.5L390.74,509.2L390.99,495L391.24,481.7L391.48,478.6L391.73,487.8L391.98,502.9L392.23,513.4L392.48,511.9L392.72,499.6L392.97,485L393.22,478.3L393.47,484.1L393.71,498.4L393.96,511.2L394.21,513.6L394.46,504L394.7,489L394.95,479.2L395.2,481.3L395.45,493.8L395.7,508.1L395.94,514.1L396.19,507.7L396.44,493.4L396.69,481.2L396.93,479.4L397.18,489.5L397.43,504.2L397.68,513.4L397.92,510.7L398.17,498L398.42,484.1L398.67,478.7L398.92,485.6L399.16,499.9L399.41,511.7L399.66,512.7L399.91,502.3L400.15,487.8L400.4,479.2L400.65,482.5L400.9,495.4L401.14,508.9L401.39,513.6L401.64,506.2L401.89,492L402.14,480.8L402.38,480.4L402.63,491L402.88,505.3L403.13,513.3L403.37,509.4L403.62,496.4L403.87,483.4L404.12,479.3L404.37,487.1L404.61,501.3L404.86,511.9L405.11,511.7L405.36,500.8L405.6,486.7L405.85,479.4L406.1,483.8L406.35,496.9L406.59,509.6L406.84,512.9L407.09,504.7L407.34,490.7L407.59,480.6L407.83,481.4L408.08,492.6L408.33,506.4L408.58,513.1L408.82,508.1L409.07,494.9L409.32,482.8L409.57,480L409.81,488.6L410.06,502.5L410.31,512.1L410.56,510.6L410.81,499.2L411.05,485.8L411.3,479.7L411.55,485.2L411.8,498.4L412.04,510.1L412.29,512.2L412.54,503.2L412.79,489.5L413.03,480.5L413.28,482.5L413.53,494.1L413.78,507.2L414.03,512.7L414.27,506.7L414.52,493.5L414.77,482.3L415.02,480.8L415.26,490.1L415.51,503.7L415.76,512.1L416.01,509.5L416.25,497.7L416.5,485L416.75,480.2L417,486.6L417.25,499.7L417.49,510.5L417.74,511.3L417.99,501.8L418.24,488.4L418.48,480.6L418.73,483.7L418.98,495.6L419.23,508L419.47,512.2L419.72,505.4L419.97,492.2L420.22,482L420.47,481.7L420.71,491.6L420.96,504.7L421.21,512L421.46,508.3L421.7,496.3L421.95,484.3L422.2,480.7L422.45,487.9L422.69,501L422.94,510.7L423.19,510.4L423.44,500.3L423.69,487.4L423.93,480.8L424.18,484.9L424.43,497L424.68,508.5L424.92,511.6L425.17,504L425.42,491L425.67,481.8L425.91,482.7L426.16,493L426.41,505.6L426.66,511.7L426.91,507.1L427.15,494.9L427.4,483.8L427.65,481.4L427.9,489.3L428.14,502.1L428.39,510.8L428.64,509.4L428.89,498.9L429.14,486.6L429.38,481.1L429.63,486.2L429.88,498.3L430.13,509L430.37,510.8L430.62,502.6L430.87,489.9L431.12,481.8L431.36,483.7L431.61,494.4L431.86,506.4L432.11,511.3L432.36,505.8L432.6,493.7L432.85,483.4L433.1,482.2L433.35,490.7L433.59,503.2L433.84,510.8L434.09,508.3L434.34,497.5L434.58,485.9L434.83,481.5L435.08,487.5L435.33,499.5L435.58,509.3L435.82,510L436.07,501.2L436.32,489L436.57,481.9L436.81,484.9L437.06,495.8L437.31,507L437.56,510.8L437.8,504.5L438.05,492.5L438.3,483.2L438.55,483L438.8,492.1L439.04,504.1L439.29,510.6L439.54,507.2L439.79,496.2L440.03,485.3L440.28,482.1L440.53,488.8L440.78,500.7L441.02,509.5L441.27,509.1L441.52,499.8L441.77,488.1L442.02,482.1L442.26,486L442.51,497L442.76,507.5L443.01,510.2L443.25,503.2L443.5,491.4L443.75,483.1L444,484L444.24,493.4L444.49,504.8L444.74,510.3L444.99,506L445.24,495L445.48,484.9L445.73,482.8L445.98,490.1L446.23,501.7L446.47,509.5L446.72,508.1L446.97,498.5L447.22,487.4L447.46,482.5L447.71,487.2L447.96,498.2L448.21,507.9L448.46,509.4L448.7,501.9L448.95,490.5L449.2,483.1L449.45,485L449.69,494.7L449.94,505.5L450.19,509.9L450.44,504.8L450.68,493.8L450.93,484.6L451.18,483.5L451.43,491.4L451.68,502.6L451.92,509.4L452.17,507.1L452.42,497.3L452.67,486.8L452.91,483L453.16,488.4L453.41,499.3L453.66,508.1L453.91,508.7L454.15,500.6L454.4,489.6L454.65,483.3L454.9,486L455.14,495.9L455.39,506.1L455.64,509.4L455.89,503.6L456.13,492.8L456.38,484.4L456.63,484.3L456.88,492.6L457.13,503.4L457.37,509.2L457.62,506.1L457.87,496.1L458.12,486.3L458.36,483.5L458.61,489.6L458.86,500.3L459.11,508.3L459.35,507.8L459.6,499.4L459.85,488.8L460.1,483.5L460.35,487.1L460.59,497.1L460.84,506.5L461.09,508.8L461.34,502.4L461.58,491.8L461.83,484.3L462.08,485.2L462.33,493.8L462.57,504.1L462.82,509L463.07,505L463.32,495L463.57,485.9L463.81,484.1L464.06,490.7L464.31,501.3L464.56,508.3L464.8,507L465.05,498.2L465.3,488.2L465.55,483.8L465.79,488.1L466.04,498.1L466.29,506.8L466.54,508.2L466.79,501.3L467.03,490.9L467.28,484.3L467.53,486.1L467.78,494.9L468.02,504.7L468.27,508.6L468.52,504L468.77,494L469.01,485.6L469.26,484.7L469.51,491.9L469.76,502.1L470.01,508.3L470.25,506.1L470.5,497.1L470.75,487.6L471,484.2L471.24,489.2L471.49,499.1L471.74,507.1L471.99,507.5L472.23,500.2L472.48,490.1L472.73,484.4L472.98,487L473.23,496L473.47,505.3L473.72,508.2L473.97,502.9L474.22,493L474.46,485.4L474.71,485.4L474.96,493L475.21,502.9L475.45,508.1L475.7,505.2L475.95,496L476.2,487.1L476.45,484.6L476.69,490.2L476.94,500.1L477.19,507.3L477.44,506.8L477.68,499.1L477.93,489.4L478.18,484.6L478.43,487.9L478.68,497.1L478.92,505.7L479.17,507.7L479.42,501.8L479.67,492.1L479.91,485.3L480.16,486.2L480.41,494.1L480.66,503.5L480.9,507.9L481.15,504.2L481.4,495L481.65,486.7L481.9,485.1L482.14,491.3L482.39,500.9L482.64,507.3L482.89,506L483.13,498L483.38,488.8L483.63,484.8L483.88,488.9L484.12,498.1L484.37,506L484.62,507.2L484.87,500.8L485.12,491.3L485.36,485.3L485.61,487L485.86,495.1L486.11,504.1L486.35,507.6L486.6,503.3L486.85,494.1L487.1,486.4L487.34,485.7L487.59,492.3L487.84,501.7L488.09,507.3L488.34,505.2L488.58,497L488.83,488.2L489.08,485.2L489.33,489.8L489.57,499L489.82,506.3L490.07,506.6L490.32,499.8L490.56,490.5L490.81,485.3L491.06,487.8L491.31,496.1L491.56,504.6L491.8,507.3L492.05,502.3L492.3,493.2L492.55,486.3L492.79,486.3L493.04,493.3L493.29,502.4L493.54,507.2L493.78,504.4L494.03,496L494.28,487.8L494.53,485.6L494.78,490.8L495.02,499.8L495.27,506.4L495.52,505.9L495.77,498.8L496.01,489.9L496.26,485.5L496.51,488.6L496.76,497.1L497,505L497.25,506.8L497.5,501.3L497.75,492.4L498,486.2L498.24,487L498.49,494.3L498.74,503L498.99,507L499.23,503.5L499.48,495.1L499.73,487.5L499.98,486L500.22,491.8L500.47,500.6L500.72,506.4L500.97,505.2L501.22,497.8L501.46,489.3L501.71,485.8L501.96,489.5L502.21,498L502.45,505.3L502.7,506.3L502.95,500.4L503.2,491.6L503.45,486.2L503.69,487.8L503.94,495.3L504.19,503.5L504.44,506.7L504.68,502.6L504.93,494.2L505.18,487.2L505.43,486.6L505.67,492.7L505.92,501.3L506.17,506.4L506.42,504.4L506.67,496.8L506.91,488.9L507.16,486.1L507.41,490.4L507.66,498.8L507.9,505.5L508.15,505.7L508.4,499.4L508.65,491L508.89,486.3L509.14,488.5L509.39,496.2L509.64,503.9L509.89,506.3L510.13,501.7L510.38,493.4L510.63,487.1L510.88,487.2L511.12,493.7L511.37,501.9L511.62,506.3L511.87,503.7L512.11,495.9L512.36,488.5L512.61,486.5L512.86,491.3L513.11,499.6L513.35,505.6L513.6,505.1L513.85,498.5L514.1,490.4L514.34,486.4L514.59,489.4L514.84,497.1L515.09,504.3L515.33,505.9L515.58,500.8L515.83,492.6L516.08,487L516.33,487.9L516.57,494.6L516.82,502.5L517.07,506L517.32,502.8L517.56,495.1L517.81,488.2L518.06,487L518.31,492.2L518.55,500.3L518.8,505.6L519.05,504.4L519.3,497.6L519.55,489.9L519.79,486.7L520.04,490.2L520.29,497.9L520.54,504.5L520.78,505.4L521.03,499.9L521.28,492L521.53,487L521.77,488.6L522.02,495.5L522.27,502.9L522.52,505.8L522.77,502L523.01,494.3L523.26,488L523.51,487.5L523.76,493.1L524,500.9L524.25,505.5L524.5,503.7L524.75,496.7L524.99,489.5L525.24,487L525.49,491L525.74,498.7L525.99,504.7L526.23,504.8L526.48,499.1L526.73,491.4L526.98,487.1L527.22,489.3L527.47,496.3L527.72,503.3L527.97,505.4L528.22,501.2L528.46,493.6L528.71,487.9L528.96,488.1L529.21,494L529.45,501.5L529.7,505.4L529.95,503L530.2,495.9L530.44,489.1L530.69,487.4L530.94,491.8L531.19,499.4L531.44,504.8L531.68,504.3L531.93,498.2L532.18,490.9L532.43,487.3L532.67,490L532.92,497.1L533.17,503.6L533.42,505L533.66,500.4L533.91,492.9L534.16,487.8L534.41,488.7L534.66,494.8L534.9,502L535.15,505.2L535.4,502.2L535.65,495.1L535.89,488.9L536.14,487.8L536.39,492.6L536.64,500L536.88,504.8L537.13,503.6L537.38,497.4L537.63,490.4L537.88,487.5L538.12,490.8L538.37,497.8L538.62,503.8L538.87,504.5L539.11,499.6L539.36,492.3L539.61,487.9L539.86,489.3L540.1,495.6L540.35,502.4L540.6,504.9L540.85,501.5L541.1,494.4L541.34,488.7L541.59,488.3L541.84,493.4L542.09,500.6L542.33,504.7L542.58,503L542.83,496.6L543.08,490L543.32,487.8L543.57,491.5L543.82,498.5L544.07,504L544.32,504L544.56,498.8L544.81,491.8L545.06,488L545.31,489.9L545.55,496.4L545.8,502.7L546.05,504.6L546.3,500.7L546.54,493.8L546.79,488.6L547.04,488.8L547.29,494.2L547.54,501.1L547.78,504.6L548.03,502.3L548.28,495.9L548.53,489.7L548.77,488.2L549.02,492.3L549.27,499.2L549.52,504L549.76,503.5L550.01,498L550.26,491.3L550.51,488.1L550.76,490.6L551,497.1L551.25,503L551.5,504.2L551.75,499.9L551.99,493.2L552.24,488.6L552.49,489.4L552.74,495L552.99,501.5L553.23,504.4L553.48,501.6L553.73,495.2L553.98,489.5L554.22,488.6L554.47,493L554.72,499.7L554.97,504L555.21,502.9L555.46,497.2L555.71,490.9L555.96,488.3L556.21,491.3L556.45,497.8L556.7,503.2L556.95,503.8L557.2,499.2L557.44,492.6L557.69,488.6L557.94,490L558.19,495.7L558.43,501.9L558.68,504.1L558.93,500.9L559.18,494.5L559.43,489.4L559.67,489L559.92,493.8L560.17,500.2L560.42,504L560.66,502.3L560.91,496.5L561.16,490.6L561.41,488.6L561.65,492L561.9,498.4L562.15,503.3L562.4,503.3L562.65,498.5L562.89,492.1L563.14,488.7L563.39,490.6L563.64,496.4L563.88,502.2L564.13,503.8L564.38,500.3L564.63,493.9L564.87,489.3L565.12,489.5L565.37,494.5L565.62,500.7L565.87,503.8L566.11,501.7L566.36,495.9L566.61,490.3L566.86,488.9L567.1,492.7L567.35,498.9L567.6,503.3L567.85,502.8L568.09,497.8L568.34,491.7L568.59,488.9L568.84,491.2L569.09,497.1L569.33,502.4L569.58,503.5L569.83,499.6L570.08,493.4L570.32,489.3L570.57,490L570.82,495.2L571.07,501.1L571.31,503.6L571.56,501.1L571.81,495.2L572.06,490.1L572.31,489.3L572.55,493.4L572.8,499.5L573.05,503.3L573.3,502.3L573.54,497.1L573.79,491.4L574.04,489.1L574.29,491.8L574.53,497.7L574.78,502.6L575.03,503.1L575.28,498.9L575.53,492.9L575.77,489.3L576.02,490.6L576.27,495.8L576.52,501.4L576.76,503.4L577.01,500.5L577.26,494.6L577.51,490L577.76,489.7L578,494L578.25,499.9L578.5,503.3L578.75,501.7L578.99,496.5L579.24,491.1L579.49,489.3L579.74,492.5L579.98,498.2L580.23,502.6L580.48,502.6L580.73,498.2L580.98,492.5L581.22,489.4L581.47,491.1L581.72,496.4L581.97,501.6L582.21,503.1L582.46,499.8L582.71,494.1L582.96,489.9L583.2,490.2L583.45,494.7L583.7,500.3L583.95,503.1L584.2,501.2L584.44,495.9L584.69,490.9L584.94,489.7L585.19,493.1L585.43,498.7L585.68,502.7L585.93,502.2L586.18,497.6L586.42,492.1L586.67,489.6L586.92,491.7L587.17,497L587.42,501.8L587.66,502.8L587.91,499.2L588.16,493.6L588.41,489.9L588.65,490.7L588.9,495.3L589.15,500.6L589.4,502.9L589.64,500.6L589.89,495.3L590.14,490.7L590.39,490L590.64,493.7L590.88,499.2L591.13,502.6L591.38,501.7L591.63,497L591.87,491.8L592.12,489.8L592.37,492.3L592.62,497.6L592.86,501.9L593.11,502.4L593.36,498.6L593.61,493.2L593.86,490L594.1,491.2L594.35,495.9L594.6,500.9L594.85,502.7L595.09,500L595.34,494.8L595.59,490.6L595.84,490.4L596.08,494.3L596.33,499.6L596.58,502.6L596.83,501.2L597.08,496.4L597.32,491.6L597.57,490L597.82,492.9L598.07,498.1L598.31,502L598.56,502L598.81,498L599.06,492.8L599.3,490.1L599.55,491.7L599.8,496.5L600.05,501.2L600.3,502.4L600.54,499.5L600.79,494.3L601.04,490.5L601.29,490.8L601.53,494.9L601.78,500L602.03,502.5L602.28,500.7L602.53,495.8L602.77,491.3L603.02,490.3L603.27,493.4L603.52,498.6L603.76,502.1L604.01,501.6L604.26,497.4L604.51,492.5L604.75,490.2L605,492.2L605.25,497L605.5,501.4" fill="none" stroke="#F2653C" stroke-width="1.2" stroke-linejoin="round"/></g>
<text x="53.3" y="345.0" font-family="'Liberation Sans',sans-serif" font-size="27" text-anchor="start" >(b)</text>
<text x="118" y="338" font-family="'Liberation Sans',sans-serif" font-size="26.8" text-anchor="start" >B = 5 T</text>
<text x="313.5" y="345.0" font-size="26.8" font-family="'Liberation Sans',sans-serif"><tspan font-family="'Liberation Serif',serif" font-size="28">τ</tspan><tspan font-size="16" dy="11.6">p</tspan><tspan dy="-11.6" dx="0"> = 1.5 ps</tspan></text>
<text x="480.2" y="365.4" font-family="'Liberation Sans',sans-serif" font-size="26.8" text-anchor="start" >Ellipticity</text>
<text x="596.9" y="541.1" font-family="'Liberation Sans',sans-serif" font-size="26.8" text-anchor="end" >Faraday rotation</text>
<rect x="44.3" y="617.6" width="559.00" height="240.60" fill="none" stroke="#000" stroke-width="1.35"/>
<path d="M114.20,617.6v7.2M114.20,858.2v-8.3M253.94,617.6v7.2M253.94,858.2v-8.3M393.68,617.6v7.2M393.68,858.2v-8.3M533.42,617.6v7.2M533.42,858.2v-8.3M184.07,617.6v4.0M184.07,858.2v-4.3M323.81,617.6v4.0M323.81,858.2v-4.3M463.55,617.6v4.0M463.55,858.2v-4.3M44.3,652.00h7.5M603.3,652.00h-7.2M44.3,720.50h7.5M603.3,720.50h-7.2M44.3,789.00h7.5M603.3,789.00h-7.2M44.3,686.20h4.0M603.3,686.20h-3.5M44.3,754.70h4.0M603.3,754.70h-3.5M44.3,823.50h4.0M603.3,823.50h-3.5" stroke="#000" stroke-width="1.25" fill="none"/>
<text x="114.2" y="887.8" font-family="'Liberation Serif',serif" font-size="27.5" text-anchor="middle" >0</text>
<text x="253.9" y="887.8" font-family="'Liberation Serif',serif" font-size="27.5" text-anchor="middle" >2</text>
<text x="393.7" y="887.8" font-family="'Liberation Serif',serif" font-size="27.5" text-anchor="middle" >4</text>
<text x="533.4" y="887.8" font-family="'Liberation Serif',serif" font-size="27.5" text-anchor="middle" >6</text>
<g clip-path="url(#c3)"><path d="M43.7,723.28L44.15,722.15L44.6,720.84L45.05,719.47L45.5,718.19L45.95,717.11L46.4,716.36L46.85,716.03L47.3,716.15L47.75,716.74L48.2,717.74L48.65,719.07L49.1,720.61L49.55,722.2L50,723.7L50.45,724.93L50.9,725.78L51.35,726.15L51.8,725.98L52.25,725.27L52.7,724.08L53.15,722.52L53.6,720.72L54.05,718.87L54.5,717.15L54.95,715.73L55.4,714.77L55.85,714.37L56.3,714.6L56.75,715.45L57.2,716.85L57.65,718.68L58.1,720.77L58.55,722.91L59,724.89L59.45,726.5L59.9,727.58L60.35,728L60.8,727.7L61.25,726.69L61.7,725.05L62.15,722.92L62.6,720.51L63.05,718.06L63.5,715.8L63.95,713.97L64.4,712.76L64.85,712.32L65.3,712.71L65.75,713.91L66.2,715.82L66.65,718.28L67.1,721.04L67.55,723.84L68,726.4L68.45,728.46L68.9,729.79L69.35,730.24L69.8,729.75L70.25,728.34L70.7,726.13L71.15,723.32L71.6,720.17L72.05,717L72.5,714.12L72.95,711.83L73.4,710.37L73.85,709.92L74.3,710.53L74.75,712.17L75.2,714.71L75.65,717.9L76.1,721.46L76.55,725.01L77,728.22L77.45,730.75L77.9,732.33L78.35,732.78L78.8,732.03L79.25,730.14L79.7,727.25L80.15,723.65L80.6,719.68L81.05,715.72L81.5,712.18L81.95,709.42L82.4,707.73L82.85,707.3L83.3,708.2L83.75,710.37L84.2,713.61L84.65,717.63L85.1,722.03L85.55,726.38L86,730.24L86.45,733.22L86.9,735.01L87.35,735.4L87.8,734.33L88.25,731.88L88.7,728.28L89.15,723.85L89.6,719.04L90.05,714.31L90.5,710.14L90.95,706.96L91.4,705.1L91.85,704.76L92.3,706.01L92.75,708.74L93.2,712.71L93.65,717.52L94.1,722.73L94.55,727.8L95,732.23L95.45,735.58L95.9,737.49L96.35,737.75L96.8,736.31L97.25,733.31L97.7,729.01L98.15,723.84L98.6,718.3L99.05,712.93L99.5,708.28L99.95,704.82L100.4,702.9L100.85,702.73L101.3,704.34L101.75,707.6L102.2,712.18L102.65,717.66L103.1,723.48L103.55,729.07L104,733.87L104.45,737.4L104.9,739.3L105.35,739.36L105.8,737.57L106.25,734.1L106.7,729.28L107.15,723.58L107.6,717.57L108.05,711.84L108.5,706.96L108.95,703.42L109.4,701.58L109.85,701.63L110.3,703.57L110.75,707.21L111.2,712.2L111.65,718.04L112.1,724.15L112.55,729.93L113,734.81L113.45,738.29L113.9,740.03L114.35,769.73L114.8,765.7L115.25,757.22L115.7,745.14L116.15,730.65L116.6,715.19L117.05,700.29L117.5,687.42L117.95,677.86L118.4,672.54L118.85,671.99L119.3,676.25L119.75,684.89L120.2,697.04L120.65,711.51L121.1,726.84L121.55,741.53L122,754.11L122.45,763.36L122.9,768.37L123.35,768.66L123.8,764.21L124.25,755.49L124.7,743.37L125.15,729.07L125.6,714.01L126.05,699.67L126.5,687.47L126.95,678.61L127.4,673.95L127.85,673.91L128.3,678.5L128.75,687.21L129.2,699.18L129.65,713.19L130.1,727.86L130.55,741.74L131,753.45L131.45,761.85L131.9,766.15L132.35,765.94L132.8,761.28L133.25,752.65L133.7,740.94L134.15,727.33L134.6,713.17L135.05,699.86L135.5,688.71L135.95,680.81L136.4,676.89L136.85,677.33L137.3,682.02L137.75,690.49L138.2,701.84L138.65,714.95L139.1,728.51L139.55,741.16L140,751.68L140.45,759.05L140.9,762.58L141.35,761.95L141.8,757.27L142.25,749.04L142.7,738.11L143.15,725.59L143.6,712.72L144.05,700.78L144.5,690.93L144.95,684.12L145.4,680.98L145.85,681.78L146.3,686.39L146.75,694.33L147.2,704.76L147.65,716.63L148.1,728.75L148.55,739.94L149,749.09L149.45,755.34L149.9,758.11L150.35,757.16L150.8,752.65L151.25,745.06L151.7,735.18L152.15,724.01L152.6,712.67L153.05,702.27L153.5,693.82L153.95,688.13L154.4,685.72L154.85,686.77L155.3,691.14L155.75,698.35L156.2,707.65L156.65,718.09L157.1,728.63L157.55,738.24L158,745.98L158.45,751.13L158.9,753.21L159.35,752.07L159.8,747.87L160.25,741.07L160.7,732.37L161.15,722.68L161.6,712.94L162.05,704.12L162.5,697.06L162.95,692.44L163.4,690.67L163.85,691.87L164.3,695.88L164.75,702.25L165.2,710.33L165.65,719.28L166.1,728.23L166.55,736.28L167,742.67L167.45,746.8L167.9,748.29L168.35,747.06L168.8,743.26L169.25,737.32L169.7,729.85L170.15,721.63L170.6,713.45L171.05,706.14L171.5,700.38L171.95,696.72L172.4,695.48L172.85,696.73L173.3,700.3L173.75,705.81L174.2,712.67L174.65,720.19L175.1,727.62L175.55,734.24L176,739.4L176.45,742.63L176.9,743.65L177.35,742.41L177.8,739.06L178.25,733.98L178.7,727.7L179.15,720.85L179.6,714.13L180.05,708.18L180.5,703.57L180.95,700.73L181.4,699.9L181.85,701.13L182.3,704.24L182.75,708.91L183.2,714.64L183.65,720.84L184.1,726.9L184.55,732.24L185,736.33L185.45,738.81L185.9,739.47L186.35,738.28L186.8,735.39L187.25,731.12L187.7,725.93L188.15,720.33L188.6,714.88L189.05,710.12L189.5,706.49L189.95,704.33L190.4,703.82L190.85,704.97L191.3,707.63L191.75,711.52L192.2,716.22L192.65,721.26L193.1,726.14L193.55,730.38L194,733.58L194.45,735.45L194.9,735.84L195.35,734.73L195.8,732.28L196.25,728.76L196.7,724.52L197.15,720L197.6,715.65L198.05,711.89L198.5,709.07L198.95,707.46L199.4,707.17L199.85,708.22L200.3,710.46L200.75,713.66L201.2,717.47L201.65,721.51L202.1,725.38L202.55,728.7L203,731.17L203.45,732.56L203.9,732.76L204.35,731.77L204.8,729.72L205.25,726.84L205.7,723.43L206.15,719.82L206.6,716.39L207.05,713.45L207.5,711.29L207.95,710.11L208.4,709.98L208.85,710.91L209.3,712.77L209.75,715.36L210.2,718.42L210.65,721.62L211.1,724.66L211.55,727.25L212,729.13L212.45,730.14L212.9,730.21L213.35,729.34L213.8,727.65L214.25,725.33L214.7,722.6L215.15,719.76L215.6,717.07L216.05,714.8L216.5,713.17L216.95,712.31L217.4,712.29L217.85,713.09L218.3,714.62L218.75,716.7L219.2,719.13L219.65,721.65L220.1,724.01L220.55,726L221,727.42L221.45,728.15L221.9,728.13L222.35,727.39L222.8,726.01L223.25,724.15L223.7,721.99L224.15,719.76L224.6,717.68L225.05,715.95L225.5,714.72L225.95,714.11L226.4,714.15L226.85,714.84L227.3,716.08L227.75,717.74L228.2,719.65L228.65,721.61L229.1,723.44L229.55,724.95L230,726.01L230.45,726.53L230.9,726.46L231.35,725.83L231.8,724.72L232.25,723.24L232.7,721.55L233.15,719.82L233.6,718.22L234.05,716.9L234.5,715.99L234.95,715.56L235.4,715.64L235.85,716.21L236.3,717.21L236.75,718.53L237.2,720.02L237.65,721.54L238.1,722.94L238.55,724.09L239,724.87L239.45,725.23L239.9,725.14L240.35,724.61L240.8,723.72L241.25,722.56L241.7,721.24L242.15,719.9L242.6,718.68L243.05,717.69L243.5,717.01L243.95,716.71L244.4,716.81L244.85,717.29L245.3,718.09L245.75,719.12L246.2,720.28L246.65,721.45L247.1,722.52L247.55,723.38L248,723.96L248.45,724.2L248.9,724.1L249.35,723.67L249.8,722.96L250.25,722.04L250.7,721.02L251.15,720L251.6,719.07L252.05,718.32L252.5,717.83L252.95,717.63L253.4,717.73L253.85,718.12L254.3,718.76L254.75,719.56L255.2,720.46L255.65,721.35L256.1,722.16L256.55,722.81L257,723.23L257.45,723.39L257.9,723.29L258.35,722.94L258.8,722.37L259.25,721.66L259.7,720.88L260.15,720.09L260.6,719.39L261.05,718.84L261.5,718.48L261.95,718.34L262.4,718.44L262.85,718.76L263.3,719.26L263.75,719.89L264.2,720.58L264.65,721.26L265.1,721.87L265.55,722.35L266,722.65L266.45,722.76L266.9,722.66L267.35,722.38L267.8,721.94L268.25,721.38L268.7,720.78L269.15,720.19L269.6,719.66L270.05,719.25L270.5,718.99L270.95,718.9L271.4,718.99L271.85,719.25L272.3,719.64L272.75,720.13L273.2,720.65L273.65,721.17L274.1,721.63L274.55,721.98L275,722.2L275.45,722.27L275.9,722.18L276.35,721.95L276.8,721.61L277.25,721.18L277.7,720.72L278.15,720.27L278.6,719.87L279.05,719.57L279.5,719.38L279.95,719.33L280.4,719.41L280.85,719.62L281.3,719.93L281.75,720.3L282.2,720.7L282.65,721.09L283.1,721.43L283.55,721.69L284,721.85L284.45,721.89L284.9,721.81L285.35,721.63L285.8,721.36L286.25,721.03L286.7,720.68L287.15,720.35L287.6,720.05L288.05,719.83L288.5,719.69L288.95,719.66L289.4,719.73L289.85,719.9L290.3,720.14L290.75,720.42L291.2,720.73L291.65,721.02L292.1,721.28L292.55,721.47L293,721.58L293.45,721.6L293.9,721.54L294.35,721.39L294.8,721.18L295.25,720.93L295.7,720.66L296.15,720.41L296.6,720.19L297.05,720.03L297.5,719.93L297.95,719.92L298.4,719.98L298.85,720.11L299.3,720.29L299.75,720.51L300.2,720.74L300.65,720.96L301.1,721.15L301.55,721.29L302,721.37L302.45,721.38L302.85,721.33L303.85,721.03L304.85,720.59L305.85,720.23L306.85,720.11L307.85,720.26L308.85,720.61L309.85,720.98L310.85,721.19L311.85,721.17L312.85,720.93L313.85,720.6L314.85,720.34L315.85,720.25L316.85,720.38L317.85,720.64L318.85,720.92L319.85,721.07L320.85,721.05L321.85,720.87L322.85,720.62L323.85,720.42L324.85,720.37L325.85,720.47L326.85,720.67L327.85,720.87L328.85,720.98L329.85,720.96L330.85,720.82L331.85,720.63L332.85,720.49L333.85,720.45L334.85,720.53L335.85,720.68L336.85,720.83L337.85,720.91L338.85,720.89L339.85,720.78L340.85,720.64L341.85,720.54L342.85,720.51L343.85,720.58L344.85,720.69L345.85,720.8L346.85,720.86L347.85,720.84L348.85,720.76L349.85,720.65L350.85,720.58L351.85,720.56L352.85,720.61L353.85,720.7L354.85,720.78L355.85,720.82L356.85,720.8L357.85,720.74L358.85,720.66L359.85,720.61L360.85,720.6L361.85,720.64L362.85,720.7L363.85,720.76L364.85,720.79L365.85,720.78L366.85,720.73L367.85,720.67L368.85,720.63L369.85,720.62L370.85,720.65L371.85,720.7L372.85,720.75L373.85,720.77L374.85,720.76L375.85,720.72L376.85,720.68L377.85,720.65L378.85,720.64L379.85,720.67L380.85,720.7L381.85,720.74L382.85,720.75L383.85,720.74L384.85,720.71L385.85,720.68L386.85,720.66L387.85,720.66L388.85,720.68L389.85,720.7L390.85,720.73L391.85,720.74L392.85,720.73L393.85,720.71L394.85,720.68L395.85,720.67L396.85,720.67L397.85,720.68L398.85,720.7L399.85,720.72L400.85,720.73L401.85,720.72L402.85,720.71L403.85,720.69L404.85,720.68L405.85,720.68L406.85,720.69L407.85,720.7L408.85,720.72L409.85,720.72L410.85,720.72L411.85,720.7L412.85,720.69L413.85,720.68L414.85,720.68L415.85,720.69L416.85,720.7L417.85,720.71L418.85,720.72L419.85,720.71L420.85,720.7L421.85,720.69L422.85,720.69L423.85,720.69L424.85,720.69L425.85,720.7L426.85,720.71L427.85,720.71L428.85,720.71L429.85,720.7L430.85,720.69L431.85,720.69L432.85,720.69L433.85,720.7L434.85,720.7L435.85,720.71L436.85,720.71L437.85,720.71L438.85,720.7L439.85,720.7L440.85,720.69L441.85,720.69L442.85,720.7L443.85,720.7L444.85,720.71L445.85,720.71L446.85,720.7L447.85,720.7L448.85,720.7L449.85,720.69L450.85,720.7L451.85,720.7L452.85,720.7L453.85,720.7L454.85,720.7L455.85,720.7L456.85,720.7L457.85,720.7L458.85,720.7L459.85,720.7L460.85,720.7L461.85,720.7L462.85,720.7L463.85,720.7L464.85,720.7L465.85,720.7L466.85,720.7L467.85,720.7L468.85,720.7L469.85,720.7L470.85,720.7L471.85,720.7L472.85,720.7L473.85,720.7L474.85,720.7L475.85,720.7L476.85,720.7L477.85,720.7L478.85,720.7L479.85,720.7L480.85,720.7L481.85,720.7L482.85,720.7L483.85,720.7L484.85,720.7L485.85,720.7L486.85,720.7L487.85,720.7L488.85,720.7L489.85,720.7L490.85,720.7L491.85,720.7L492.85,720.7L493.85,720.7L494.85,720.7L495.85,720.7L496.85,720.7L497.85,720.7L498.85,720.7L499.85,720.7L500.85,720.7L501.85,720.7L502.85,720.7L503.85,720.7L504.85,720.7L505.85,720.7L506.85,720.7L507.85,720.7L508.85,720.7L509.85,720.7L510.85,720.7L511.85,720.7L512.85,720.7L513.85,720.7L514.85,720.7L515.85,720.7L516.85,720.7L517.85,720.7L518.85,720.7L519.85,720.7L520.85,720.7L521.85,720.7L522.85,720.7L523.85,720.7L524.85,720.7L525.85,720.7L526.85,720.7L527.85,720.7L528.85,720.7L529.85,720.7L530.85,720.7L531.85,720.7L532.85,720.7L533.85,720.7L534.85,720.7L535.85,720.7L536.85,720.7L537.85,720.7L538.85,720.7L539.85,720.7L540.85,720.7L541.85,720.7L542.85,720.7L543.85,720.7L544.85,720.7L545.85,720.7L546.85,720.7L547.85,720.7L548.85,720.7L549.85,720.7L550.85,720.7L551.85,720.7L552.85,720.7L553.85,720.7L554.85,720.7L555.85,720.7L556.85,720.7L557.85,720.7L558.85,720.7L559.85,720.7L560.85,720.7L561.85,720.7L562.85,720.7L563.85,720.7L564.85,720.7L565.85,720.7L566.85,720.7L567.85,720.7L568.85,720.7L569.85,720.7L570.85,720.7L571.85,720.7L572.85,720.7L573.85,720.7L574.85,720.7L575.85,720.7L576.85,720.7L577.85,720.7L578.85,720.7L579.85,720.7L580.85,720.7L581.85,720.7L582.85,720.7L583.85,720.7L584.85,720.7L585.85,720.7L586.85,720.7L587.85,720.7L588.85,720.7L589.85,720.7L590.85,720.7L591.85,720.7L592.85,720.7L593.85,720.7L594.85,720.7L595.85,720.7L596.85,720.7L597.85,720.7L598.85,720.7L599.85,720.7L600.85,720.7L601.85,720.7L602.85,720.7L603.85,720.7" fill="none" stroke="#6E64AD" stroke-width="1.5" stroke-linejoin="round"/><path d="M43.7,802.5L44.15,803.93L44.6,805.07L45.05,805.81L45.5,806.05L45.95,805.76L46.4,804.95L46.85,803.69L47.3,802.09L47.75,800.3L48.2,798.49L48.65,796.83L49.1,795.5L49.55,794.65L50,794.37L50.45,794.72L50.9,795.69L51.35,797.22L51.8,799.17L52.25,801.36L52.7,803.59L53.15,805.61L53.6,807.23L54.05,808.24L54.5,808.53L54.95,808.02L55.4,806.75L55.85,804.81L56.3,802.37L56.75,799.68L57.2,796.99L57.65,794.59L58.1,792.73L58.55,791.61L59,791.38L59.45,792.08L59.9,793.69L60.35,796.05L60.8,798.97L61.25,802.15L61.7,805.29L62.15,808.05L62.6,810.15L63.05,811.35L63.5,811.51L63.95,810.57L64.4,808.61L64.85,805.8L65.3,802.4L65.75,798.76L66.2,795.22L66.65,792.15L67.1,789.87L67.55,788.64L68,788.59L68.45,789.76L68.9,792.06L69.35,795.28L69.8,799.11L70.25,803.18L70.7,807.07L71.15,810.4L71.6,812.81L72.05,814.04L72.5,813.95L72.95,812.53L73.4,809.89L73.85,806.29L74.3,802.08L74.75,797.68L75.2,793.53L75.65,790.05L76.1,787.6L76.55,786.42L77,786.67L77.45,788.32L77.9,791.23L78.35,795.11L78.8,799.6L79.25,804.24L79.7,808.57L80.15,812.15L80.6,814.61L81.05,815.69L81.5,815.28L81.95,813.41L82.4,810.26L82.85,806.14L83.3,801.46L83.75,796.7L84.2,792.32L84.65,788.77L85.1,786.4L85.55,785.45L86,786.02L86.45,788.05L86.9,791.34L87.35,795.57L87.8,800.31L88.25,805.09L88.7,809.43L89.15,812.88L89.6,815.09L90.05,815.84L90.5,815.07L90.95,812.88L91.4,809.51L91.85,805.31L92.3,800.71L92.75,796.18L93.2,792.17L93.65,789.08L94.1,787.2L94.55,786.7L95,787.6L95.45,789.78L95.9,792.99L96.35,796.86L96.8,801.01L97.25,805L97.7,808.44L98.15,810.99L98.6,812.42L99.05,812.64L99.5,811.65L99.95,809.63L100.4,806.83L100.85,803.57L101.3,800.19L101.75,797.05L102.2,794.46L102.65,792.63L103.1,791.72L103.55,791.77L104,792.69L104.45,794.34L104.9,796.49L105.35,798.87L105.8,801.23L106.25,803.3L106.7,804.89L107.15,805.88L107.6,806.21L108.05,805.93L108.5,805.16L108.95,804.04L109.4,802.76L109.85,801.49L110.3,800.38L110.75,799.55L111.2,799.04L111.65,798.88L112.1,799.01L112.55,799.35L113,799.81L113.45,800.25L113.9,800.58L114.35,800.73L114.8,800.62L115.25,800.2L115.7,799.55L116.15,798.78L116.6,798.06L117.05,797.54L117.5,797.38L117.95,797.68L118.4,798.5L118.85,799.82L119.3,801.53L119.75,803.47L120.2,805.42L120.65,807.11L121.1,808.32L121.55,808.81L122,808.45L122.45,807.17L122.9,805.03L123.35,802.18L123.8,798.87L124.25,795.44L124.7,792.25L125.15,789.68L125.6,788.08L126.05,787.69L126.5,788.63L126.95,790.93L127.4,794.43L127.85,798.85L128.3,803.79L128.75,808.73L129.2,813.13L129.65,816.48L130.1,818.34L130.55,818.45L131,816.72L131.45,813.27L131.9,808.4L132.35,802.57L132.8,796.36L133.25,790.38L133.7,785.27L134.15,781.55L134.6,779.66L135.05,779.83L135.5,782.11L135.95,786.34L136.4,792.17L136.85,799.07L137.3,806.35L137.75,813.26L138.2,819.07L138.65,823.14L139.1,824.98L139.55,824.39L140,821.4L140.45,816.29L140.9,809.56L141.35,801.87L141.8,793.99L142.25,786.71L142.7,780.76L143.15,776.75L143.6,775.1L144.05,775.98L144.5,779.33L144.95,784.85L145.4,792.01L145.85,800.12L146.3,808.36L146.75,815.9L147.2,821.95L147.65,825.89L148.1,827.3L148.55,826.05L149,822.28L149.45,816.37L149.9,808.9L150.35,800.63L150.8,792.38L151.25,784.98L151.7,779.15L152.15,775.47L152.6,774.31L153.05,775.77L153.5,779.71L153.95,785.72L154.4,793.2L154.85,801.41L155.3,809.53L155.75,816.73L156.2,822.32L156.65,825.73L157.1,826.63L157.55,824.93L158,820.82L158.45,814.74L158.9,807.35L159.35,799.39L159.8,791.69L160.25,784.98L160.7,779.93L161.15,777L161.6,776.44L162.05,778.28L162.5,782.31L162.95,788.11L163.4,795.07L163.85,802.49L164.3,809.63L164.75,815.78L165.2,820.35L165.65,822.9L166.1,823.22L166.55,821.3L167,817.38L167.45,811.88L167.9,805.37L168.35,798.52L168.8,792L169.25,786.46L169.7,782.42L170.15,780.25L170.6,780.14L171.05,782.06L171.5,785.78L171.95,790.91L172.4,796.91L172.85,803.18L173.3,809.09L173.75,814.07L174.2,817.63L174.65,819.45L175.1,819.39L175.55,817.47L176,813.95L176.45,809.19L176.9,803.69L177.35,798.02L177.8,792.73L178.25,788.34L178.7,785.24L179.15,783.72L179.6,783.9L180.05,785.72L180.5,788.99L180.95,793.35L181.4,798.37L181.85,803.54L182.3,808.35L182.75,812.32L183.2,815.08L183.65,816.37L184.1,816.08L184.55,814.28L185,811.18L185.45,807.09L185.9,802.46L186.35,797.74L186.8,793.41L187.25,789.88L187.7,787.48L188.15,786.44L188.6,786.82L189.05,788.56L189.5,791.46L189.95,795.22L190.4,799.44L190.85,803.7L191.3,807.58L191.75,810.7L192.2,812.78L192.65,813.62L193.1,813.18L193.55,811.51L194,808.81L194.45,805.37L194.9,801.54L195.35,797.69L195.8,794.22L196.25,791.46L196.7,789.67L197.15,789L197.6,789.49L198.05,791.09L198.5,793.59L198.95,796.74L199.4,800.22L199.85,803.67L200.3,806.75L200.75,809.17L201.2,810.71L201.65,811.23L202.1,810.71L202.55,809.2L203,806.9L203.45,804.03L203.9,800.89L204.35,797.79L204.8,795.05L205.25,792.91L205.7,791.59L206.15,791.19L206.6,791.73L207.05,793.14L207.5,795.27L207.95,797.9L208.4,800.76L208.85,803.55L209.3,806.01L209.75,807.9L210.2,809.03L210.65,809.32L211.1,808.74L211.55,807.38L212,805.4L212.45,803.01L212.9,800.45L213.35,797.99L213.8,795.85L214.25,794.25L214.7,793.3L215.15,793.1L215.6,793.65L216.05,794.88L216.5,796.66L216.95,798.81L217.4,801.1L217.85,803.31L218.3,805.23L218.75,806.66L219.2,807.48L219.65,807.6L220.1,807.05L220.55,805.87L221,804.22L221.45,802.25L221.9,800.18L222.35,798.2L222.8,796.51L223.25,795.27L223.7,794.59L224.15,794.52L224.6,795.06L225.05,796.15L225.5,797.66L225.95,799.44L226.4,801.32L226.85,803.09L227.3,804.6L227.75,805.69L228.2,806.26L228.65,806.28L229.1,805.74L229.55,804.72L230,803.32L230.45,801.7L230.9,800.02L231.35,798.44L231.8,797.11L232.25,796.17L232.7,795.69L233.15,795.72L233.6,796.23L234.05,797.18L234.5,798.45L234.95,799.92L235.4,801.43L235.85,802.85L236.3,804.02L236.75,804.85L237.2,805.25L237.65,805.19L238.1,804.69L238.55,803.81L239,802.64L239.45,801.3L239.9,799.93L240.35,798.67L240.8,797.64L241.25,796.93L241.7,796.6L242.15,796.69L242.6,797.17L243.05,797.99L243.5,799.06L243.95,800.26L244.4,801.48L244.85,802.59L245.3,803.49L245.75,804.1L246.2,804.35L246.65,804.24L247.1,803.79L247.55,803.04L248,802.08L248.45,801.01L248.9,799.93L249.35,798.95L249.8,798.17L250.25,797.66L250.7,797.45L251.15,797.57L251.6,798L252.05,798.68L252.5,799.54L252.95,800.5L253.4,801.46L253.85,802.32L254.3,803L254.75,803.44L255.2,803.61L255.65,803.48L256.1,803.08L256.55,802.46L257,801.67L257.45,800.81L257.9,799.95L258.35,799.19L258.8,798.6L259.25,798.22L259.7,798.09L260.15,798.23L260.6,798.6L261.05,799.18L261.5,799.89L261.95,800.66L262.4,801.42L262.85,802.1L263.3,802.62L263.75,802.94L264.2,803.03L264.65,802.89L265.1,802.54L265.55,802.02L266,801.37L266.45,800.68L266.9,800L267.35,799.41L267.8,798.95L268.25,798.68L268.7,798.61L269.15,798.75L269.6,799.08L270.05,799.56L270.5,800.14L270.95,800.77L271.4,801.37L271.85,801.9L272.3,802.29L272.75,802.52L273.2,802.57L273.65,802.43L274.1,802.13L274.55,801.69L275,801.16L275.45,800.6L275.9,800.06L276.35,799.59L276.8,799.24L277.25,799.05L277.7,799.02L278.15,799.16L278.6,799.44L279.05,799.85L279.5,800.33L279.95,800.83L280.4,801.31L280.85,801.73L281.3,802.03L281.75,802.19L282.2,802.2L282.65,802.07L283.1,801.8L283.55,801.43L284,801L284.45,800.55L284.9,800.12L285.35,799.76L285.8,799.5L286.25,799.36L286.7,799.36L287.15,799.49L287.6,799.74L288.05,800.08L288.5,800.46L288.95,800.87L289.4,801.25L289.85,801.56L290.3,801.78L290.75,801.9L291.2,801.89L291.65,801.76L292.1,801.53L292.55,801.23L293,800.88L293.45,800.52L293.9,800.19L294.35,799.91L294.8,799.72L295.25,799.63L295.7,799.65L296.15,799.77L296.6,799.97L297.05,800.25L297.5,800.56L297.95,800.88L298.4,801.18L298.85,801.42L299.3,801.59L299.75,801.66L300.2,801.64L300.65,801.53L301.1,801.33L301.55,801.08L302,800.8L302.45,800.51L302.85,800.28L303.85,799.88L304.85,799.88L305.85,800.27L306.85,800.83L307.85,801.31L308.85,801.48L309.85,801.29L310.85,800.82L311.85,800.33L312.85,800.02L313.85,800.05L314.85,800.38L315.85,800.84L316.85,801.21L317.85,801.33L318.85,801.15L319.85,800.77L320.85,800.37L321.85,800.15L322.85,800.19L323.85,800.46L324.85,800.84L325.85,801.13L326.85,801.21L327.85,801.05L328.85,800.73L329.85,800.42L330.85,800.25L331.85,800.29L332.85,800.53L333.85,800.83L334.85,801.06L335.85,801.11L336.85,800.97L337.85,800.71L338.85,800.45L339.85,800.32L340.85,800.37L341.85,800.58L342.85,800.83L343.85,801.01L344.85,801.04L345.85,800.91L346.85,800.69L347.85,800.49L348.85,800.39L349.85,800.44L350.85,800.61L351.85,800.82L352.85,800.95L353.85,800.97L354.85,800.86L355.85,800.68L356.85,800.52L357.85,800.45L358.85,800.5L359.85,800.64L360.85,800.8L361.85,800.91L362.85,800.91L363.85,800.82L364.85,800.67L365.85,800.55L366.85,800.51L367.85,800.55L368.85,800.66L369.85,800.79L370.85,800.86L371.85,800.86L372.85,800.78L373.85,800.67L374.85,800.58L375.85,800.55L376.85,800.59L377.85,800.68L378.85,800.77L379.85,800.83L380.85,800.82L381.85,800.76L382.85,800.67L383.85,800.6L384.85,800.58L385.85,800.62L386.85,800.69L387.85,800.76L388.85,800.8L389.85,800.8L390.85,800.74L391.85,800.67L392.85,800.62L393.85,800.6L394.85,800.63L395.85,800.7L396.85,800.76L397.85,800.79L398.85,800.78L399.85,800.73L400.85,800.67L401.85,800.62L402.85,800.61L403.85,800.64L404.85,800.7L405.85,800.76L406.85,800.79L407.85,800.77L408.85,800.73L409.85,800.67L410.85,800.63L411.85,800.62L412.85,800.65L413.85,800.7L414.85,800.75L415.85,800.78L416.85,800.76L417.85,800.72L418.85,800.67L419.85,800.63L420.85,800.63L421.85,800.66L422.85,800.71L423.85,800.75L424.85,800.77L425.85,800.76L426.85,800.72L427.85,800.67L428.85,800.64L429.85,800.64L430.85,800.66L431.85,800.71L432.85,800.75L433.85,800.76L434.85,800.75L435.85,800.71L436.85,800.67L437.85,800.64L438.85,800.64L439.85,800.67L440.85,800.71L441.85,800.75L442.85,800.76L443.85,800.74L444.85,800.71L445.85,800.67L446.85,800.65L447.85,800.65L448.85,800.68L449.85,800.71L450.85,800.74L451.85,800.75L452.85,800.74L453.85,800.7L454.85,800.67L455.85,800.65L456.85,800.66L457.85,800.68L458.85,800.71L459.85,800.74L460.85,800.74L461.85,800.73L462.85,800.7L463.85,800.67L464.85,800.66L465.85,800.66L466.85,800.69L467.85,800.71L468.85,800.73L469.85,800.74L470.85,800.72L471.85,800.7L472.85,800.68L473.85,800.66L474.85,800.67L475.85,800.69L476.85,800.71L477.85,800.73L478.85,800.73L479.85,800.72L480.85,800.7L481.85,800.68L482.85,800.67L483.85,800.67L484.85,800.69L485.85,800.71L486.85,800.73L487.85,800.73L488.85,800.72L489.85,800.7L490.85,800.68L491.85,800.67L492.85,800.68L493.85,800.69L494.85,800.71L495.85,800.72L496.85,800.72L497.85,800.71L498.85,800.7L499.85,800.68L500.85,800.68L501.85,800.68L502.85,800.7L503.85,800.71L504.85,800.72L505.85,800.72L506.85,800.71L507.85,800.7L508.85,800.68L509.85,800.68L510.85,800.69L511.85,800.7L512.85,800.71L513.85,800.72L514.85,800.72L515.85,800.71L516.85,800.7L517.85,800.69L518.85,800.68L519.85,800.69L520.85,800.7L521.85,800.71L522.85,800.71L523.85,800.71L524.85,800.71L525.85,800.7L526.85,800.69L527.85,800.69L528.85,800.69L529.85,800.7L530.85,800.71L531.85,800.71L532.85,800.71L533.85,800.7L534.85,800.7L535.85,800.69L536.85,800.69L537.85,800.69L538.85,800.7L539.85,800.71L540.85,800.71L541.85,800.71L542.85,800.7L543.85,800.7L544.85,800.69L545.85,800.69L546.85,800.7L547.85,800.7L548.85,800.7L549.85,800.71L550.85,800.71L551.85,800.7L552.85,800.7L553.85,800.69L554.85,800.69L555.85,800.7L556.85,800.7L557.85,800.7L558.85,800.7L559.85,800.7L560.85,800.7L561.85,800.7L562.85,800.7L563.85,800.7L564.85,800.7L565.85,800.7L566.85,800.7L567.85,800.7L568.85,800.7L569.85,800.7L570.85,800.7L571.85,800.7L572.85,800.7L573.85,800.7L574.85,800.7L575.85,800.7L576.85,800.7L577.85,800.7L578.85,800.7L579.85,800.7L580.85,800.7L581.85,800.7L582.85,800.7L583.85,800.7L584.85,800.7L585.85,800.7L586.85,800.7L587.85,800.7L588.85,800.7L589.85,800.7L590.85,800.7L591.85,800.7L592.85,800.7L593.85,800.7L594.85,800.7L595.85,800.7L596.85,800.7L597.85,800.7L598.85,800.7L599.85,800.7L600.85,800.7L601.85,800.7L602.85,800.7L603.85,800.7" fill="none" stroke="#F2653C" stroke-width="1.5" stroke-linejoin="round"/></g>
<text x="54.6" y="647.9" font-family="'Liberation Sans',sans-serif" font-size="27" text-anchor="start" >(c)</text>
<text x="134.6" y="647.6" font-family="'Liberation Sans',sans-serif" font-size="27" text-anchor="start" >B = 1 T</text>
<text x="316.5" y="650.3" font-size="26.8" font-family="'Liberation Sans',sans-serif"><tspan font-family="'Liberation Serif',serif" font-size="28">τ</tspan><tspan font-size="16" dy="11.6">p</tspan><tspan dy="-11.6" dx="0.4"> = 100 fs</tspan></text>
<text x="474.8" y="702.8" font-family="'Liberation Sans',sans-serif" font-size="26.8" text-anchor="start" >Ellipticity</text>
<text x="597.7" y="841.1" font-family="'Liberation Sans',sans-serif" font-size="26.8" text-anchor="end" >Faraday rotation</text>
<text x="319" y="922.3" font-family="'Liberation Sans',sans-serif" font-size="27" text-anchor="middle" >Time delay (ns)</text>
<text transform="translate(22.9,704.2) rotate(-90)" font-family="'Liberation Serif',serif" font-size="33.33">Ellipticity, Faraday rotation (arb.units)</text>
<path d="M666.4,141.04L666.9,141.11L667.4,141.18L667.9,141.25L668.4,141.32L668.9,141.4L669.4,141.47L669.9,141.55L670.4,141.62L670.9,141.7L671.4,141.78L671.9,141.86L672.4,141.94L672.9,142.02L673.4,142.11L673.9,142.19L674.4,142.28L674.9,142.37L675.4,142.46L675.9,142.55L676.4,142.64L676.9,142.73L677.4,142.83L677.9,142.93L678.4,143.02L678.9,143.12L679.4,143.23L679.9,143.33L680.4,143.43L680.9,143.54L681.4,143.65L681.9,143.76L682.4,143.87L682.9,143.99L683.4,144.11L683.9,144.22L684.4,144.35L684.9,144.47L685.4,144.6L685.9,144.72L686.4,144.85L686.9,144.99L687.4,145.12L687.9,145.26L688.4,145.4L688.9,145.55L689.4,145.7L689.9,145.85L690.4,146L690.9,146.16L691.4,146.32L691.9,146.48L692.4,146.65L692.9,146.82L693.4,147L693.9,147.18L694.4,147.36L694.9,147.55L695.4,147.74L695.9,147.94L696.4,148.14L696.9,148.34L697.4,148.56L697.9,148.77L698.4,148.99L698.9,149.22L699.4,149.46L699.9,149.7L700.4,149.94L700.9,150.19L701.4,150.45L701.9,150.72L702.4,150.99L702.9,151.27L703.4,151.56L703.9,151.86L704.4,152.16L704.9,152.48L705.4,152.8L705.9,153.13L706.4,153.47L706.9,153.83L707.4,154.19L707.9,154.56L708.4,154.94L708.9,155.34L709.4,155.75L709.9,156.17L710.4,156.6L710.9,157.04L711.4,157.5L711.9,157.97L712.4,158.46L712.9,158.96L713.4,159.48L713.9,160.01L714.4,160.56L714.9,161.13L715.4,161.71L715.9,162.31L716.4,162.92L716.9,163.56L717.4,164.21L717.9,164.88L718.4,165.57L718.9,166.28L719.4,167L719.9,167.75L720.4,168.51L720.9,169.29L721.4,170.09L721.9,170.91L722.4,171.74L722.9,172.59L723.4,173.45L723.9,174.32L724.4,175.21L724.9,176.1L725.4,177L725.9,177.9L726.4,178.81L726.9,179.71L727.4,180.6L727.9,181.49L728.4,182.35L728.9,183.2L729.4,184.01L729.9,184.79L730.4,185.53L730.9,186.22L731.4,186.85L731.9,187.41L732.4,187.88L732.9,188.27L733.4,188.56L733.9,188.73L734.4,188.78L734.9,188.68L735.4,188.44L735.9,188.03L736.4,187.44L736.9,186.66L737.4,185.68L737.9,184.49L738.4,183.08L738.9,181.44L739.4,179.56L739.9,177.45L740.4,175.09L740.9,172.49L741.4,169.66L741.9,166.6L742.4,163.31L742.9,159.82L743.4,156.14L743.9,152.3L744.4,148.3L744.9,144.18L745.4,139.97L745.9,135.68L746.4,131.37L746.9,127.04L747.4,122.74L747.9,118.5L748.4,114.33L748.9,110.29L749.4,106.38L749.9,102.63L750.4,99.06L750.9,95.69L751.4,92.54L751.9,89.61L752.4,86.92L752.9,84.47L753.4,82.25L753.9,80.28L754.4,78.55L754.9,77.04L755.4,75.77L755.9,74.7L756.4,73.85L756.9,73.19L757.4,72.71L757.9,72.4L758.4,72.24L758.9,72.24L759.4,72.36L759.9,72.6L760.4,72.95L760.9,73.39L761.4,73.92L761.9,74.52L762.4,75.19L762.9,75.9L763.4,76.67L763.9,77.47L764.4,78.31L764.9,79.16L765.4,80.04L765.9,80.93L766.4,81.83L766.9,82.74L767.4,83.64L767.9,84.54L768.4,85.44L768.9,86.33L769.4,87.2L769.9,88.07L770.4,88.92L770.9,89.76L771.4,90.58L771.9,91.39L772.4,92.18L772.9,92.95L773.4,93.7L773.9,94.43L774.4,95.15L774.9,95.85L775.4,96.52L775.9,97.18L776.4,97.82L776.9,98.45L777.4,99.05L777.9,99.64L778.4,100.22L778.9,100.77L779.4,101.31L779.9,101.83L780.4,102.34L780.9,102.83L781.4,103.31L781.9,103.78L782.4,104.23L782.9,104.66L783.4,105.09L783.9,105.5L784.4,105.9L784.9,106.29L785.4,106.66L785.9,107.03L786.4,107.39L786.9,107.73L787.4,108.07L787.9,108.39L788.4,108.71L788.9,109.02L789.4,109.32L789.9,109.61L790.4,109.9L790.9,110.17L791.4,110.44L791.9,110.7L792.4,110.96L792.9,111.21L793.4,111.45L793.9,111.69L794.4,111.92L794.9,112.14L795.4,112.36L795.9,112.57L796.4,112.78L796.9,112.98L797.4,113.18L797.9,113.38L798.4,113.57L798.9,113.75L799.4,113.93L799.9,114.11L800.4,114.28L800.9,114.45L801.4,114.62L801.9,114.78L802.4,114.94L802.9,115.09L803.4,115.24L803.9,115.39L804.4,115.54L804.9,115.68L805.4,115.82L805.9,115.96L806.4,116.09L806.9,116.22L807.4,116.35L807.9,116.48L808.4,116.61L808.9,116.73L809.4,116.85L809.9,116.97L810.4,117.08L810.9,117.19L811.4,117.31L811.9,117.42L812.4,117.52L812.9,117.63L813.4,117.73L813.9,117.84L814.4,117.94L814.9,118.04L815.4,118.13L815.9,118.23L816.4,118.32L816.9,118.42L817.4,118.51L817.9,118.6L818.4,118.68L818.9,118.77L819.4,118.86L819.9,118.94L820.4,119.03L820.9,119.11L821.4,119.19L821.9,119.27L822.4,119.35L822.9,119.42L823.4,119.5L823.9,119.57L824.4,119.65L824.9,119.72L825.4,119.79L825.9,119.86L826.4,119.93" fill="none" stroke="#000" stroke-width="1.5"/>
<path d="M666.4,130.50L666.4,130.66L666.5,130.67L666.54,130.67L666.6,130.67L666.7,130.67L666.8,130.66L666.9,130.66L667,130.65L667.1,130.64L667.2,130.62L667.3,130.61L667.4,130.6L667.5,130.59L667.6,130.59L667.7,130.58L667.8,130.57L667.9,130.57L668,130.56L668.1,130.56L668.2,130.55L668.3,130.55L668.4,130.55L668.5,130.54L668.6,130.54L693.8,130.54L693.9,130.54L694,130.54L694.1,130.54L694.2,130.54L694.3,130.55L694.4,130.55L694.5,130.55L694.6,130.55L694.7,130.55L694.8,130.55L694.9,130.56L695,130.56L695.1,130.56L695.2,130.56L695.3,130.56L695.4,130.57L695.5,130.57L695.6,130.57L695.7,130.57L695.8,130.58L695.9,130.58L696,130.58L696.1,130.58L696.2,130.59L696.3,130.59L696.4,130.59L696.5,130.6L696.6,130.6L696.7,130.6L696.8,130.61L696.9,130.61L697,130.62L697.1,130.62L697.2,130.62L697.3,130.63L697.4,130.63L697.5,130.64L697.6,130.64L697.7,130.65L697.8,130.66L697.9,130.66L698,130.67L698.1,130.67L698.2,130.68L698.3,130.69L698.4,130.69L698.5,130.7L698.6,130.71L698.7,130.72L698.8,130.73L698.9,130.73L699,130.74L699.1,130.75L699.2,130.76L699.3,130.77L699.4,130.78L699.5,130.79L699.6,130.81L699.7,130.82L699.8,130.83L699.9,130.84L700,130.86L700.1,130.87L700.2,130.89L700.3,130.9L700.4,130.92L700.5,130.93L700.6,130.95L700.7,130.97L700.8,130.99L700.9,131.01L701,131.03L701.1,131.05L701.2,131.07L701.3,131.09L701.4,131.12L701.5,131.14L701.6,131.17L701.7,131.2L701.8,131.23L701.9,131.26L702,131.29L702.1,131.32L702.2,131.35L702.3,131.39L702.4,131.43L702.5,131.47L702.6,131.51L702.7,131.55L702.8,131.59L702.9,131.64L703,131.69L703.1,131.74L703.2,131.79L703.3,131.85L703.4,131.91L703.5,131.97L703.6,132.03L703.7,132.1L703.8,132.17L703.9,132.24L704,132.32L704.1,132.4L704.2,132.49L704.3,132.58L704.4,132.67L704.5,132.77L704.6,132.88L704.7,132.99L704.8,133.1L704.9,133.22L705,133.35L705.1,133.49L705.2,133.63L705.3,133.78L705.4,133.93L705.5,134.1L705.6,134.28L705.7,134.46L705.8,134.66L705.9,134.86L706,135.08L706.1,135.31L706.2,135.56L706.3,135.82L706.4,136.09L706.5,136.38L706.6,136.69L706.7,137.02L706.8,137.36L706.9,137.73L707,138.12L707.1,138.54L707.2,138.98L707.3,139.45L707.4,139.95L707.5,140.48L707.6,141.05L707.7,141.65L707.8,142.3L707.9,142.98L708,143.71L708.1,144.49L708.2,145.33L708.3,146.21L708.4,147.16L708.5,148.17L708.6,149.25L708.7,150.39L708.8,151.61L708.9,152.91L709,154.29L709.1,155.76L709.2,157.31L709.3,158.95L709.4,160.68L709.5,162.5L709.6,164.41L709.7,166.4L709.8,168.47L709.9,170.61L710,172.81L710.1,175.06L710.2,177.33L710.3,179.61L710.4,181.87L710.5,184.09L710.6,186.23L710.7,188.26L710.8,190.16L710.9,191.87L711,193.39L711.1,194.67L711.2,195.71L711.3,196.47L711.4,196.95L711.4,196.96L711.5,197.16L711.6,197.09L711.7,196.76L711.8,196.17L711.9,195.36L712,194.35L712.1,193.16L712.2,191.83L712.3,190.37L712.4,188.82L712.5,187.2L712.6,185.54L712.7,183.85L712.8,182.15L712.9,180.45L713,178.77L713.1,177.12L713.2,175.51L713.3,173.94L713.4,172.42L713.5,170.94L713.6,169.52L713.7,168.15L713.8,166.84L713.9,165.58L714,164.37L714.1,163.22L714.2,162.11L714.3,161.06L714.4,160.05L714.5,159.09L714.6,158.17L714.7,157.3L714.8,156.46L714.9,155.66L715,154.9L715.1,154.17L715.2,153.48L715.3,152.82L715.4,152.18L715.5,151.58L715.6,151L715.7,150.45L715.8,149.92L715.9,149.41L716,148.93L716.1,148.46L716.2,148.02L716.3,147.59L716.4,147.18L716.5,146.79L716.6,146.41L716.7,146.05L716.8,145.7L716.9,145.37L717,145.05L717.1,144.74L717.2,144.44L717.3,144.15L717.4,143.88L717.5,143.61L717.6,143.36L717.7,143.11L717.8,142.87L717.9,142.65L718,142.43L718.1,142.21L718.2,142.01L718.3,141.81L718.4,141.62L718.5,141.43L718.6,141.25L718.7,141.08L718.8,140.91L718.9,140.75L719,140.6L719.1,140.45L719.2,140.3L719.3,140.16L719.4,140.02L719.5,139.89L719.6,139.76L719.7,139.64L719.8,139.52L719.9,139.4L720,139.29L720.1,139.18L720.2,139.08L720.3,138.97L720.4,138.88L720.5,138.78L720.6,138.69L720.7,138.6L720.8,138.51L720.9,138.43L721,138.35L721.1,138.27L721.2,138.19L721.3,138.12L721.4,138.05L721.5,137.98L721.6,137.91L721.7,137.85L721.8,137.79L721.9,137.73L722,137.67L722.1,137.62L722.2,137.56L722.3,137.51L722.4,137.46L722.5,137.42L722.6,137.37L722.7,137.33L722.8,137.29L722.9,137.25L723,137.21L723.1,137.17L723.2,137.14L723.3,137.1L723.4,137.07L723.5,137.04L723.6,137.01L723.7,136.99L723.8,136.96L723.9,136.94L724,136.91L724.1,136.89L724.2,136.88L724.3,136.86L724.4,136.84L724.5,136.83L724.6,136.81L724.7,136.8L724.8,136.79L724.9,136.78L725,136.77L725.1,136.77L725.2,136.76L725.3,136.76L725.4,136.76L725.5,136.76L725.6,136.76L725.7,136.76L725.8,136.76L725.9,136.77L726,136.78L726.1,136.78L726.2,136.79L726.3,136.8L726.4,136.82L726.5,136.83L726.6,136.84L726.7,136.86L726.8,136.88L726.9,136.9L727,136.92L727.1,136.94L727.2,136.96L727.3,136.99L727.4,137.01L727.5,137.04L727.6,137.07L727.7,137.1L727.8,137.13L727.9,137.17L728,137.2L728.1,137.24L728.2,137.28L728.3,137.32L728.4,137.36L728.5,137.4L728.6,137.44L728.7,137.49L728.8,137.54L728.9,137.59L729,137.64L729.1,137.69L729.2,137.74L729.3,137.8L729.4,137.86L729.5,137.92L729.6,137.98L729.7,138.04L729.8,138.11L729.9,138.17L730,138.24L730.1,138.31L730.2,138.38L730.3,138.46L730.4,138.53L730.5,138.61L730.6,138.69L730.7,138.77L730.8,138.86L730.9,138.94L731,139.03L731.1,139.12L731.2,139.21L731.3,139.31L731.4,139.4L731.5,139.5L731.6,139.6L731.7,139.71L731.8,139.81L731.9,139.92L732,140.03L732.1,140.14L732.2,140.26L732.3,140.38L732.4,140.5L732.5,140.62L732.6,140.74L732.7,140.87L732.8,141L732.9,141.13L733,141.27L733.1,141.4L733.2,141.55L733.3,141.69L733.4,141.83L733.5,141.98L733.6,142.14L733.7,142.29L733.8,142.45L733.9,142.61L734,142.77L734.1,142.94L734.2,143.11L734.3,143.28L734.4,143.45L734.5,143.63L734.6,143.82L734.7,144L734.8,144.19L734.9,144.38L735,144.57L735.1,144.77L735.2,144.97L735.3,145.18L735.4,145.39L735.5,145.6L735.6,145.81L735.7,146.03L735.8,146.26L735.9,146.48L736,146.71L736.1,146.94L736.2,147.18L736.3,147.42L736.4,147.66L736.5,147.91L736.6,148.16L736.7,148.42L736.8,148.68L736.9,148.94L737,149.2L737.1,149.47L737.2,149.75L737.3,150.03L737.4,150.31L737.5,150.59L737.6,150.88L737.7,151.17L737.8,151.47L737.9,151.77L738,152.08L738.1,152.38L738.2,152.7L738.3,153.01L738.4,153.33L738.5,153.65L738.6,153.98L738.7,154.31L738.8,154.65L738.9,154.98L739,155.33L739.1,155.67L739.2,156.02L739.3,156.37L739.4,156.73L739.5,157.09L739.6,157.45L739.7,157.82L739.8,158.19L739.9,158.56L740,158.94L740.1,159.32L740.2,159.7L740.3,160.09L740.4,160.48L740.5,160.87L740.6,161.26L740.7,161.66L740.8,162.06L740.9,162.47L741,162.87L741.1,163.28L741.2,163.69L741.3,164.1L741.4,164.52L741.5,164.94L741.6,165.36L741.7,165.78L741.8,166.2L741.9,166.63L742,167.06L742.1,167.48L742.2,167.91L742.3,168.35L742.4,168.78L742.5,169.21L742.6,169.65L742.7,170.09L742.8,170.52L742.9,170.96L743,171.4L743.1,171.84L743.2,172.28L743.3,172.72L743.4,173.16L743.5,173.6L743.6,174.05L743.7,174.49L743.8,174.93L743.9,175.37L744,175.81L744.1,176.26L744.2,176.7L744.3,177.14L744.4,177.58L744.5,178.02L744.6,178.46L744.7,178.9L744.8,179.34L744.9,179.77L745,180.21L745.1,180.65L745.2,181.09L745.3,181.52L745.4,181.95L745.5,182.39L745.6,182.82L745.7,183.25L745.8,183.69L745.9,184.12L746,184.55L746.1,184.98L746.2,185.41L746.3,185.83L746.4,186.26L746.5,186.69L746.6,187.12L746.7,187.54L746.8,187.97L746.9,188.39L747,188.82L747.1,189.24L747.2,189.67L747.3,190.09L747.4,190.52L747.5,190.94L747.6,191.37L747.7,191.8L747.8,192.22L747.9,192.65L748,193.08L748.1,193.51L748.2,193.94L748.3,194.37L748.4,194.8L748.5,195.24L748.6,195.67L748.7,196.11L748.8,196.55L748.9,196.99L749,197.43L749.1,197.88L749.2,198.32L749.3,198.77L749.4,199.23L749.5,199.68L749.6,200.14L749.7,200.6L749.8,201.06L749.9,201.53L750,202L750.1,202.47L750.2,202.95L750.3,203.43L750.4,203.92L750.5,204.41L750.6,204.9L750.7,205.39L750.8,205.89L750.9,206.4L751,206.91L751.1,207.42L751.2,207.93L751.3,208.45L751.4,208.98L751.5,209.5L751.6,210.04L751.7,210.57L751.8,211.11L751.9,211.65L752,212.2L752.1,212.75L752.2,213.3L752.3,213.86L752.4,214.41L752.5,214.97L752.6,215.53L752.7,216.1L752.8,216.66L752.9,217.22L753,217.79L753.1,218.35L753.2,218.92L753.3,219.48L753.4,220.04L753.5,220.59L753.6,221.14L753.7,221.69L753.8,222.23L753.9,222.77L754,223.3L754.1,223.82L754.2,224.33L754.3,224.83L754.4,225.32L754.5,225.79L754.6,226.26L754.7,226.7L754.8,227.13L754.9,227.54L755,227.93L755.1,228.3L755.2,228.65L755.3,228.97L755.4,229.26L755.5,229.53L755.6,229.77L755.7,229.97L755.8,230.15L755.9,230.29L756,230.39L756.1,230.46L756.2,230.48L756.25,230.48L756.3,230.47L756.4,230.41L756.5,230.31L756.6,230.17L756.7,229.98L756.8,229.75L756.9,229.46L757,229.13L757.1,228.75L757.2,228.32L757.3,227.85L757.4,227.32L757.5,226.74L757.6,226.11L757.7,225.43L757.8,224.71L757.9,223.93L758,223.11L758.1,222.25L758.2,221.34L758.3,220.38L758.4,219.38L758.5,218.35L758.6,217.27L758.7,216.16L758.8,215.02L758.9,213.84L759,212.63L759.1,211.4L759.2,210.14L759.3,208.86L759.4,207.56L759.5,206.24L759.6,204.9L759.7,203.55L759.8,202.19L759.9,200.83L760,199.46L760.1,198.08L760.2,196.7L760.3,195.33L760.4,193.96L760.5,192.59L760.6,191.22L760.7,189.87L760.8,188.53L760.9,187.19L761,185.87L761.1,184.57L761.2,183.28L761.3,182L761.4,180.75L761.5,179.51L761.6,178.29L761.7,177.09L761.8,175.91L761.9,174.75L762,173.61L762.1,172.5L762.2,171.4L762.3,170.33L762.4,169.28L762.5,168.25L762.6,167.25L762.7,166.27L762.8,165.31L762.9,164.37L763,163.45L763.1,162.56L763.2,161.69L763.3,160.84L763.4,160.01L763.5,159.2L763.6,158.41L763.7,157.64L763.8,156.9L763.9,156.17L764,155.46L764.1,154.77L764.2,154.1L764.3,153.45L764.4,152.82L764.5,152.2L764.6,151.6L764.7,151.01L764.8,150.45L764.9,149.89L765,149.36L765.1,148.84L765.2,148.33L765.3,147.84L765.4,147.36L765.5,146.89L765.6,146.44L765.7,146L765.8,145.58L765.9,145.16L766,144.76L766.1,144.37L766.2,143.99L766.3,143.62L766.4,143.26L766.5,142.91L766.6,142.57L766.7,142.24L766.8,141.92L766.9,141.61L767,141.31L767.1,141.02L767.2,140.73L767.3,140.45L767.4,140.18L767.5,139.92L767.6,139.67L767.7,139.42L767.8,139.18L767.9,138.95L768,138.72L768.1,138.5L768.2,138.29L768.3,138.08L768.4,137.88L768.5,137.68L768.6,137.49L768.7,137.3L768.8,137.12L768.9,136.95L769,136.78L769.1,136.61L769.2,136.45L769.3,136.29L769.4,136.14L769.5,135.99L769.6,135.85L769.7,135.71L769.8,135.57L769.9,135.44L770,135.31L770.1,135.18L770.2,135.06L770.3,134.94L770.4,134.83L770.5,134.72L770.6,134.61L770.7,134.5L770.8,134.4L770.9,134.3L771,134.2L771.1,134.1L771.2,134.01L771.3,133.92L771.4,133.83L771.5,133.75L771.6,133.66L771.7,133.58L771.8,133.5L771.9,133.43L772,133.35L772.1,133.28L772.2,133.21L772.3,133.14L772.4,133.08L772.5,133.01L772.6,132.95L772.7,132.89L772.8,132.83L772.9,132.77L773,132.71L773.1,132.66L773.2,132.6L773.3,132.55L773.4,132.5L773.5,132.45L773.6,132.4L773.7,132.36L773.8,132.31L773.9,132.27L774,132.23L774.1,132.18L774.2,132.14L774.3,132.1L774.4,132.07L774.5,132.03L774.6,131.99L774.7,131.96L774.8,131.92L774.9,131.89L775,131.86L775.1,131.83L775.2,131.8L775.3,131.77L775.4,131.74L775.5,131.71L775.6,131.68L775.7,131.65L775.8,131.63L775.9,131.6L776,131.58L776.1,131.56L776.2,131.53L776.3,131.51L776.4,131.49L776.5,131.47L776.6,131.45L776.7,131.43L776.8,131.41L776.9,131.39L777,131.37L777.1,131.36L777.2,131.34L777.3,131.32L777.4,131.31L777.5,131.29L777.6,131.28L777.7,131.26L777.8,131.25L777.9,131.24L778,131.22L778.1,131.21L778.2,131.2L778.3,131.19L778.4,131.18L778.5,131.16L778.6,131.15L778.7,131.14L778.8,131.13L778.9,131.12L779,131.12L779.1,131.11L779.2,131.1L779.3,131.09L779.4,131.08L779.5,131.07L779.6,131.07L779.7,131.06L779.8,131.05L779.9,131.05L780,131.04L780.1,131.04L780.2,131.03L780.3,131.02L780.4,131.02L780.5,131.01L780.6,131.01L780.7,131.01L780.8,131L780.9,131L781,130.99L781.1,130.99L781.2,130.99L781.3,130.98L781.4,130.98L781.5,130.98L781.6,130.98L781.7,130.97L781.8,130.97L781.9,130.97L782,130.97L782.1,130.96L782.2,130.96L782.3,130.96L782.4,130.96L782.5,130.96L782.6,130.96L782.7,130.96L782.8,130.96L782.9,130.96L783,130.95L783.1,130.95L783.2,130.95L783.3,130.95L783.4,130.95L783.5,130.95L783.6,130.95L783.7,130.95L783.8,130.95L783.9,130.96L784,130.96L784.1,130.96L784.2,130.96L784.3,130.96L784.4,130.96L784.5,130.96L784.6,130.96L784.7,130.96L784.8,130.96L784.9,130.96L785,130.97L785.1,130.97L785.2,130.97L785.3,130.97L785.4,130.97L785.5,130.97L785.6,130.98L785.7,130.98L785.8,130.98L785.9,130.98L786,130.98L786.1,130.99L786.2,130.99L786.3,130.99L786.4,130.99L786.5,130.99L786.6,131L786.7,131L786.8,131L786.9,131L787,131.01L787.1,131.01L787.2,131.01L787.3,131.02L787.4,131.02L787.5,131.02L787.6,131.02L787.7,131.03L787.8,131.03L787.9,131.03L788,131.04L788.1,131.04L788.2,131.04L788.3,131.05L788.4,131.05L788.5,131.05L788.6,131.06L788.7,131.06L788.8,131.06L788.9,131.07L789,131.07L789.1,131.08L789.2,131.08L789.3,131.08L789.4,131.09L789.5,131.09L789.6,131.09L789.7,131.1L789.8,131.1L789.9,131.11L790,131.11L790.1,131.12L790.2,131.12L790.3,131.13L790.4,131.13L790.5,131.14L790.6,131.14L790.7,131.15L790.8,131.15L790.9,131.16L791,131.16L791.1,131.17L791.2,131.17L791.3,131.18L791.4,131.18L791.5,131.19L791.6,131.2L791.7,131.2L791.8,131.21L791.9,131.22L792,131.22L792.1,131.23L792.2,131.24L792.3,131.24L792.4,131.25L792.5,131.26L792.6,131.27L792.7,131.27L792.8,131.28L792.9,131.29L793,131.3L793.1,131.31L793.2,131.32L793.3,131.33L793.4,131.34L793.5,131.35L793.6,131.36L793.7,131.37L793.8,131.38L793.9,131.39L794,131.4L794.1,131.42L794.2,131.43L794.3,131.44L794.4,131.45L794.5,131.47L794.6,131.48L794.7,131.5L794.8,131.51L794.9,131.53L795,131.55L795.1,131.57L795.2,131.58L795.3,131.6L795.4,131.62L795.5,131.65L795.6,131.67L795.7,131.69L795.8,131.71L795.9,131.74L796,131.77L796.1,131.79L796.2,131.82L796.3,131.85L796.4,131.88L796.5,131.92L796.6,131.95L796.7,131.99L796.8,132.03L796.9,132.07L797,132.11L797.1,132.16L797.2,132.21L797.3,132.26L797.4,132.32L797.5,132.37L797.6,132.44L797.7,132.5L797.8,132.57L797.9,132.65L798,132.73L798.1,132.81L798.2,132.91L798.3,133L798.4,133.11L798.5,133.22L798.6,133.35L798.7,133.48L798.8,133.62L798.9,133.77L799,133.94L799.1,134.11L799.2,134.3L799.3,134.51L799.4,134.73L799.5,134.97L799.6,135.23L799.7,135.5L799.8,135.8L799.9,136.1L800,136.43L800.1,136.76L800.2,137.1L800.3,137.45L800.4,137.78L800.5,138.1L800.6,138.38L800.7,138.62L800.8,138.8L800.9,138.91L801,138.93L801.1,138.86L801.11,138.85L801.2,138.71L801.3,138.46L801.4,138.15L801.5,137.77L801.6,137.35L801.7,136.9L801.8,136.44L801.9,135.99L802,135.54L802.1,135.12L802.2,134.72L802.3,134.35L802.4,134.01L802.5,133.7L802.6,133.42L802.7,133.16L802.8,132.92L802.9,132.71L803,132.52L803.1,132.35L803.2,132.19L803.3,132.05L803.4,131.92L803.5,131.81L803.6,131.71L803.7,131.61L803.8,131.53L803.9,131.45L804,131.38L804.1,131.31L804.2,131.25L804.3,131.2L804.4,131.15L804.5,131.11L804.6,131.07L804.7,131.03L804.8,130.99L804.9,130.96L805,130.93L805.1,130.9L805.2,130.88L805.3,130.85L805.4,130.83L805.5,130.81L805.6,130.79L805.7,130.78L805.8,130.76L805.9,130.75L806,130.73L806.1,130.72L806.2,130.71L806.3,130.69L806.4,130.68L806.5,130.67L806.6,130.66L806.7,130.66L806.8,130.65L806.9,130.64L807,130.63L807.1,130.63L807.2,130.62L807.3,130.61L807.4,130.61L807.5,130.6L807.6,130.6L807.7,130.59L807.8,130.59L807.9,130.58L808,130.58L808.1,130.58L808.2,130.57L808.3,130.57L808.4,130.57L808.5,130.56L808.6,130.56L808.7,130.56L808.8,130.55L808.9,130.55L809,130.55L809.1,130.55L809.2,130.55L809.3,130.54L809.4,130.54L809.5,130.54L826.6,130.5L826.6,130.50Z" fill="#50C7E2" stroke="#000" stroke-width="1.35" stroke-linejoin="round"/>
<rect x="666.4" y="9.3" width="160.20" height="242.40" fill="none" stroke="#000" stroke-width="0.95"/>
<path d="M706.45,9.3v3M706.45,251.7v-3M746.50,9.3v3M746.50,251.7v-3M786.55,9.3v3M786.55,251.7v-3M686.42,9.3v1.8M686.42,251.7v-1.8M726.48,9.3v1.8M726.48,251.7v-1.8M766.52,9.3v1.8M766.52,251.7v-1.8M806.58,9.3v1.8M806.58,251.7v-1.8M666.4,231.50h1.8M826.6,231.50h-1.8M666.4,211.30h3M826.6,211.30h-3M666.4,191.10h1.8M826.6,191.10h-1.8M666.4,170.90h3M826.6,170.90h-3M666.4,150.70h1.8M826.6,150.70h-1.8M666.4,130.50h3M826.6,130.50h-3M666.4,110.30h1.8M826.6,110.30h-1.8M666.4,90.10h3M826.6,90.10h-3M666.4,69.90h1.8M826.6,69.90h-1.8M666.4,49.70h3M826.6,49.70h-3M666.4,29.50h1.8M826.6,29.50h-1.8" stroke="#000" stroke-width="0.95" fill="none"/>
<text x="663.8" y="14.1" font-family="'Liberation Serif',serif" font-size="21.2" text-anchor="end" >0.6</text>
<text x="663.8" y="54.5" font-family="'Liberation Serif',serif" font-size="21.2" text-anchor="end" >0.4</text>
<text x="663.8" y="94.9" font-family="'Liberation Serif',serif" font-size="21.2" text-anchor="end" >0.2</text>
<text x="663.8" y="135.3" font-family="'Liberation Serif',serif" font-size="21.2" text-anchor="end" >0.0</text>
<text x="663.8" y="175.7" font-family="'Liberation Serif',serif" font-size="21.2" text-anchor="end" >-0.2</text>
<text x="663.8" y="216.1" font-family="'Liberation Serif',serif" font-size="21.2" text-anchor="end" >-0.4</text>
<text x="663.8" y="256.5" font-family="'Liberation Serif',serif" font-size="21.2" text-anchor="end" >-0.6</text>
<text x="665.7" y="271.6" font-family="'Liberation Serif',serif" font-size="21.4" text-anchor="middle" >-2</text>
<text x="705.8" y="271.6" font-family="'Liberation Serif',serif" font-size="21.4" text-anchor="middle" >-1</text>
<text x="746.5" y="271.6" font-family="'Liberation Serif',serif" font-size="21.4" text-anchor="middle" >0</text>
<text x="786.5" y="271.6" font-family="'Liberation Serif',serif" font-size="21.4" text-anchor="middle" >1</text>
<text x="826.6" y="271.6" font-family="'Liberation Serif',serif" font-size="21.4" text-anchor="middle" >2</text>
<text x="676.6" y="44.2" font-family="'Liberation Sans',sans-serif" font-size="27" text-anchor="start" >(d)</text>
<text x="749" y="38.7" font-family="'Liberation Sans',sans-serif" font-size="26.7" text-anchor="start" >Im(G)</text>
<path d="M795.6,46.7L786.8,76.5" stroke="#000" stroke-width="1.1" fill="none"/>
<path d="M781.1,93.8L782.2,76L790.9,78.8Z" fill="#000"/>
<text x="771.3" y="200" font-family="'Liberation Sans',sans-serif" font-size="27">S<tspan font-size="16.5" dy="10.5" dx="0.3">z</tspan><tspan font-size="16.5" dy="-25.6" dx="-0.9">+</tspan></text>
<path d="M664.7,375.12L664.7,375.14L664.9,375.16L664.95,375.17L665,375.18L665.05,375.19L665.1,375.21L665.15,375.24L665.2,375.28L665.25,375.33L665.3,375.38L665.35,375.4L665.35,375.4L665.4,375.38L665.45,375.34L665.5,375.29L665.55,375.25L665.6,375.22L665.65,375.2L665.7,375.19L665.75,375.18L665.8,375.17L665.85,375.16L673.3,375.16L673.35,375.17L673.4,375.17L673.45,375.18L673.5,375.19L673.55,375.2L673.6,375.21L673.65,375.22L673.7,375.24L673.75,375.26L673.8,375.29L673.85,375.32L673.9,375.37L673.95,375.43L674,375.51L674.05,375.61L674.1,375.76L674.15,375.93L674.2,376.1L674.25,376.22L674.27,376.23L674.3,376.22L674.35,376.1L674.4,375.94L674.45,375.78L674.5,375.64L674.55,375.53L674.6,375.45L674.65,375.39L674.7,375.35L674.75,375.31L674.8,375.28L674.85,375.26L674.9,375.24L674.95,375.23L675,375.22L675.05,375.21L675.1,375.2L675.15,375.19L675.2,375.18L675.25,375.18L675.3,375.17L675.35,375.17L675.4,375.17L675.45,375.16L681.25,375.16L681.3,375.17L681.35,375.17L681.4,375.17L681.45,375.18L681.5,375.18L681.55,375.18L681.6,375.19L681.65,375.19L681.7,375.2L681.75,375.21L681.8,375.21L681.85,375.22L681.9,375.23L681.95,375.24L682,375.25L682.05,375.26L682.1,375.28L682.15,375.29L682.2,375.31L682.25,375.34L682.3,375.36L682.35,375.39L682.4,375.43L682.45,375.47L682.5,375.52L682.55,375.58L682.6,375.66L682.65,375.75L682.7,375.87L682.75,376.02L682.8,376.21L682.85,376.45L682.9,376.77L682.95,377.17L683,377.68L683.05,378.27L683.1,378.88L683.15,379.36L683.19,379.53L683.2,379.53L683.25,379.32L683.3,378.84L683.35,378.25L683.4,377.7L683.45,377.22L683.5,376.84L683.55,376.54L683.6,376.31L683.65,376.12L683.7,375.98L683.75,375.86L683.8,375.76L683.85,375.68L683.9,375.62L683.95,375.56L684,375.52L684.05,375.48L684.1,375.44L684.15,375.41L684.2,375.39L684.25,375.37L684.3,375.35L684.35,375.33L684.4,375.32L684.45,375.3L684.5,375.29L684.55,375.28L684.6,375.27L684.65,375.26L684.7,375.25L684.75,375.24L684.8,375.24L684.85,375.23L684.9,375.22L684.95,375.22L685,375.21L685.05,375.21L685.1,375.21L685.15,375.2L685.2,375.2L685.25,375.19L685.3,375.19L685.35,375.19L685.4,375.19L685.45,375.18L685.5,375.18L685.55,375.18L685.6,375.18L685.65,375.17L685.7,375.17L685.75,375.17L685.8,375.17L685.85,375.17L685.9,375.16L688.8,375.16L688.85,375.17L688.9,375.17L688.95,375.17L689,375.17L689.05,375.17L689.1,375.18L689.15,375.18L689.2,375.18L689.25,375.19L689.3,375.19L689.35,375.19L689.4,375.2L689.45,375.2L689.5,375.21L689.55,375.21L689.6,375.22L689.65,375.22L689.7,375.23L689.75,375.24L689.8,375.24L689.85,375.25L689.9,375.26L689.95,375.27L690,375.28L690.05,375.29L690.1,375.3L690.15,375.31L690.2,375.33L690.25,375.34L690.3,375.36L690.35,375.37L690.4,375.39L690.45,375.41L690.5,375.44L690.55,375.46L690.6,375.49L690.65,375.52L690.7,375.56L690.75,375.59L690.8,375.64L690.85,375.69L690.9,375.74L690.95,375.8L691,375.87L691.05,375.95L691.1,376.04L691.15,376.14L691.2,376.27L691.25,376.41L691.3,376.57L691.35,376.76L691.4,377L691.45,377.27L691.5,377.6L691.55,378.01L691.6,378.5L691.65,379.12L691.7,379.87L691.75,380.82L691.8,381.98L691.85,383.42L691.9,385.12L691.95,387.04L692,388.98L692.05,390.6L692.1,391.49L692.11,391.56L692.15,391.37L692.2,390.3L692.25,388.65L692.3,386.8L692.35,385.03L692.4,383.47L692.45,382.16L692.5,381.08L692.55,380.21L692.6,379.49L692.65,378.9L692.7,378.42L692.75,378.02L692.8,377.69L692.85,377.41L692.9,377.17L692.95,376.96L693,376.79L693.05,376.63L693.1,376.5L693.15,376.39L693.2,376.28L693.25,376.19L693.3,376.11L693.35,376.04L693.4,375.97L693.45,375.92L693.5,375.86L693.55,375.82L693.6,375.77L693.65,375.73L693.7,375.7L693.75,375.66L693.8,375.63L693.85,375.6L693.9,375.58L693.95,375.55L694,375.53L694.05,375.51L694.1,375.49L694.15,375.47L694.2,375.46L694.25,375.44L694.3,375.42L694.35,375.41L694.4,375.4L694.45,375.38L694.5,375.37L694.55,375.36L694.6,375.35L694.65,375.34L694.7,375.33L694.75,375.32L694.8,375.32L694.85,375.31L694.9,375.3L694.95,375.29L695,375.29L695.05,375.28L695.1,375.27L695.15,375.27L695.2,375.26L695.25,375.26L695.3,375.25L695.35,375.25L695.4,375.24L695.45,375.24L695.5,375.24L695.55,375.23L695.6,375.23L695.65,375.23L695.7,375.22L695.75,375.22L695.8,375.22L695.85,375.22L695.9,375.21L695.95,375.21L696,375.21L696.05,375.21L696.1,375.21L696.15,375.21L696.2,375.2L696.25,375.2L696.3,375.2L696.35,375.2L696.4,375.2L696.45,375.2L696.5,375.2L696.55,375.2L696.6,375.2L696.65,375.2L696.7,375.21L696.75,375.21L696.8,375.21L696.85,375.21L696.9,375.21L696.95,375.21L697,375.22L697.05,375.22L697.1,375.22L697.15,375.23L697.2,375.23L697.25,375.24L697.3,375.24L697.35,375.24L697.4,375.25L697.45,375.26L697.5,375.26L697.55,375.27L697.6,375.28L697.65,375.28L697.7,375.29L697.75,375.3L697.8,375.31L697.85,375.32L697.9,375.33L697.95,375.34L698,375.36L698.05,375.37L698.1,375.38L698.15,375.4L698.2,375.41L698.25,375.43L698.3,375.45L698.35,375.47L698.4,375.49L698.45,375.51L698.5,375.54L698.55,375.56L698.6,375.59L698.65,375.62L698.7,375.66L698.75,375.69L698.8,375.73L698.85,375.77L698.9,375.81L698.95,375.86L699,375.91L699.05,375.97L699.1,376.03L699.15,376.09L699.2,376.16L699.25,376.24L699.3,376.32L699.35,376.42L699.4,376.52L699.45,376.63L699.5,376.75L699.55,376.89L699.6,377.04L699.65,377.2L699.7,377.39L699.75,377.59L699.8,377.82L699.85,378.08L699.9,378.37L699.95,378.7L700,379.08L700.05,379.51L700.1,380L700.15,380.56L700.2,381.22L700.25,381.98L700.3,382.87L700.35,383.91L700.4,385.15L700.45,386.61L700.5,388.36L700.55,390.44L700.6,392.94L700.65,395.91L700.7,399.42L700.75,403.49L700.8,408.06L700.85,412.95L700.9,417.74L700.95,421.81L701,424.45L701.03,425.14L701.05,425.12L701.1,423.7L701.15,420.55L701.2,416.34L701.25,411.74L701.3,407.22L701.35,403.07L701.4,399.41L701.45,396.25L701.5,393.56L701.55,391.28L701.6,389.35L701.65,387.71L701.7,386.32L701.75,385.13L701.8,384.11L701.85,383.23L701.9,382.47L701.95,381.8L702,381.22L702.05,380.7L702.1,380.25L702.15,379.85L702.2,379.49L702.25,379.17L702.3,378.88L702.35,378.62L702.4,378.38L702.45,378.16L702.5,377.97L702.55,377.79L702.6,377.63L702.65,377.48L702.7,377.34L702.75,377.21L702.8,377.1L702.85,376.99L702.9,376.89L702.95,376.79L703,376.71L703.05,376.63L703.1,376.55L703.15,376.48L703.2,376.41L703.25,376.35L703.3,376.29L703.35,376.24L703.4,376.18L703.45,376.14L703.5,376.09L703.55,376.05L703.6,376.01L703.65,375.97L703.7,375.93L703.75,375.9L703.8,375.86L703.85,375.83L703.9,375.8L703.95,375.78L704,375.75L704.05,375.73L704.1,375.7L704.15,375.68L704.2,375.66L704.25,375.64L704.3,375.62L704.35,375.6L704.4,375.59L704.45,375.57L704.5,375.56L704.55,375.54L704.6,375.53L704.65,375.52L704.7,375.51L704.75,375.5L704.8,375.49L704.85,375.48L704.9,375.47L704.95,375.47L705,375.46L705.05,375.45L705.1,375.45L705.15,375.45L705.2,375.44L705.25,375.44L705.3,375.44L705.35,375.44L705.4,375.44L705.45,375.44L705.5,375.44L705.55,375.45L705.6,375.45L705.65,375.46L705.7,375.46L705.75,375.47L705.8,375.48L705.85,375.49L705.9,375.5L705.95,375.51L706,375.52L706.05,375.53L706.1,375.55L706.15,375.56L706.2,375.58L706.25,375.6L706.3,375.62L706.35,375.64L706.4,375.66L706.45,375.68L706.5,375.71L706.55,375.74L706.6,375.77L706.65,375.8L706.7,375.84L706.75,375.87L706.8,375.91L706.85,375.95L706.9,376L706.95,376.04L707,376.1L707.05,376.15L707.1,376.21L707.15,376.27L707.2,376.33L707.25,376.4L707.3,376.48L707.35,376.56L707.4,376.64L707.45,376.73L707.5,376.83L707.55,376.93L707.6,377.04L707.65,377.16L707.7,377.29L707.75,377.43L707.8,377.58L707.85,377.73L707.9,377.91L707.95,378.09L708,378.29L708.05,378.5L708.1,378.74L708.15,378.99L708.2,379.27L708.25,379.57L708.3,379.89L708.35,380.25L708.4,380.64L708.45,381.07L708.5,381.54L708.55,382.06L708.6,382.63L708.65,383.27L708.7,383.97L708.75,384.75L708.8,385.63L708.85,386.6L708.9,387.7L708.95,388.94L709,390.33L709.05,391.92L709.1,393.71L709.15,395.76L709.2,398.11L709.25,400.79L709.3,403.87L709.35,407.41L709.4,411.46L709.45,416.11L709.5,421.4L709.55,427.37L709.6,434.01L709.65,441.24L709.7,448.84L709.75,456.47L709.8,463.61L709.85,469.6L709.9,473.77L709.95,475.59L709.96,475.63L710,474.84L710.05,471.66L710.1,466.54L710.15,460.1L710.2,453L710.25,445.77L710.3,438.79L710.35,432.27L710.4,426.34L710.45,421.02L710.5,416.31L710.55,412.14L710.6,408.49L710.65,405.27L710.7,402.45L710.75,399.96L710.8,397.77L710.85,395.83L710.9,394.11L710.95,392.58L711,391.21L711.05,389.99L711.1,388.89L711.15,387.9L711.2,387.01L711.25,386.21L711.3,385.47L711.35,384.81L711.4,384.2L711.45,383.64L711.5,383.13L711.55,382.66L711.6,382.23L711.65,381.83L711.7,381.46L711.75,381.12L711.8,380.8L711.85,380.51L711.9,380.24L711.95,379.98L712,379.74L712.05,379.52L712.1,379.31L712.15,379.12L712.2,378.94L712.25,378.77L712.3,378.61L712.35,378.46L712.4,378.31L712.45,378.18L712.5,378.05L712.55,377.94L712.6,377.82L712.65,377.72L712.7,377.62L712.75,377.53L712.8,377.44L712.85,377.35L712.9,377.28L712.95,377.2L713,377.13L713.05,377.07L713.1,377L713.15,376.95L713.2,376.89L713.25,376.84L713.3,376.79L713.35,376.75L713.4,376.71L713.45,376.67L713.5,376.63L713.55,376.6L713.6,376.57L713.65,376.54L713.7,376.52L713.75,376.49L713.8,376.47L713.85,376.45L713.9,376.44L713.95,376.43L714,376.41L714.05,376.41L714.1,376.4L714.15,376.4L714.2,376.4L714.25,376.4L714.3,376.4L714.35,376.4L714.4,376.41L714.45,376.42L714.5,376.44L714.55,376.45L714.6,376.47L714.65,376.49L714.7,376.51L714.75,376.54L714.8,376.57L714.85,376.6L714.9,376.64L714.95,376.67L715,376.72L715.05,376.76L715.1,376.81L715.15,376.86L715.2,376.92L715.25,376.98L715.3,377.04L715.35,377.11L715.4,377.18L715.45,377.26L715.5,377.34L715.55,377.43L715.6,377.52L715.65,377.62L715.7,377.72L715.75,377.83L715.8,377.95L715.85,378.08L715.9,378.21L715.95,378.35L716,378.5L716.05,378.66L716.1,378.83L716.15,379.01L716.2,379.2L716.25,379.4L716.3,379.62L716.35,379.85L716.4,380.09L716.45,380.35L716.5,380.63L716.55,380.93L716.6,381.24L716.65,381.58L716.7,381.94L716.75,382.33L716.8,382.75L716.85,383.19L716.9,383.67L716.95,384.19L717,384.74L717.05,385.34L717.1,385.99L717.15,386.68L717.2,387.44L717.25,388.25L717.3,389.14L717.35,390.11L717.4,391.15L717.45,392.3L717.5,393.55L717.55,394.91L717.6,396.41L717.65,398.05L717.7,399.85L717.75,401.83L717.8,404.01L717.85,406.42L717.9,409.08L717.95,412.02L718,415.28L718.05,418.87L718.1,422.84L718.15,427.22L718.2,432.03L718.25,437.32L718.3,443.07L718.35,449.3L718.4,455.98L718.45,463.03L718.5,470.34L718.55,477.75L718.6,485.02L718.65,491.88L718.7,497.98L718.75,502.98L718.8,506.57L718.85,508.5L718.88,508.81L718.9,508.66L718.95,507.05L719,503.83L719.05,499.24L719.1,493.61L719.15,487.25L719.2,480.49L719.25,473.6L719.3,466.76L719.35,460.16L719.4,453.87L719.45,447.97L719.5,442.49L719.55,437.43L719.6,432.78L719.65,428.53L719.7,424.65L719.75,421.11L719.8,417.89L719.85,414.95L719.9,412.27L719.95,409.83L720,407.59L720.05,405.56L720.1,403.69L720.15,401.98L720.2,400.41L720.25,398.97L720.3,397.64L720.35,396.41L720.4,395.28L720.45,394.24L720.5,393.27L720.55,392.37L720.6,391.54L720.65,390.76L720.7,390.04L720.75,389.37L720.8,388.74L720.85,388.16L720.9,387.61L720.95,387.1L721,386.62L721.05,386.17L721.1,385.75L721.15,385.36L721.2,384.99L721.25,384.64L721.3,384.31L721.35,384L721.4,383.71L721.45,383.44L721.5,383.18L721.55,382.94L721.6,382.71L721.65,382.5L721.7,382.3L721.75,382.11L721.8,381.93L721.85,381.77L721.9,381.61L721.95,381.46L722,381.32L722.05,381.2L722.1,381.08L722.15,380.96L722.2,380.86L722.25,380.76L722.3,380.68L722.35,380.59L722.4,380.52L722.45,380.45L722.5,380.39L722.55,380.33L722.6,380.28L722.65,380.24L722.7,380.21L722.75,380.17L722.8,380.15L722.85,380.13L722.9,380.12L722.95,380.11L723,380.11L723.05,380.11L723.1,380.12L723.15,380.13L723.2,380.15L723.25,380.18L723.3,380.21L723.35,380.25L723.4,380.29L723.45,380.34L723.5,380.39L723.55,380.46L723.6,380.52L723.65,380.6L723.7,380.68L723.75,380.77L723.8,380.86L723.85,380.96L723.9,381.07L723.95,381.19L724,381.32L724.05,381.45L724.1,381.59L724.15,381.74L724.2,381.9L724.25,382.07L724.3,382.25L724.35,382.44L724.4,382.65L724.45,382.86L724.5,383.09L724.55,383.32L724.6,383.58L724.65,383.84L724.7,384.12L724.75,384.42L724.8,384.73L724.85,385.06L724.9,385.41L724.95,385.78L725,386.17L725.05,386.58L725.1,387.02L725.15,387.48L725.2,387.97L725.25,388.48L725.3,389.03L725.35,389.6L725.4,390.21L725.45,390.86L725.5,391.55L725.55,392.28L725.6,393.05L725.65,393.87L725.7,394.74L725.75,395.67L725.8,396.66L725.85,397.71L725.9,398.83L725.95,400.02L726,401.29L726.05,402.65L726.1,404.1L726.15,405.65L726.2,407.3L726.25,409.07L726.3,410.96L726.35,412.98L726.4,415.15L726.45,417.47L726.5,419.95L726.55,422.6L726.6,425.44L726.65,428.47L726.7,431.71L726.75,435.16L726.8,438.83L726.85,442.73L726.9,446.87L726.95,451.23L727,455.82L727.05,460.63L727.1,465.62L727.15,470.78L727.2,476.07L727.25,481.43L727.3,486.79L727.35,492.09L727.4,497.23L727.45,502.11L727.5,506.62L727.55,510.66L727.6,514.13L727.65,516.92L727.7,518.96L727.75,520.2L727.8,520.6L727.8,520.6L727.85,520.17L727.9,518.93L727.95,516.94L728,514.28L728.05,511.02L728.1,507.28L728.15,503.15L728.2,498.74L728.25,494.13L728.3,489.42L728.35,484.66L728.4,479.93L728.45,475.27L728.5,470.73L728.55,466.33L728.6,462.09L728.65,458.04L728.7,454.17L728.75,450.49L728.8,447L728.85,443.7L728.9,440.58L728.95,437.64L729,434.88L729.05,432.27L729.1,429.82L729.15,427.52L729.2,425.36L729.25,423.32L729.3,421.41L729.35,419.61L729.4,417.92L729.45,416.33L729.5,414.84L729.55,413.43L729.6,412.11L729.65,410.86L729.7,409.69L729.75,408.59L729.8,407.55L729.85,406.57L729.9,405.64L729.95,404.77L730,403.95L730.05,403.18L730.1,402.45L730.15,401.76L730.2,401.11L730.25,400.5L730.3,399.92L730.35,399.38L730.4,398.86L730.45,398.38L730.5,397.93L730.55,397.5L730.6,397.1L730.65,396.72L730.7,396.37L730.75,396.03L730.8,395.72L730.85,395.43L730.9,395.16L730.95,394.91L731,394.68L731.05,394.46L731.1,394.27L731.15,394.08L731.2,393.92L731.25,393.77L731.3,393.63L731.35,393.51L731.4,393.41L731.45,393.31L731.5,393.24L731.55,393.17L731.6,393.12L731.65,393.08L731.7,393.06L731.75,393.04L731.8,393.04L731.85,393.06L731.9,393.08L731.95,393.12L732,393.17L732.05,393.23L732.1,393.31L732.15,393.4L732.2,393.5L732.25,393.61L732.3,393.74L732.35,393.88L732.4,394.03L732.45,394.2L732.5,394.38L732.55,394.58L732.6,394.78L732.65,395.01L732.7,395.25L732.75,395.5L732.8,395.77L732.85,396.06L732.9,396.36L732.95,396.68L733,397.02L733.05,397.37L733.1,397.74L733.15,398.14L733.2,398.55L733.25,398.99L733.3,399.44L733.35,399.92L733.4,400.42L733.45,400.95L733.5,401.5L733.55,402.08L733.6,402.68L733.65,403.31L733.7,403.98L733.75,404.67L733.8,405.39L733.85,406.15L733.9,406.95L733.95,407.78L734,408.65L734.05,409.56L734.1,410.51L734.15,411.5L734.2,412.54L734.25,413.63L734.3,414.77L734.35,415.96L734.4,417.2L734.45,418.5L734.5,419.86L734.55,421.28L734.6,422.77L734.65,424.32L734.7,425.95L734.75,427.64L734.8,429.41L734.85,431.26L734.9,433.19L734.95,435.2L735,437.3L735.05,439.48L735.1,441.75L735.15,444.11L735.2,446.57L735.25,449.11L735.3,451.75L735.35,454.48L735.4,457.3L735.45,460.2L735.5,463.19L735.55,466.25L735.6,469.39L735.65,472.59L735.7,475.85L735.75,479.15L735.8,482.47L735.85,485.81L735.9,489.15L735.95,492.47L736,495.74L736.05,498.95L736.1,502.07L736.15,505.07L736.2,507.93L736.25,510.63L736.3,513.13L736.35,515.42L736.4,517.46L736.45,519.25L736.5,520.75L736.55,521.96L736.6,522.87L736.65,523.46L736.7,523.74L736.72,523.76L736.75,523.7L736.8,523.36L736.85,522.72L736.9,521.79L736.95,520.59L737,519.14L737.05,517.46L737.1,515.58L737.15,513.52L737.2,511.29L737.25,508.93L737.3,506.46L737.35,503.9L737.4,501.28L737.45,498.6L737.5,495.89L737.55,493.17L737.6,490.45L737.65,487.74L737.7,485.05L737.75,482.41L737.8,479.8L737.85,477.25L737.9,474.75L737.95,472.31L738,469.94L738.05,467.63L738.1,465.39L738.15,463.23L738.2,461.13L738.25,459.11L738.3,457.16L738.35,455.28L738.4,453.47L738.45,451.73L738.5,450.05L738.55,448.44L738.6,446.9L738.65,445.42L738.7,444L738.75,442.64L738.8,441.34L738.85,440.09L738.9,438.9L738.95,437.76L739,436.67L739.05,435.62L739.1,434.63L739.15,433.68L739.2,432.77L739.25,431.91L739.3,431.09L739.35,430.3L739.4,429.56L739.45,428.85L739.5,428.18L739.55,427.54L739.6,426.93L739.65,426.36L739.7,425.81L739.75,425.3L739.8,424.82L739.85,424.36L739.9,423.94L739.95,423.53L740,423.16L740.05,422.81L740.1,422.48L740.15,422.18L740.2,421.91L740.25,421.65L740.3,421.42L740.35,421.21L740.4,421.02L740.45,420.85L740.5,420.71L740.55,420.58L740.6,420.47L740.65,420.39L740.7,420.32L740.75,420.27L740.8,420.24L740.85,420.23L740.9,420.24L740.95,420.27L741,420.32L741.05,420.38L741.1,420.47L741.15,420.57L741.2,420.69L741.25,420.83L741.3,420.99L741.35,421.17L741.4,421.36L741.45,421.58L741.5,421.81L741.55,422.07L741.6,422.34L741.65,422.63L741.7,422.95L741.75,423.28L741.8,423.64L741.85,424.01L741.9,424.41L741.95,424.83L742,425.27L742.05,425.74L742.1,426.22L742.15,426.73L742.2,427.27L742.25,427.83L742.3,428.41L742.35,429.02L742.4,429.66L742.45,430.33L742.5,431.02L742.55,431.74L742.6,432.49L742.65,433.27L742.7,434.08L742.75,434.93L742.8,435.8L742.85,436.71L742.9,437.66L742.95,438.64L743,439.65L743.05,440.7L743.1,441.79L743.15,442.92L743.2,444.09L743.25,445.3L743.3,446.55L743.35,447.85L743.4,449.18L743.45,450.56L743.5,451.99L743.55,453.46L743.6,454.98L743.65,456.54L743.7,458.15L743.75,459.81L743.8,461.51L743.85,463.26L743.9,465.06L743.95,466.9L744,468.79L744.05,470.72L744.1,472.69L744.15,474.71L744.2,476.76L744.25,478.85L744.3,480.97L744.35,483.11L744.4,485.29L744.45,487.48L744.5,489.69L744.55,491.9L744.6,494.12L744.65,496.33L744.7,498.52L744.75,500.7L744.8,502.84L744.85,504.94L744.9,506.99L744.95,508.98L745,510.89L745.05,512.72L745.1,514.45L745.15,516.08L745.2,517.59L745.25,518.97L745.3,520.21L745.35,521.3L745.4,522.23L745.45,523L745.5,523.59L745.55,524.01L745.6,524.24L745.64,524.3L745.65,524.29L745.7,524.16L745.75,523.84L745.8,523.33L745.85,522.65L745.9,521.79L745.95,520.77L746,519.58L746.05,518.24L746.1,516.76L746.15,515.15L746.2,513.41L746.25,511.57L746.3,509.63L746.35,507.6L746.4,505.49L746.45,503.32L746.5,501.1L746.55,498.84L746.6,496.54L746.65,494.22L746.7,491.89L746.75,489.55L746.8,487.21L746.85,484.89L746.9,482.58L746.95,480.29L747,478.02L747.05,475.79L747.1,473.6L747.15,471.44L747.2,469.32L747.25,467.25L747.3,465.22L747.35,463.23L747.4,461.3L747.45,459.42L747.5,457.58L747.55,455.79L747.6,454.06L747.65,452.37L747.7,450.74L747.75,449.15L747.8,447.61L747.85,446.12L747.9,444.68L747.95,443.28L748,441.93L748.05,440.62L748.1,439.36L748.15,438.14L748.2,436.96L748.25,435.83L748.3,434.73L748.35,433.67L748.4,432.65L748.45,431.66L748.5,430.71L748.55,429.8L748.6,428.92L748.65,428.07L748.7,427.25L748.75,426.47L748.8,425.72L748.85,424.99L748.9,424.29L748.95,423.63L749,422.98L749.05,422.37L749.1,421.78L749.15,421.22L749.2,420.68L749.25,420.16L749.3,419.67L749.35,419.2L749.4,418.76L749.45,418.33L749.5,417.93L749.55,417.55L749.6,417.19L749.65,416.84L749.7,416.52L749.75,416.22L749.8,415.94L749.85,415.68L749.9,415.44L749.95,415.21L750,415.01L750.05,414.82L750.1,414.65L750.15,414.5L750.2,414.37L750.25,414.25L750.3,414.16L750.35,414.08L750.4,414.02L750.45,413.98L750.5,413.96L750.55,413.95L750.6,413.97L750.65,414L750.7,414.05L750.75,414.12L750.8,414.21L750.85,414.32L750.9,414.45L750.95,414.6L751,414.77L751.05,414.96L751.1,415.18L751.15,415.41L751.2,415.67L751.25,415.95L751.3,416.26L751.35,416.59L751.4,416.95L751.45,417.33L751.5,417.74L751.55,418.17L751.6,418.64L751.65,419.13L751.7,419.66L751.75,420.21L751.8,420.8L751.85,421.43L751.9,422.09L751.95,422.78L752,423.52L752.05,424.29L752.1,425.11L752.15,425.97L752.2,426.87L752.25,427.82L752.3,428.82L752.35,429.87L752.4,430.98L752.45,432.14L752.5,433.35L752.55,434.63L752.6,435.97L752.65,437.37L752.7,438.84L752.75,440.38L752.8,442L752.85,443.68L752.9,445.45L752.95,447.3L753,449.22L753.05,451.24L753.1,453.34L753.15,455.52L753.2,457.8L753.25,460.16L753.3,462.62L753.35,465.16L753.4,467.79L753.45,470.5L753.5,473.3L753.55,476.17L753.6,479.11L753.65,482.11L753.7,485.16L753.75,488.24L753.8,491.35L753.85,494.46L753.9,497.55L753.95,500.6L754,503.59L754.05,506.48L754.1,509.25L754.15,511.87L754.2,514.3L754.25,516.5L754.3,518.45L754.35,520.12L754.4,521.46L754.45,522.47L754.5,523.11L754.55,523.37L754.56,523.37L754.6,523.24L754.65,522.7L754.7,521.78L754.75,520.47L754.8,518.78L754.85,516.75L754.9,514.39L754.95,511.73L755,508.82L755.05,505.68L755.1,502.34L755.15,498.86L755.2,495.26L755.25,491.57L755.3,487.83L755.35,484.07L755.4,480.31L755.45,476.58L755.5,472.89L755.55,469.26L755.6,465.71L755.65,462.25L755.7,458.89L755.75,455.63L755.8,452.48L755.85,449.44L755.9,446.52L755.95,443.71L756,441.01L756.05,438.43L756.1,435.96L756.15,433.6L756.2,431.34L756.25,429.19L756.3,427.14L756.35,425.18L756.4,423.31L756.45,421.53L756.5,419.84L756.55,418.22L756.6,416.69L756.65,415.22L756.7,413.83L756.75,412.5L756.8,411.24L756.85,410.03L756.9,408.88L756.95,407.79L757,406.75L757.05,405.76L757.1,404.81L757.15,403.91L757.2,403.06L757.25,402.24L757.3,401.46L757.35,400.72L757.4,400.01L757.45,399.34L757.5,398.69L757.55,398.08L757.6,397.5L757.65,396.94L757.7,396.41L757.75,395.9L757.8,395.42L757.85,394.96L757.9,394.52L757.95,394.11L758,393.71L758.05,393.34L758.1,392.98L758.15,392.64L758.2,392.32L758.25,392.01L758.3,391.72L758.35,391.45L758.4,391.19L758.45,390.95L758.5,390.71L758.55,390.5L758.6,390.29L758.65,390.1L758.7,389.93L758.75,389.76L758.8,389.61L758.85,389.47L758.9,389.34L758.95,389.22L759,389.11L759.05,389.01L759.1,388.93L759.15,388.85L759.2,388.79L759.25,388.74L759.3,388.7L759.35,388.66L759.4,388.64L759.45,388.63L759.5,388.63L759.55,388.64L759.6,388.66L759.65,388.69L759.7,388.74L759.75,388.79L759.8,388.86L759.85,388.93L759.9,389.02L759.95,389.12L760,389.24L760.05,389.36L760.1,389.5L760.15,389.65L760.2,389.82L760.25,390L760.3,390.19L760.35,390.4L760.4,390.63L760.45,390.87L760.5,391.13L760.55,391.41L760.6,391.7L760.65,392.02L760.7,392.36L760.75,392.71L760.8,393.1L760.85,393.5L760.9,393.93L760.95,394.39L761,394.88L761.05,395.39L761.1,395.94L761.15,396.52L761.2,397.14L761.25,397.79L761.3,398.49L761.35,399.23L761.4,400.02L761.45,400.85L761.5,401.74L761.55,402.69L761.6,403.7L761.65,404.77L761.7,405.91L761.75,407.13L761.8,408.43L761.85,409.82L761.9,411.3L761.95,412.88L762,414.58L762.05,416.39L762.1,418.32L762.15,420.4L762.2,422.61L762.25,424.99L762.3,427.53L762.35,430.26L762.4,433.17L762.45,436.29L762.5,439.62L762.55,443.17L762.6,446.95L762.65,450.97L762.7,455.22L762.75,459.71L762.8,464.41L762.85,469.33L762.9,474.41L762.95,479.63L763,484.92L763.05,490.21L763.1,495.4L763.15,500.39L763.2,505.06L763.25,509.27L763.3,512.88L763.35,515.75L763.4,517.77L763.45,518.85L763.48,519.01L763.5,518.91L763.55,517.95L763.6,515.98L763.65,513.08L763.7,509.35L763.75,504.9L763.8,499.89L763.85,494.46L763.9,488.75L763.95,482.9L764,477.01L764.05,471.19L764.1,465.49L764.15,460L764.2,454.73L764.25,449.72L764.3,444.99L764.35,440.54L764.4,436.37L764.45,432.47L764.5,428.83L764.55,425.45L764.6,422.31L764.65,419.39L764.7,416.68L764.75,414.16L764.8,411.83L764.85,409.66L764.9,407.65L764.95,405.78L765,404.04L765.05,402.43L765.1,400.93L765.15,399.53L765.2,398.22L765.25,397.01L765.3,395.87L765.35,394.81L765.4,393.82L765.45,392.89L765.5,392.03L765.55,391.21L765.6,390.45L765.65,389.73L765.7,389.06L765.75,388.43L765.8,387.84L765.85,387.28L765.9,386.75L765.95,386.26L766,385.79L766.05,385.35L766.1,384.93L766.15,384.54L766.2,384.17L766.25,383.82L766.3,383.49L766.35,383.18L766.4,382.88L766.45,382.6L766.5,382.34L766.55,382.09L766.6,381.85L766.65,381.63L766.7,381.42L766.75,381.22L766.8,381.03L766.85,380.85L766.9,380.69L766.95,380.53L767,380.38L767.05,380.24L767.1,380.1L767.15,379.98L767.2,379.86L767.25,379.75L767.3,379.65L767.35,379.55L767.4,379.46L767.45,379.38L767.5,379.3L767.55,379.23L767.6,379.16L767.65,379.1L767.7,379.04L767.75,378.99L767.8,378.95L767.85,378.91L767.9,378.87L767.95,378.84L768,378.82L768.05,378.8L768.1,378.78L768.15,378.77L768.2,378.76L768.25,378.76L768.3,378.77L768.35,378.77L768.4,378.78L768.45,378.8L768.5,378.82L768.55,378.85L768.6,378.88L768.65,378.91L768.7,378.96L768.75,379L768.8,379.05L768.85,379.11L768.9,379.17L768.95,379.24L769,379.31L769.05,379.39L769.1,379.47L769.15,379.57L769.2,379.66L769.25,379.77L769.3,379.88L769.35,380L769.4,380.13L769.45,380.27L769.5,380.41L769.55,380.56L769.6,380.73L769.65,380.9L769.7,381.09L769.75,381.28L769.8,381.49L769.85,381.71L769.9,381.95L769.95,382.2L770,382.47L770.05,382.75L770.1,383.05L770.15,383.37L770.2,383.71L770.25,384.08L770.3,384.47L770.35,384.88L770.4,385.33L770.45,385.81L770.5,386.32L770.55,386.86L770.6,387.45L770.65,388.08L770.7,388.76L770.75,389.49L770.8,390.29L770.85,391.14L770.9,392.07L770.95,393.08L771,394.17L771.05,395.36L771.1,396.66L771.15,398.07L771.2,399.63L771.25,401.33L771.3,403.2L771.35,405.25L771.4,407.52L771.45,410.02L771.5,412.78L771.55,415.84L771.6,419.22L771.65,422.96L771.7,427.1L771.75,431.67L771.8,436.69L771.85,442.2L771.9,448.18L771.95,454.62L772,461.46L772.05,468.58L772.1,475.81L772.15,482.89L772.2,489.5L772.25,495.25L772.3,499.73L772.35,502.56L772.4,503.48L772.4,503.47L772.45,502.36L772.5,499.29L772.55,494.51L772.6,488.38L772.65,481.33L772.7,473.76L772.75,466.05L772.8,458.45L772.85,451.18L772.9,444.36L772.95,438.06L773,432.29L773.05,427.06L773.1,422.34L773.15,418.09L773.2,414.27L773.25,410.85L773.3,407.78L773.35,405.03L773.4,402.55L773.45,400.33L773.5,398.32L773.55,396.51L773.6,394.88L773.65,393.4L773.7,392.06L773.75,390.84L773.8,389.73L773.85,388.71L773.9,387.79L773.95,386.94L774,386.16L774.05,385.45L774.1,384.79L774.15,384.18L774.2,383.62L774.25,383.11L774.3,382.63L774.35,382.19L774.4,381.77L774.45,381.39L774.5,381.04L774.55,380.7L774.6,380.4L774.65,380.11L774.7,379.84L774.75,379.59L774.8,379.35L774.85,379.13L774.9,378.92L774.95,378.73L775,378.55L775.05,378.38L775.1,378.22L775.15,378.07L775.2,377.92L775.25,377.79L775.3,377.67L775.35,377.55L775.4,377.44L775.45,377.33L775.5,377.23L775.55,377.14L775.6,377.05L775.65,376.97L775.7,376.9L775.75,376.82L775.8,376.76L775.85,376.69L775.9,376.63L775.95,376.58L776,376.52L776.05,376.47L776.1,376.43L776.15,376.39L776.2,376.35L776.25,376.31L776.3,376.28L776.35,376.24L776.4,376.22L776.45,376.19L776.5,376.17L776.55,376.14L776.6,376.12L776.65,376.11L776.7,376.09L776.75,376.08L776.8,376.07L776.85,376.06L776.9,376.05L776.95,376.05L777,376.05L777.05,376.04L777.1,376.05L777.15,376.05L777.2,376.05L777.25,376.06L777.3,376.07L777.35,376.08L777.4,376.09L777.45,376.1L777.5,376.12L777.55,376.14L777.6,376.16L777.65,376.18L777.7,376.2L777.75,376.23L777.8,376.26L777.85,376.29L777.9,376.32L777.95,376.36L778,376.39L778.05,376.43L778.1,376.48L778.15,376.52L778.2,376.57L778.25,376.62L778.3,376.68L778.35,376.73L778.4,376.79L778.45,376.86L778.5,376.93L778.55,377L778.6,377.08L778.65,377.16L778.7,377.25L778.75,377.34L778.8,377.44L778.85,377.54L778.9,377.65L778.95,377.77L779,377.89L779.05,378.02L779.1,378.16L779.15,378.31L779.2,378.47L779.25,378.64L779.3,378.83L779.35,379.02L779.4,379.23L779.45,379.46L779.5,379.7L779.55,379.96L779.6,380.24L779.65,380.55L779.7,380.88L779.75,381.24L779.8,381.63L779.85,382.05L779.9,382.52L779.95,383.03L780,383.59L780.05,384.2L780.1,384.89L780.15,385.64L780.2,386.48L780.25,387.41L780.3,388.46L780.35,389.63L780.4,390.95L780.45,392.45L780.5,394.14L780.55,396.07L780.6,398.27L780.65,400.78L780.7,403.67L780.75,406.99L780.8,410.79L780.85,415.14L780.9,420.1L780.95,425.67L781,431.84L781.05,438.47L781.1,445.32L781.15,451.95L781.2,457.76L781.25,462.05L781.3,464.16L781.32,464.3L781.35,463.73L781.4,460.76L781.45,455.7L781.5,449.23L781.55,442.08L781.6,434.85L781.65,427.96L781.7,421.64L781.75,416L781.8,411.04L781.85,406.73L781.9,403L781.95,399.78L782,397L782.05,394.6L782.1,392.52L782.15,390.71L782.2,389.14L782.25,387.77L782.3,386.56L782.35,385.5L782.4,384.56L782.45,383.73L782.5,382.99L782.55,382.33L782.6,381.74L782.65,381.21L782.7,380.73L782.75,380.3L782.8,379.91L782.85,379.55L782.9,379.23L782.95,378.94L783,378.67L783.05,378.43L783.1,378.2L783.15,377.99L783.2,377.8L783.25,377.63L783.3,377.47L783.35,377.32L783.4,377.18L783.45,377.05L783.5,376.93L783.55,376.82L783.6,376.72L783.65,376.62L783.7,376.54L783.75,376.45L783.8,376.37L783.85,376.3L783.9,376.24L783.95,376.17L784,376.11L784.05,376.06L784.1,376.01L784.15,375.96L784.2,375.91L784.25,375.87L784.3,375.83L784.35,375.79L784.4,375.76L784.45,375.72L784.5,375.69L784.55,375.66L784.6,375.64L784.65,375.61L784.7,375.59L784.75,375.57L784.8,375.55L784.85,375.53L784.9,375.51L784.95,375.49L785,375.48L785.05,375.46L785.1,375.45L785.15,375.44L785.2,375.43L785.25,375.42L785.3,375.41L785.35,375.4L785.4,375.39L785.45,375.38L785.5,375.38L785.55,375.37L785.6,375.37L785.65,375.36L785.7,375.36L785.75,375.36L785.8,375.36L785.85,375.35L785.9,375.35L785.95,375.35L786,375.35L786.05,375.35L786.1,375.36L786.15,375.36L786.2,375.36L786.25,375.37L786.3,375.37L786.35,375.37L786.4,375.38L786.45,375.39L786.5,375.39L786.55,375.4L786.6,375.41L786.65,375.42L786.7,375.42L786.75,375.43L786.8,375.44L786.85,375.46L786.9,375.47L786.95,375.48L787,375.49L787.05,375.51L787.1,375.52L787.15,375.54L787.2,375.55L787.25,375.57L787.3,375.59L787.35,375.61L787.4,375.63L787.45,375.65L787.5,375.68L787.55,375.7L787.6,375.73L787.65,375.75L787.7,375.78L787.75,375.81L787.8,375.85L787.85,375.88L787.9,375.92L787.95,375.96L788,376L788.05,376.04L788.1,376.09L788.15,376.14L788.2,376.19L788.25,376.25L788.3,376.31L788.35,376.38L788.4,376.45L788.45,376.52L788.5,376.6L788.55,376.69L788.6,376.79L788.65,376.89L788.7,377.01L788.75,377.13L788.8,377.27L788.85,377.41L788.9,377.58L788.95,377.76L789,377.96L789.05,378.18L789.1,378.43L789.15,378.71L789.2,379.02L789.25,379.37L789.3,379.77L789.35,380.23L789.4,380.75L789.45,381.36L789.5,382.06L789.55,382.88L789.6,383.83L789.65,384.96L789.7,386.3L789.75,387.89L789.8,389.79L789.85,392.05L789.9,394.72L789.95,397.83L790,401.37L790.05,405.19L790.1,409L790.15,412.28L790.2,414.41L790.24,414.9L790.25,414.85L790.3,413.44L790.35,410.51L790.4,406.68L790.45,402.58L790.5,398.65L790.55,395.13L790.6,392.1L790.65,389.56L790.7,387.44L790.75,385.68L790.8,384.23L790.85,383.01L790.9,382L790.95,381.15L791,380.43L791.05,379.82L791.1,379.3L791.15,378.86L791.2,378.47L791.25,378.13L791.3,377.84L791.35,377.58L791.4,377.36L791.45,377.16L791.5,376.98L791.55,376.82L791.6,376.68L791.65,376.55L791.7,376.44L791.75,376.34L791.8,376.24L791.85,376.16L791.9,376.08L791.95,376.01L792,375.95L792.05,375.89L792.1,375.84L792.15,375.79L792.2,375.75L792.25,375.7L792.3,375.67L792.35,375.63L792.4,375.6L792.45,375.57L792.5,375.54L792.55,375.51L792.6,375.49L792.65,375.47L792.7,375.45L792.75,375.43L792.8,375.41L792.85,375.39L792.9,375.38L792.95,375.36L793,375.35L793.05,375.34L793.1,375.33L793.15,375.31L793.2,375.3L793.25,375.29L793.3,375.28L793.35,375.28L793.4,375.27L793.45,375.26L793.5,375.25L793.55,375.25L793.6,375.24L793.65,375.24L793.7,375.23L793.75,375.23L793.8,375.22L793.85,375.22L793.9,375.21L793.95,375.21L794,375.21L794.05,375.2L794.1,375.2L794.15,375.2L794.2,375.19L794.25,375.19L794.3,375.19L794.35,375.19L794.4,375.19L794.45,375.19L794.5,375.18L794.55,375.18L794.6,375.18L794.65,375.18L794.7,375.18L794.75,375.18L794.8,375.18L794.85,375.18L794.9,375.18L794.95,375.18L795,375.18L795.05,375.18L795.1,375.18L795.15,375.18L795.2,375.18L795.25,375.19L795.3,375.19L795.35,375.19L795.4,375.19L795.45,375.19L795.5,375.19L795.55,375.19L795.6,375.2L795.65,375.2L795.7,375.2L795.75,375.2L795.8,375.21L795.85,375.21L795.9,375.21L795.95,375.21L796,375.22L796.05,375.22L796.1,375.22L796.15,375.23L796.2,375.23L796.25,375.24L796.3,375.24L796.35,375.25L796.4,375.25L796.45,375.26L796.5,375.26L796.55,375.27L796.6,375.27L796.65,375.28L796.7,375.29L796.75,375.29L796.8,375.3L796.85,375.31L796.9,375.32L796.95,375.33L797,375.34L797.05,375.35L797.1,375.36L797.15,375.37L797.2,375.38L797.25,375.4L797.3,375.41L797.35,375.43L797.4,375.45L797.45,375.47L797.5,375.49L797.55,375.51L797.6,375.53L797.65,375.56L797.7,375.59L797.75,375.62L797.8,375.65L797.85,375.69L797.9,375.73L797.95,375.78L798,375.83L798.05,375.89L798.1,375.96L798.15,376.03L798.2,376.12L798.25,376.22L798.3,376.33L798.35,376.46L798.4,376.61L798.45,376.79L798.5,377.01L798.55,377.26L798.6,377.57L798.65,377.94L798.7,378.4L798.75,378.96L798.8,379.66L798.85,380.52L798.9,381.58L798.95,382.83L799,384.24L799.05,385.65L799.1,386.8L799.15,387.35L799.16,387.35L799.2,387.07L799.25,386.06L799.3,384.63L799.35,383.11L799.4,381.72L799.45,380.54L799.5,379.58L799.55,378.81L799.6,378.19L799.65,377.7L799.7,377.31L799.75,376.99L799.8,376.73L799.85,376.52L799.9,376.34L799.95,376.19L800,376.07L800.05,375.96L800.1,375.87L800.15,375.79L800.2,375.73L800.25,375.67L800.3,375.61L800.35,375.57L800.4,375.53L800.45,375.49L800.5,375.46L800.55,375.43L800.6,375.41L800.65,375.39L800.7,375.37L800.75,375.35L800.8,375.33L800.85,375.32L800.9,375.3L800.95,375.29L801,375.28L801.05,375.27L801.1,375.26L801.15,375.25L801.2,375.24L801.25,375.23L801.3,375.23L801.35,375.22L801.4,375.21L801.45,375.21L801.5,375.2L801.55,375.2L801.6,375.2L801.65,375.19L801.7,375.19L801.75,375.18L801.8,375.18L801.85,375.18L801.9,375.17L801.95,375.17L802,375.17L802.05,375.17L802.1,375.16L805.8,375.16L805.85,375.17L805.9,375.17L805.95,375.17L806,375.17L806.05,375.17L806.1,375.18L806.15,375.18L806.2,375.18L806.25,375.18L806.3,375.19L806.35,375.19L806.4,375.19L806.45,375.2L806.5,375.2L806.55,375.21L806.6,375.21L806.65,375.22L806.7,375.23L806.75,375.23L806.8,375.24L806.85,375.25L806.9,375.26L806.95,375.27L807,375.28L807.05,375.3L807.1,375.31L807.15,375.33L807.2,375.35L807.25,375.38L807.3,375.41L807.35,375.44L807.4,375.48L807.45,375.53L807.5,375.59L807.55,375.66L807.6,375.75L807.65,375.87L807.7,376.01L807.75,376.2L807.8,376.44L807.85,376.74L807.9,377.12L807.95,377.55L808,377.98L808.05,378.27L808.08,378.33L808.1,378.31L808.15,378.05L808.2,377.63L808.25,377.16L808.3,376.75L808.35,376.42L808.4,376.16L808.45,375.96L808.5,375.81L808.55,375.69L808.6,375.6L808.65,375.52L808.7,375.47L808.75,375.42L808.8,375.38L808.85,375.35L808.9,375.32L808.95,375.3L809,375.28L809.05,375.26L809.1,375.25L809.15,375.24L809.2,375.22L809.25,375.22L809.3,375.21L809.35,375.2L809.4,375.19L809.45,375.19L809.5,375.18L809.55,375.18L809.6,375.17L809.65,375.17L809.7,375.17L809.75,375.16L816.05,375.16L816.1,375.17L816.15,375.17L816.2,375.18L816.25,375.18L816.3,375.19L816.35,375.2L816.4,375.21L816.45,375.22L816.5,375.24L816.55,375.26L816.6,375.29L816.65,375.33L816.7,375.38L816.75,375.44L816.8,375.53L816.85,375.63L816.9,375.76L816.95,375.87L817,375.93L817.01,375.93L817.05,375.88L817.1,375.77L817.15,375.64L817.2,375.52L817.25,375.43L817.3,375.36L817.35,375.31L817.4,375.28L817.45,375.25L817.5,375.23L817.55,375.21L817.6,375.2L817.65,375.19L817.7,375.18L817.75,375.17L817.8,375.17L817.85,375.16L824.5,375.13L824.5,375.12Z" fill="#50C7E2" stroke="#000" stroke-width="1.35" stroke-linejoin="round"/>
<rect x="664.7" y="315.2" width="159.80" height="239.70" fill="none" stroke="#000" stroke-width="0.95"/>
<path d="M704.65,315.2v3M704.65,554.9v-3M744.60,315.2v3M744.60,554.9v-3M784.55,315.2v3M784.55,554.9v-3M684.68,315.2v1.8M684.68,554.9v-1.8M724.62,315.2v1.8M724.62,554.9v-1.8M764.58,315.2v1.8M764.58,554.9v-1.8M804.52,315.2v1.8M804.52,554.9v-1.8M664.7,524.94h1.8M824.5,524.94h-1.8M664.7,494.98h3M824.5,494.98h-3M664.7,465.01h1.8M824.5,465.01h-1.8M664.7,435.05h3M824.5,435.05h-3M664.7,405.09h1.8M824.5,405.09h-1.8M664.7,375.12h3M824.5,375.12h-3M664.7,345.16h1.8M824.5,345.16h-1.8" stroke="#000" stroke-width="0.95" fill="none"/>
<text x="662.1" y="320.0" font-family="'Liberation Serif',serif" font-size="21.2" text-anchor="end" >0.2</text>
<text x="662.1" y="379.9" font-family="'Liberation Serif',serif" font-size="21.2" text-anchor="end" >0.0</text>
<text x="662.1" y="439.8" font-family="'Liberation Serif',serif" font-size="21.2" text-anchor="end" >-0.2</text>
<text x="662.1" y="499.8" font-family="'Liberation Serif',serif" font-size="21.2" text-anchor="end" >-0.4</text>
<text x="662.1" y="559.7" font-family="'Liberation Serif',serif" font-size="21.2" text-anchor="end" >-0.6</text>
<text x="664.0" y="574.8" font-family="'Liberation Serif',serif" font-size="21.4" text-anchor="middle" >-2</text>
<text x="704.0" y="574.8" font-family="'Liberation Serif',serif" font-size="21.4" text-anchor="middle" >-1</text>
<text x="744.6" y="574.8" font-family="'Liberation Serif',serif" font-size="21.4" text-anchor="middle" >0</text>
<text x="784.5" y="574.8" font-family="'Liberation Serif',serif" font-size="21.4" text-anchor="middle" >1</text>
<text x="824.5" y="574.8" font-family="'Liberation Serif',serif" font-size="21.4" text-anchor="middle" >2</text>
<text x="675" y="350.2" font-family="'Liberation Sans',sans-serif" font-size="27" text-anchor="start" >(e)</text>
<text x="778.4" y="492.3" font-family="'Liberation Sans',sans-serif" font-size="27">S<tspan font-size="16.5" dy="10.5" dx="0.3">z</tspan><tspan font-size="16.5" dy="-25.6" dx="-0.9">+</tspan></text>
<path d="M665.0,677.40L665,677.4L666.02,677.44L666.05,677.45L666.08,677.48L666.11,677.52L666.14,677.6L666.17,677.68L666.18,677.7L666.2,677.68L666.23,677.59L666.26,677.52L666.29,677.47L666.32,677.45L666.35,677.44L668.96,677.43L668.99,677.44L669.02,677.46L669.05,677.48L669.08,677.53L669.11,677.6L669.14,677.72L669.17,677.85L669.18,677.88L669.2,677.85L669.23,677.72L669.26,677.6L669.29,677.53L669.32,677.49L669.35,677.46L669.38,677.45L669.41,677.44L671.9,677.44L671.93,677.45L671.96,677.46L671.99,677.47L672.02,677.5L672.05,677.54L672.08,677.61L672.11,677.72L672.14,677.9L672.17,678.11L672.19,678.16L672.2,678.14L672.23,677.94L672.26,677.75L672.29,677.63L672.32,677.56L672.35,677.51L672.38,677.48L672.41,677.46L672.44,677.45L672.47,677.44L672.5,677.43L674.81,677.44L674.84,677.44L674.87,677.45L674.9,677.46L674.93,677.48L674.96,677.5L674.99,677.53L675.02,677.57L675.05,677.64L675.08,677.74L675.11,677.92L675.14,678.2L675.17,678.53L675.19,678.62L675.2,678.59L675.23,678.31L675.26,678.01L675.29,677.8L675.32,677.67L675.35,677.6L675.38,677.55L675.41,677.51L675.44,677.49L675.47,677.47L675.5,677.46L675.53,677.45L675.56,677.44L675.59,677.44L677.72,677.44L677.75,677.44L677.78,677.45L677.81,677.46L677.84,677.47L677.87,677.49L677.9,677.51L677.93,677.53L677.96,677.57L677.99,677.61L678.02,677.69L678.05,677.8L678.08,677.97L678.11,678.25L678.14,678.69L678.17,679.18L678.19,679.35L678.2,679.32L678.23,678.93L678.26,678.44L678.29,678.1L678.32,677.88L678.35,677.75L678.38,677.66L678.41,677.6L678.44,677.56L678.47,677.53L678.5,677.51L678.53,677.49L678.56,677.48L678.59,677.46L678.62,677.46L678.65,677.45L678.68,677.44L678.71,677.44L680.57,677.44L680.6,677.44L680.63,677.45L680.66,677.45L680.69,677.46L680.72,677.47L680.75,677.48L680.78,677.49L680.81,677.5L680.84,677.52L680.87,677.55L680.9,677.58L680.93,677.62L680.96,677.68L680.99,677.76L681.02,677.88L681.05,678.06L681.08,678.34L681.11,678.79L681.14,679.46L681.17,680.22L681.19,680.5L681.2,680.48L681.23,679.94L681.26,679.19L681.29,678.61L681.32,678.25L681.35,678.01L681.38,677.86L681.41,677.75L681.44,677.68L681.47,677.63L681.5,677.59L681.53,677.56L681.56,677.53L681.59,677.51L681.62,677.5L681.65,677.49L681.68,677.48L681.71,677.47L681.74,677.46L681.77,677.45L681.8,677.45L681.83,677.44L681.86,677.44L683.42,677.44L683.45,677.44L683.48,677.44L683.51,677.45L683.54,677.45L683.57,677.46L683.6,677.47L683.63,677.48L683.66,677.49L683.69,677.5L683.72,677.51L683.75,677.53L683.78,677.55L683.81,677.58L683.84,677.61L683.87,677.66L683.9,677.71L683.93,677.78L683.96,677.88L683.99,678.02L684.02,678.21L684.05,678.51L684.08,678.96L684.11,679.66L684.14,680.68L684.17,681.83L684.2,682.31L684.2,682.3L684.23,681.58L684.26,680.43L684.29,679.5L684.32,678.88L684.35,678.47L684.38,678.2L684.41,678.02L684.44,677.89L684.47,677.8L684.5,677.73L684.53,677.67L684.56,677.63L684.59,677.6L684.62,677.57L684.65,677.55L684.68,677.53L684.71,677.52L684.74,677.5L684.77,677.49L684.8,677.48L684.83,677.47L684.86,677.47L684.89,677.46L684.92,677.46L684.95,677.45L684.98,677.45L685.01,677.44L685.04,677.44L686.27,677.44L686.3,677.44L686.33,677.45L686.36,677.45L686.39,677.46L686.42,677.46L686.45,677.47L686.48,677.48L686.51,677.48L686.54,677.49L686.57,677.5L686.6,677.52L686.63,677.53L686.66,677.55L686.69,677.57L686.72,677.6L686.75,677.63L686.78,677.66L686.81,677.71L686.84,677.77L686.87,677.84L686.9,677.93L686.93,678.05L686.96,678.22L686.99,678.44L687.02,678.77L687.05,679.25L687.08,679.97L687.11,681.06L687.14,682.61L687.17,684.34L687.2,685.13L687.2,685.13L687.23,684.2L687.26,682.48L687.29,681L687.32,679.96L687.35,679.27L687.38,678.81L687.41,678.49L687.44,678.26L687.47,678.1L687.5,677.98L687.53,677.88L687.56,677.81L687.59,677.75L687.62,677.7L687.65,677.66L687.68,677.63L687.71,677.6L687.74,677.58L687.77,677.56L687.8,677.54L687.83,677.53L687.86,677.52L687.89,677.51L687.92,677.5L687.95,677.49L687.98,677.48L688.01,677.47L688.04,677.47L688.07,677.46L688.1,677.46L688.13,677.45L688.16,677.45L688.19,677.45L688.22,677.44L688.25,677.44L689.09,677.44L689.12,677.44L689.15,677.45L689.18,677.45L689.21,677.45L689.24,677.46L689.27,677.46L689.3,677.47L689.33,677.48L689.36,677.49L689.39,677.49L689.42,677.5L689.45,677.52L689.48,677.53L689.51,677.54L689.54,677.56L689.57,677.58L689.6,677.6L689.63,677.63L689.66,677.66L689.69,677.69L689.72,677.74L689.75,677.79L689.78,677.85L689.81,677.93L689.84,678.02L689.87,678.14L689.9,678.3L689.93,678.51L689.96,678.78L689.99,679.16L690.02,679.69L690.05,680.46L690.08,681.6L690.11,683.28L690.14,685.61L690.17,688.15L690.2,689.43L690.2,689.43L690.23,688.28L690.26,685.8L690.29,683.49L690.32,681.79L690.35,680.64L690.38,679.85L690.41,679.3L690.44,678.91L690.47,678.62L690.5,678.41L690.53,678.24L690.56,678.11L690.59,678.01L690.62,677.93L690.65,677.86L690.68,677.8L690.71,677.75L690.74,677.71L690.77,677.68L690.8,677.65L690.83,677.63L690.86,677.6L690.89,677.58L690.92,677.57L690.95,677.55L690.98,677.54L691.01,677.53L691.04,677.52L691.07,677.51L691.1,677.5L691.13,677.49L691.16,677.48L691.19,677.48L691.22,677.47L691.25,677.47L691.28,677.46L691.31,677.46L691.34,677.45L691.37,677.45L691.4,677.45L691.43,677.44L691.46,677.44L691.49,677.44L691.52,677.44L691.85,677.44L691.88,677.44L691.91,677.44L691.94,677.45L691.97,677.45L692,677.45L692.03,677.46L692.06,677.46L692.09,677.46L692.12,677.47L692.15,677.48L692.18,677.48L692.21,677.49L692.24,677.5L692.27,677.51L692.3,677.52L692.33,677.53L692.36,677.54L692.39,677.56L692.42,677.58L692.45,677.6L692.48,677.62L692.51,677.64L692.54,677.67L692.57,677.7L692.6,677.74L692.63,677.79L692.66,677.84L692.69,677.9L692.72,677.97L692.75,678.06L692.78,678.16L692.81,678.29L692.84,678.45L692.87,678.66L692.9,678.92L692.93,679.26L692.96,679.71L692.99,680.32L693.02,681.18L693.05,682.41L693.08,684.18L693.11,686.73L693.14,690.16L693.17,693.82L693.2,695.79L693.2,695.8L693.23,694.45L693.26,690.99L693.29,687.5L693.32,684.81L693.35,682.91L693.38,681.59L693.41,680.67L693.44,680L693.47,679.51L693.5,679.14L693.53,678.85L693.56,678.63L693.59,678.45L693.62,678.31L693.65,678.19L693.68,678.09L693.71,678.01L693.74,677.94L693.77,677.88L693.8,677.83L693.83,677.79L693.86,677.75L693.89,677.71L693.92,677.68L693.95,677.66L693.98,677.64L694.01,677.61L694.04,677.6L694.07,677.58L694.1,677.56L694.13,677.55L694.16,677.54L694.19,677.53L694.22,677.52L694.25,677.51L694.28,677.5L694.31,677.5L694.34,677.49L694.37,677.48L694.4,677.48L694.43,677.47L694.46,677.47L694.49,677.47L694.52,677.46L694.55,677.46L694.58,677.46L694.61,677.46L694.64,677.46L694.67,677.46L694.7,677.46L694.73,677.46L694.76,677.46L694.79,677.46L694.82,677.46L694.85,677.46L694.88,677.47L694.91,677.47L694.94,677.47L694.97,677.48L695,677.48L695.03,677.49L695.06,677.5L695.09,677.51L695.12,677.52L695.15,677.53L695.18,677.54L695.21,677.55L695.24,677.56L695.27,677.58L695.3,677.6L695.33,677.62L695.36,677.64L695.39,677.67L695.42,677.69L695.45,677.73L695.48,677.76L695.51,677.81L695.54,677.85L695.57,677.91L695.6,677.97L695.63,678.05L695.66,678.13L695.69,678.24L695.72,678.36L695.75,678.5L695.78,678.68L695.81,678.89L695.84,679.16L695.87,679.49L695.9,679.91L695.93,680.46L695.96,681.19L695.99,682.18L696.02,683.53L696.05,685.43L696.08,688.13L696.11,691.9L696.14,696.8L696.17,701.92L696.2,704.82L696.2,704.89L696.23,703.36L696.26,698.75L696.29,693.69L696.32,689.58L696.35,686.57L696.38,684.43L696.41,682.9L696.44,681.79L696.47,680.97L696.5,680.35L696.53,679.86L696.56,679.49L696.59,679.18L696.62,678.94L696.65,678.74L696.68,678.57L696.71,678.43L696.74,678.32L696.77,678.21L696.8,678.13L696.83,678.05L696.86,677.99L696.89,677.93L696.92,677.88L696.95,677.84L696.98,677.8L697.01,677.76L697.04,677.73L697.07,677.7L697.1,677.68L697.13,677.65L697.16,677.63L697.19,677.61L697.22,677.6L697.25,677.58L697.28,677.57L697.31,677.56L697.34,677.55L697.37,677.54L697.4,677.53L697.43,677.52L697.46,677.51L697.49,677.51L697.52,677.5L697.55,677.5L697.58,677.5L697.61,677.49L697.64,677.49L697.67,677.49L697.7,677.49L697.73,677.49L697.76,677.49L697.79,677.49L697.82,677.5L697.85,677.5L697.88,677.51L697.91,677.51L697.94,677.52L697.97,677.53L698,677.54L698.03,677.55L698.06,677.56L698.09,677.57L698.12,677.59L698.15,677.6L698.18,677.62L698.21,677.64L698.24,677.67L698.27,677.69L698.3,677.72L698.33,677.76L698.36,677.79L698.39,677.84L698.42,677.88L698.45,677.94L698.48,678L698.51,678.07L698.54,678.15L698.57,678.24L698.6,678.34L698.63,678.46L698.66,678.6L698.69,678.77L698.72,678.96L698.75,679.2L698.78,679.48L698.81,679.83L698.84,680.26L698.87,680.79L698.9,681.46L698.93,682.33L698.96,683.48L698.99,685L699.02,687.07L699.05,689.93L699.08,693.88L699.11,699.25L699.14,705.99L699.17,712.87L699.2,716.91L699.21,717.09L699.23,715.47L699.26,709.65L699.29,702.71L699.32,696.72L699.35,692.16L699.38,688.82L699.41,686.4L699.44,684.61L699.47,683.28L699.5,682.26L699.53,681.47L699.56,680.85L699.59,680.35L699.62,679.95L699.65,679.61L699.68,679.34L699.71,679.11L699.74,678.91L699.77,678.75L699.8,678.6L699.83,678.48L699.86,678.37L699.89,678.27L699.92,678.19L699.95,678.12L699.98,678.05L700.01,677.99L700.04,677.94L700.07,677.89L700.1,677.85L700.13,677.81L700.16,677.78L700.19,677.75L700.22,677.72L700.25,677.7L700.28,677.68L700.31,677.66L700.34,677.64L700.37,677.62L700.4,677.61L700.43,677.59L700.46,677.58L700.49,677.57L700.52,677.57L700.55,677.56L700.58,677.55L700.61,677.55L700.64,677.55L700.67,677.54L700.7,677.54L700.73,677.55L700.76,677.55L700.79,677.55L700.82,677.56L700.85,677.56L700.88,677.57L700.91,677.58L700.94,677.59L700.97,677.6L701,677.62L701.03,677.64L701.06,677.66L701.09,677.68L701.12,677.7L701.15,677.73L701.18,677.76L701.21,677.79L701.24,677.83L701.27,677.87L701.3,677.92L701.33,677.97L701.36,678.03L701.39,678.1L701.42,678.18L701.45,678.26L701.48,678.36L701.51,678.47L701.54,678.59L701.57,678.73L701.6,678.9L701.63,679.09L701.66,679.31L701.69,679.57L701.72,679.88L701.75,680.25L701.78,680.69L701.81,681.23L701.84,681.89L701.87,682.72L701.9,683.75L701.93,685.08L701.96,686.79L701.99,689.06L702.02,692.1L702.05,696.21L702.08,701.75L702.11,709.03L702.14,717.85L702.17,726.63L702.2,731.91L702.21,732.28L702.23,730.68L702.26,723.79L702.29,714.87L702.32,706.68L702.35,700.14L702.38,695.2L702.41,691.53L702.44,688.79L702.47,686.72L702.5,685.12L702.53,683.88L702.56,682.9L702.59,682.11L702.62,681.47L702.65,680.94L702.68,680.5L702.71,680.13L702.74,679.82L702.77,679.55L702.8,679.32L702.83,679.12L702.86,678.95L702.89,678.8L702.92,678.66L702.95,678.55L702.98,678.44L703.01,678.35L703.04,678.27L703.07,678.19L703.1,678.12L703.13,678.06L703.16,678.01L703.19,677.96L703.22,677.92L703.25,677.88L703.28,677.84L703.31,677.81L703.34,677.78L703.37,677.75L703.4,677.73L703.43,677.71L703.46,677.69L703.49,677.68L703.52,677.67L703.55,677.65L703.58,677.65L703.61,677.64L703.64,677.64L703.67,677.63L703.7,677.63L703.73,677.63L703.76,677.64L703.79,677.64L703.82,677.65L703.85,677.66L703.88,677.67L703.91,677.69L703.94,677.7L703.97,677.72L704,677.75L704.03,677.77L704.06,677.8L704.09,677.84L704.12,677.87L704.15,677.92L704.18,677.96L704.21,678.02L704.24,678.07L704.27,678.14L704.3,678.21L704.33,678.29L704.36,678.39L704.39,678.49L704.42,678.6L704.45,678.73L704.48,678.88L704.51,679.05L704.54,679.24L704.57,679.46L704.6,679.71L704.63,680L704.66,680.34L704.69,680.73L704.72,681.2L704.75,681.75L704.78,682.41L704.81,683.21L704.84,684.19L704.87,685.41L704.9,686.92L704.93,688.84L704.96,691.31L704.99,694.53L705.02,698.76L705.05,704.35L705.08,711.69L705.11,721.01L705.14,731.89L705.17,742.39L705.2,748.83L705.21,749.45L705.23,748.01L705.26,740.45L705.29,729.81L705.32,719.38L705.35,710.63L705.38,703.78L705.41,698.55L705.44,694.57L705.47,691.52L705.5,689.15L705.53,687.29L705.56,685.81L705.59,684.61L705.62,683.64L705.65,682.84L705.68,682.17L705.71,681.6L705.74,681.12L705.77,680.71L705.8,680.36L705.83,680.06L705.86,679.79L705.89,679.56L705.92,679.35L705.95,679.17L705.98,679.01L706.01,678.87L706.04,678.74L706.07,678.63L706.1,678.52L706.13,678.43L706.16,678.35L706.19,678.27L706.22,678.21L706.25,678.15L706.28,678.09L706.31,678.04L706.34,678L706.37,677.96L706.4,677.92L706.43,677.89L706.46,677.87L706.49,677.84L706.52,677.82L706.55,677.81L706.58,677.79L706.61,677.78L706.64,677.78L706.67,677.77L706.7,677.77L706.73,677.77L706.76,677.78L706.79,677.79L706.82,677.8L706.85,677.81L706.88,677.83L706.91,677.85L706.94,677.88L706.97,677.91L707,677.94L707.03,677.98L707.06,678.03L707.09,678.08L707.12,678.13L707.15,678.19L707.18,678.26L707.21,678.34L707.24,678.43L707.27,678.53L707.3,678.63L707.33,678.75L707.36,678.89L707.39,679.04L707.42,679.21L707.45,679.4L707.48,679.62L707.51,679.86L707.54,680.14L707.57,680.46L707.6,680.82L707.63,681.24L707.66,681.73L707.69,682.3L707.72,682.97L707.75,683.77L707.78,684.71L707.81,685.85L707.84,687.24L707.87,688.94L707.9,691.05L707.93,693.7L707.96,697.06L707.99,701.37L708.02,706.92L708.05,714.09L708.08,723.22L708.11,734.41L708.14,746.96L708.17,758.71L708.2,766L708.21,766.89L708.23,765.72L708.26,758.07L708.29,746.36L708.32,734.1L708.35,723.26L708.38,714.41L708.41,707.44L708.44,702.01L708.47,697.77L708.5,694.45L708.53,691.81L708.56,689.69L708.59,687.97L708.62,686.56L708.65,685.4L708.68,684.42L708.71,683.6L708.74,682.91L708.77,682.31L708.8,681.79L708.83,681.35L708.86,680.96L708.89,680.61L708.92,680.31L708.95,680.05L708.98,679.81L709.01,679.6L709.04,679.41L709.07,679.25L709.1,679.1L709.13,678.96L709.16,678.84L709.19,678.73L709.22,678.63L709.25,678.54L709.28,678.46L709.31,678.39L709.34,678.33L709.37,678.27L709.4,678.22L709.43,678.17L709.46,678.13L709.49,678.1L709.52,678.07L709.55,678.05L709.58,678.03L709.61,678.01L709.64,678L709.67,678L709.7,678L709.73,678L709.76,678.01L709.79,678.02L709.82,678.03L709.85,678.06L709.88,678.08L709.91,678.11L709.94,678.15L709.97,678.19L710,678.24L710.03,678.3L710.06,678.36L710.09,678.43L710.12,678.51L710.15,678.6L710.18,678.7L710.21,678.81L710.24,678.93L710.27,679.07L710.3,679.22L710.33,679.39L710.36,679.59L710.39,679.8L710.42,680.04L710.45,680.31L710.48,680.61L710.51,680.96L710.54,681.35L710.57,681.79L710.6,682.3L710.63,682.89L710.66,683.56L710.69,684.35L710.72,685.28L710.75,686.36L710.78,687.66L710.81,689.2L710.84,691.07L710.87,693.34L710.9,696.14L710.93,699.61L710.96,703.94L710.99,709.4L711.02,716.29L711.05,724.94L711.08,735.59L711.11,748.15L711.14,761.69L711.17,773.97L711.2,781.65L711.22,782.8L711.23,781.93L711.26,774.78L711.29,762.91L711.32,749.63L711.35,737.21L711.38,726.59L711.41,717.92L711.44,710.98L711.47,705.45L711.5,701.04L711.53,697.49L711.56,694.62L711.59,692.27L711.62,690.34L711.65,688.72L711.68,687.37L711.71,686.23L711.74,685.25L711.77,684.42L711.8,683.69L711.83,683.07L711.86,682.52L711.89,682.04L711.92,681.62L711.95,681.24L711.98,680.91L712.01,680.61L712.04,680.35L712.07,680.11L712.1,679.9L712.13,679.71L712.16,679.54L712.19,679.38L712.22,679.25L712.25,679.12L712.28,679.01L712.31,678.91L712.34,678.82L712.37,678.74L712.4,678.67L712.43,678.6L712.46,678.55L712.49,678.5L712.52,678.46L712.55,678.43L712.58,678.4L712.61,678.38L712.64,678.36L712.67,678.36L712.7,678.35L712.73,678.36L712.76,678.37L712.79,678.38L712.82,678.41L712.85,678.44L712.88,678.47L712.91,678.52L712.94,678.57L712.97,678.63L713,678.7L713.03,678.78L713.06,678.86L713.09,678.96L713.12,679.07L713.15,679.19L713.18,679.33L713.21,679.48L713.24,679.65L713.27,679.84L713.3,680.05L713.33,680.29L713.36,680.55L713.39,680.84L713.42,681.16L713.45,681.53L713.48,681.94L713.51,682.41L713.54,682.94L713.57,683.54L713.6,684.22L713.63,685.01L713.66,685.92L713.69,686.97L713.72,688.19L713.75,689.63L713.78,691.32L713.81,693.34L713.84,695.75L713.87,698.66L713.9,702.2L713.93,706.53L713.96,711.85L713.99,718.41L714.02,726.49L714.05,736.34L714.08,748.03L714.11,761.27L714.14,774.98L714.17,787.03L714.2,794.58L714.22,795.92L714.23,795.35L714.26,789.16L714.29,777.99L714.32,764.69L714.35,751.5L714.38,739.67L714.41,729.6L714.44,721.27L714.47,714.47L714.5,708.93L714.53,704.4L714.56,700.69L714.59,697.63L714.62,695.08L714.65,692.94L714.68,691.14L714.71,689.61L714.74,688.3L714.77,687.17L714.8,686.19L714.83,685.34L714.86,684.6L714.89,683.95L714.92,683.37L714.95,682.86L714.98,682.41L715.01,682.01L715.04,681.64L715.07,681.32L715.1,681.03L715.13,680.77L715.16,680.54L715.19,680.33L715.22,680.14L715.25,679.97L715.28,679.81L715.31,679.68L715.34,679.55L715.37,679.44L715.4,679.35L715.43,679.26L715.46,679.18L715.49,679.12L715.52,679.07L715.55,679.02L715.58,678.98L715.61,678.96L715.64,678.94L715.67,678.93L715.7,678.92L715.73,678.93L715.76,678.94L715.79,678.97L715.82,679L715.85,679.04L715.88,679.09L715.91,679.15L715.94,679.22L715.97,679.3L716,679.4L716.03,679.5L716.06,679.62L716.09,679.75L716.12,679.9L716.15,680.07L716.18,680.25L716.21,680.46L716.24,680.68L716.27,680.94L716.3,681.22L716.33,681.53L716.36,681.88L716.39,682.27L716.42,682.71L716.45,683.19L716.48,683.74L716.51,684.36L716.54,685.05L716.57,685.84L716.6,686.74L716.63,687.77L716.66,688.95L716.69,690.31L716.72,691.88L716.75,693.72L716.78,695.87L716.81,698.41L716.84,701.42L716.87,705.01L716.9,709.31L716.93,714.49L716.96,720.73L716.99,728.25L717.02,737.25L717.05,747.86L717.08,760L717.11,773.18L717.14,786.28L717.17,797.44L717.2,804.44L717.22,805.89L717.23,805.56L717.26,800.54L717.29,790.74L717.32,778.33L717.35,765.31L717.38,753L717.41,742.06L717.44,732.66L717.47,724.75L717.5,718.14L717.53,712.64L717.56,708.05L717.59,704.21L717.62,700.99L717.65,698.26L717.68,695.94L717.71,693.95L717.74,692.25L717.77,690.77L717.8,689.49L717.83,688.37L717.86,687.39L717.89,686.52L717.92,685.76L717.95,685.08L717.98,684.48L718.01,683.94L718.04,683.46L718.07,683.03L718.1,682.64L718.13,682.29L718.16,681.98L718.19,681.7L718.22,681.44L718.25,681.22L718.28,681.01L718.31,680.83L718.34,680.66L718.37,680.52L718.4,680.39L718.43,680.27L718.46,680.17L718.49,680.09L718.52,680.01L718.55,679.95L718.58,679.91L718.61,679.87L718.64,679.84L718.67,679.83L718.7,679.83L718.73,679.84L718.76,679.86L718.79,679.89L718.82,679.93L718.85,679.99L718.88,680.06L718.91,680.14L718.94,680.23L718.97,680.34L719,680.47L719.03,680.61L719.06,680.77L719.09,680.95L719.12,681.15L719.15,681.37L719.18,681.61L719.21,681.88L719.24,682.19L719.27,682.52L719.3,682.89L719.33,683.31L719.36,683.77L719.39,684.28L719.42,684.85L719.45,685.48L719.48,686.2L719.51,687L719.54,687.9L719.57,688.92L719.6,690.08L719.63,691.39L719.66,692.89L719.69,694.61L719.72,696.59L719.75,698.88L719.78,701.54L719.81,704.65L719.84,708.29L719.87,712.57L719.9,717.62L719.93,723.57L719.96,730.6L719.99,738.84L720.02,748.39L720.05,759.25L720.08,771.2L720.11,783.64L720.14,795.53L720.17,805.37L720.2,811.54L720.22,813L720.23,812.83L720.26,809.01L720.29,800.91L720.32,790.06L720.35,778.02L720.38,766.04L720.41,754.88L720.44,744.91L720.47,736.2L720.5,728.72L720.53,722.34L720.56,716.9L720.59,712.28L720.62,708.34L720.65,704.96L720.68,702.07L720.71,699.57L720.74,697.4L720.77,695.52L720.8,693.87L720.83,692.43L720.86,691.16L720.89,690.04L720.92,689.04L720.95,688.16L720.98,687.37L721.01,686.66L721.04,686.03L721.07,685.47L721.1,684.96L721.13,684.5L721.16,684.09L721.19,683.71L721.22,683.38L721.25,683.08L721.28,682.81L721.31,682.56L721.34,682.35L721.37,682.15L721.4,681.98L721.43,681.83L721.46,681.7L721.49,681.59L721.52,681.49L721.55,681.42L721.58,681.35L721.61,681.31L721.64,681.27L721.67,681.26L721.7,681.26L721.73,681.27L721.76,681.3L721.79,681.34L721.82,681.4L721.85,681.48L721.88,681.57L721.91,681.68L721.94,681.81L721.97,681.96L722,682.12L722.03,682.31L722.06,682.52L722.09,682.76L722.12,683.02L722.15,683.31L722.18,683.64L722.21,684L722.24,684.4L722.27,684.84L722.3,685.32L722.33,685.86L722.36,686.46L722.39,687.13L722.42,687.87L722.45,688.69L722.48,689.61L722.51,690.64L722.54,691.79L722.57,693.09L722.6,694.55L722.63,696.21L722.66,698.08L722.69,700.22L722.72,702.66L722.75,705.45L722.78,708.66L722.81,712.36L722.84,716.63L722.87,721.57L722.9,727.28L722.93,733.87L722.96,741.44L722.99,750.06L723.02,759.73L723.05,770.31L723.08,781.48L723.11,792.66L723.14,802.95L723.17,811.25L723.2,816.45L723.22,817.83L723.23,817.77L723.26,815.01L723.29,808.66L723.32,799.71L723.35,789.26L723.38,778.32L723.41,767.64L723.44,757.67L723.47,748.63L723.5,740.61L723.53,733.56L723.56,727.41L723.59,722.06L723.62,717.42L723.65,713.39L723.68,709.89L723.71,706.83L723.74,704.16L723.77,701.81L723.8,699.74L723.83,697.92L723.86,696.31L723.89,694.88L723.92,693.6L723.95,692.46L723.98,691.44L724.01,690.53L724.04,689.71L724.07,688.97L724.1,688.31L724.13,687.71L724.16,687.17L724.19,686.69L724.22,686.25L724.25,685.86L724.28,685.5L724.31,685.18L724.34,684.9L724.37,684.65L724.4,684.42L724.43,684.23L724.46,684.06L724.49,683.91L724.52,683.79L724.55,683.68L724.58,683.6L724.61,683.54L724.64,683.51L724.67,683.49L724.7,683.49L724.73,683.51L724.76,683.55L724.79,683.61L724.82,683.69L724.85,683.79L724.88,683.92L724.91,684.07L724.94,684.24L724.97,684.43L725,684.66L725.03,684.91L725.06,685.19L725.09,685.5L725.12,685.85L725.15,686.23L725.18,686.66L725.21,687.13L725.24,687.65L725.27,688.23L725.3,688.87L725.33,689.57L725.36,690.34L725.39,691.2L725.42,692.15L725.45,693.21L725.48,694.38L725.51,695.68L725.54,697.14L725.57,698.77L725.6,700.59L725.63,702.63L725.66,704.93L725.69,707.53L725.72,710.46L725.75,713.77L725.78,717.53L725.81,721.8L725.84,726.64L725.87,732.13L725.9,738.34L725.93,745.32L725.96,753.11L725.99,761.7L726.02,770.99L726.05,780.79L726.08,790.73L726.11,800.31L726.14,808.84L726.17,815.56L726.2,819.78L726.23,821.02L726.23,821L726.26,819.11L726.29,814.37L726.32,807.35L726.35,798.78L726.38,789.39L726.41,779.8L726.44,770.45L726.47,761.63L726.5,753.51L726.53,746.14L726.56,739.53L726.59,733.65L726.62,728.43L726.65,723.81L726.68,719.72L726.71,716.1L726.74,712.9L726.77,710.06L726.8,707.53L726.83,705.29L726.86,703.28L726.89,701.49L726.92,699.89L726.95,698.45L726.98,697.15L727.01,695.99L727.04,694.94L727.07,694L727.1,693.14L727.13,692.37L727.16,691.68L727.19,691.05L727.22,690.48L727.25,689.97L727.28,689.51L727.31,689.09L727.34,688.72L727.37,688.4L727.4,688.11L727.43,687.85L727.46,687.63L727.49,687.44L727.52,687.28L727.55,687.15L727.58,687.05L727.61,686.97L727.64,686.92L727.67,686.9L727.7,686.91L727.73,686.94L727.76,686.99L727.79,687.08L727.82,687.19L727.85,687.33L727.88,687.49L727.91,687.69L727.94,687.92L727.97,688.18L728,688.48L728.03,688.81L728.06,689.18L728.09,689.59L728.12,690.05L728.15,690.55L728.18,691.11L728.21,691.73L728.24,692.4L728.27,693.15L728.3,693.97L728.33,694.87L728.36,695.86L728.39,696.96L728.42,698.16L728.45,699.49L728.48,700.96L728.51,702.59L728.54,704.39L728.57,706.38L728.6,708.6L728.63,711.07L728.66,713.81L728.69,716.87L728.72,720.28L728.75,724.09L728.78,728.34L728.81,733.07L728.84,738.33L728.87,744.16L728.9,750.58L728.93,757.61L728.96,765.21L728.99,773.32L729.02,781.78L729.05,790.39L729.08,798.82L729.11,806.66L729.14,813.45L729.17,818.7L729.2,822L729.23,823.08L729.23,823.07L729.26,821.84L729.29,818.43L729.32,813.18L729.35,806.51L729.38,798.9L729.41,790.79L729.44,782.57L729.47,774.51L729.5,766.8L729.53,759.58L729.56,752.9L729.59,746.78L729.62,741.21L729.65,736.18L729.68,731.63L729.71,727.54L729.74,723.86L729.77,720.56L729.8,717.58L729.83,714.9L729.86,712.49L729.89,710.32L729.92,708.35L729.95,706.58L729.98,704.98L730.01,703.53L730.04,702.22L730.07,701.03L730.1,699.95L730.13,698.97L730.16,698.09L730.19,697.28L730.22,696.56L730.25,695.9L730.28,695.31L730.31,694.78L730.34,694.31L730.37,693.89L730.4,693.51L730.43,693.19L730.46,692.9L730.49,692.66L730.52,692.45L730.55,692.29L730.58,692.16L730.61,692.06L730.64,692L730.67,691.98L730.7,691.99L730.73,692.03L730.76,692.11L730.79,692.23L730.82,692.37L730.85,692.56L730.88,692.78L730.91,693.04L730.94,693.34L730.97,693.68L731,694.07L731.03,694.5L731.06,694.98L731.09,695.52L731.12,696.11L731.15,696.76L731.18,697.47L731.21,698.26L731.24,699.12L731.27,700.07L731.3,701.1L731.33,702.23L731.36,703.48L731.39,704.84L731.42,706.32L731.45,707.96L731.48,709.75L731.51,711.71L731.54,713.87L731.57,716.24L731.6,718.85L731.63,721.71L731.66,724.86L731.69,728.32L731.72,732.12L731.75,736.29L731.78,740.85L731.81,745.83L731.84,751.24L731.87,757.1L731.9,763.38L731.93,770.05L731.96,777.06L731.99,784.29L732.02,791.59L732.05,798.78L732.08,805.6L732.11,811.77L732.14,816.99L732.17,820.97L732.2,823.48L732.23,824.38L732.23,824.38L732.26,823.6L732.29,821.23L732.32,817.44L732.35,812.47L732.38,806.6L732.41,800.13L732.44,793.32L732.47,786.41L732.5,779.57L732.53,772.95L732.56,766.63L732.59,760.67L732.62,755.11L732.65,749.95L732.68,745.2L732.71,740.83L732.74,736.83L732.77,733.18L732.8,729.84L732.83,726.8L732.86,724.02L732.89,721.5L732.92,719.19L732.95,717.09L732.98,715.18L733.01,713.44L733.04,711.85L733.07,710.4L733.1,709.08L733.13,707.88L733.16,706.78L733.19,705.79L733.22,704.89L733.25,704.07L733.28,703.34L733.31,702.67L733.34,702.08L733.37,701.54L733.4,701.07L733.43,700.66L733.46,700.3L733.49,699.99L733.52,699.74L733.55,699.53L733.58,699.36L733.61,699.25L733.64,699.17L733.67,699.14L733.7,699.16L733.73,699.22L733.76,699.32L733.79,699.46L733.82,699.66L733.85,699.89L733.88,700.17L733.91,700.51L733.94,700.89L733.97,701.32L734,701.81L734.03,702.35L734.06,702.96L734.09,703.63L734.12,704.36L734.15,705.17L734.18,706.06L734.21,707.03L734.24,708.09L734.27,709.24L734.3,710.5L734.33,711.87L734.36,713.36L734.39,714.98L734.42,716.74L734.45,718.66L734.48,720.74L734.51,723.01L734.54,725.48L734.57,728.15L734.6,731.06L734.63,734.21L734.66,737.63L734.69,741.33L734.72,745.32L734.75,749.62L734.78,754.23L734.81,759.16L734.84,764.4L734.87,769.92L734.9,775.7L734.93,781.68L734.96,787.78L734.99,793.9L735.02,799.91L735.05,805.66L735.08,810.98L735.11,815.69L735.14,819.61L735.17,822.57L735.2,824.46L735.23,825.18L735.23,825.18L735.26,824.71L735.29,823.09L735.32,820.42L735.35,816.81L735.38,812.44L735.41,807.49L735.44,802.12L735.47,796.5L735.5,790.77L735.53,785.06L735.56,779.45L735.59,774.02L735.62,768.82L735.65,763.88L735.68,759.23L735.71,754.86L735.74,750.78L735.77,746.99L735.8,743.47L735.83,740.22L735.86,737.21L735.89,734.43L735.92,731.87L735.95,729.52L735.98,727.35L736.01,725.36L736.04,723.52L736.07,721.84L736.1,720.3L736.13,718.89L736.16,717.6L736.19,716.42L736.22,715.34L736.25,714.36L736.28,713.47L736.31,712.67L736.34,711.95L736.37,711.3L736.4,710.72L736.43,710.22L736.46,709.78L736.49,709.4L736.52,709.08L736.55,708.82L736.58,708.61L736.61,708.47L736.64,708.37L736.67,708.33L736.7,708.34L736.73,708.41L736.76,708.53L736.79,708.7L736.82,708.92L736.85,709.2L736.88,709.54L736.91,709.94L736.94,710.39L736.97,710.9L737,711.48L737.03,712.13L737.06,712.84L737.09,713.63L737.12,714.5L737.15,715.44L737.18,716.48L737.21,717.6L737.24,718.83L737.27,720.15L737.3,721.59L737.33,723.15L737.36,724.83L737.39,726.65L737.42,728.61L737.45,730.72L737.48,733L737.51,735.45L737.54,738.09L737.57,740.92L737.6,743.96L737.63,747.21L737.66,750.69L737.69,754.39L737.72,758.32L737.75,762.49L737.78,766.87L737.81,771.47L737.84,776.25L737.87,781.19L737.9,786.25L737.93,791.36L737.96,796.46L737.99,801.47L738.02,806.28L738.05,810.8L738.08,814.9L738.11,818.48L738.14,821.42L738.17,823.65L738.2,825.07L738.23,825.65L738.24,825.66L738.26,825.38L738.29,824.26L738.32,822.36L738.35,819.74L738.38,816.5L738.41,812.75L738.44,808.59L738.47,804.13L738.5,799.48L738.53,794.73L738.56,789.96L738.59,785.23L738.62,780.6L738.65,776.11L738.68,771.8L738.71,767.67L738.74,763.74L738.77,760.03L738.8,756.54L738.83,753.25L738.86,750.17L738.89,747.3L738.92,744.62L738.95,742.12L738.98,739.8L739.01,737.65L739.04,735.65L739.07,733.8L739.1,732.1L739.13,730.52L739.16,729.07L739.19,727.73L739.22,726.51L739.25,725.39L739.28,724.37L739.31,723.44L739.34,722.6L739.37,721.84L739.4,721.16L739.43,720.56L739.46,720.04L739.49,719.58L739.52,719.19L739.55,718.87L739.58,718.61L739.61,718.42L739.64,718.29L739.67,718.21L739.7,718.2L739.73,718.25L739.76,718.36L739.79,718.53L739.82,718.77L739.85,719.06L739.88,719.41L739.91,719.83L739.94,720.32L739.97,720.87L740,721.5L740.03,722.19L740.06,722.97L740.09,723.82L740.12,724.75L740.15,725.77L740.18,726.88L740.21,728.08L740.24,729.38L740.27,730.79L740.3,732.31L740.33,733.95L740.36,735.71L740.39,737.6L740.42,739.63L740.45,741.8L740.48,744.12L740.51,746.6L740.54,749.24L740.57,752.05L740.6,755.04L740.63,758.2L740.66,761.54L740.69,765.06L740.72,768.75L740.75,772.61L740.78,776.62L740.81,780.77L740.84,785.02L740.87,789.35L740.9,793.71L740.93,798.06L740.96,802.34L740.99,806.48L741.02,810.41L741.05,814.05L741.08,817.34L741.11,820.18L741.14,822.51L741.17,824.27L741.2,825.41L741.23,825.9L741.24,825.92L741.26,825.74L741.29,824.93L741.32,823.49L741.35,821.48L741.38,818.95L741.41,815.97L741.44,812.62L741.47,808.97L741.5,805.1L741.53,801.07L741.56,796.96L741.59,792.83L741.62,788.71L741.65,784.65L741.68,780.69L741.71,776.85L741.74,773.14L741.77,769.59L741.8,766.21L741.83,762.99L741.86,759.94L741.89,757.06L741.92,754.35L741.95,751.8L741.98,749.41L742.01,747.17L742.04,745.08L742.07,743.13L742.1,741.31L742.13,739.62L742.16,738.06L742.19,736.61L742.22,735.27L742.25,734.04L742.28,732.91L742.31,731.87L742.34,730.92L742.37,730.07L742.4,729.29L742.43,728.6L742.46,727.98L742.49,727.44L742.52,726.97L742.55,726.57L742.58,726.24L742.61,725.98L742.64,725.78L742.67,725.65L742.7,725.59L742.73,725.58L742.76,725.64L742.79,725.77L742.82,725.96L742.85,726.21L742.88,726.53L742.91,726.92L742.94,727.38L742.97,727.9L743,728.5L743.03,729.18L743.06,729.93L743.09,730.76L743.12,731.67L743.15,732.67L743.18,733.76L743.21,734.94L743.24,736.23L743.27,737.61L743.3,739.1L743.33,740.71L743.36,742.44L743.39,744.28L743.42,746.26L743.45,748.37L743.48,750.63L743.51,753.02L743.54,755.57L743.57,758.27L743.6,761.12L743.63,764.13L743.66,767.3L743.69,770.62L743.72,774.08L743.75,777.68L743.78,781.4L743.81,785.23L743.84,789.14L743.87,793.09L743.9,797.06L743.93,800.99L743.96,804.85L743.99,808.56L744.02,812.08L744.05,815.33L744.08,818.26L744.11,820.8L744.14,822.88L744.17,824.47L744.2,825.51L744.23,825.99L744.24,826.02L744.26,825.89L744.29,825.2L744.32,823.96L744.35,822.2L744.38,819.95L744.41,817.28L744.44,814.25L744.47,810.91L744.5,807.34L744.53,803.6L744.56,799.74L744.59,795.83L744.62,791.9L744.65,787.99L744.68,784.15L744.71,780.4L744.74,776.76L744.77,773.24L744.8,769.87L744.83,766.64L744.86,763.56L744.89,760.64L744.92,757.87L744.95,755.26L744.98,752.8L745.01,750.48L745.04,748.31L745.07,746.27L745.1,744.37L745.13,742.59L745.16,740.93L745.19,739.39L745.22,737.96L745.25,736.63L745.28,735.41L745.31,734.28L745.34,733.24L745.37,732.29L745.4,731.43L745.43,730.65L745.46,729.95L745.49,729.32L745.52,728.77L745.55,728.29L745.58,727.88L745.61,727.54L745.64,727.26L745.67,727.05L745.7,726.91L745.73,726.83L745.76,726.82L745.79,726.87L745.82,726.98L745.85,727.16L745.88,727.4L745.91,727.72L745.94,728.1L745.97,728.55L746,729.07L746.03,729.67L746.06,730.34L746.09,731.09L746.12,731.93L746.15,732.85L746.18,733.86L746.21,734.96L746.24,736.16L746.27,737.46L746.3,738.87L746.33,740.39L746.36,742.03L746.39,743.79L746.42,745.68L746.45,747.7L746.48,749.87L746.51,752.18L746.54,754.64L746.57,757.26L746.6,760.04L746.63,762.97L746.66,766.07L746.69,769.33L746.72,772.75L746.75,776.31L746.78,780.01L746.81,783.83L746.84,787.74L746.87,791.72L746.9,795.74L746.93,799.74L746.96,803.68L746.99,807.51L747.02,811.15L747.05,814.54L747.08,817.61L747.11,820.29L747.14,822.52L747.17,824.23L747.2,825.38L747.23,825.93L747.24,825.97L747.26,825.86L747.29,825.17L747.32,823.89L747.35,822.03L747.38,819.66L747.41,816.82L747.44,813.59L747.47,810.04L747.5,806.23L747.53,802.23L747.56,798.12L747.59,793.95L747.62,789.77L747.65,785.62L747.68,781.55L747.71,777.57L747.74,773.73L747.77,770.02L747.8,766.47L747.83,763.09L747.86,759.86L747.89,756.81L747.92,753.92L747.95,751.2L747.98,748.64L748.01,746.23L748.04,743.98L748.07,741.87L748.1,739.89L748.13,738.05L748.16,736.33L748.19,734.74L748.22,733.25L748.25,731.88L748.28,730.6L748.31,729.43L748.34,728.35L748.37,727.35L748.4,726.45L748.43,725.62L748.46,724.87L748.49,724.2L748.52,723.6L748.55,723.07L748.58,722.61L748.61,722.22L748.64,721.89L748.67,721.63L748.7,721.43L748.73,721.29L748.76,721.21L748.79,721.19L748.82,721.24L748.85,721.35L748.88,721.52L748.91,721.76L748.94,722.06L748.97,722.43L749,722.87L749.03,723.37L749.06,723.96L749.09,724.61L749.12,725.35L749.15,726.17L749.18,727.08L749.21,728.08L749.24,729.17L749.27,730.37L749.3,731.67L749.33,733.09L749.36,734.62L749.39,736.28L749.42,738.08L749.45,740.01L749.48,742.1L749.51,744.34L749.54,746.75L749.57,749.32L749.6,752.08L749.63,755.03L749.66,758.16L749.69,761.49L749.72,765.02L749.75,768.74L749.78,772.64L749.81,776.72L749.84,780.96L749.87,785.33L749.9,789.79L749.93,794.3L749.96,798.8L749.99,803.23L750.02,807.51L750.05,811.56L750.08,815.27L750.11,818.55L750.14,821.32L750.17,823.48L750.2,824.95L750.23,825.69L750.24,825.77L750.26,825.66L750.29,824.86L750.32,823.3L750.35,821.04L750.38,818.14L750.41,814.68L750.44,810.76L750.47,806.48L750.5,801.93L750.53,797.21L750.56,792.4L750.59,787.58L750.62,782.8L750.65,778.11L750.68,773.56L750.71,769.18L750.74,764.98L750.77,760.98L750.8,757.18L750.83,753.6L750.86,750.22L750.89,747.05L750.92,744.08L750.95,741.3L750.98,738.7L751.01,736.28L751.04,734.02L751.07,731.92L751.1,729.97L751.13,728.16L751.16,726.48L751.19,724.93L751.22,723.48L751.25,722.15L751.28,720.93L751.31,719.79L751.34,718.76L751.37,717.8L751.4,716.93L751.43,716.14L751.46,715.42L751.49,714.78L751.52,714.2L751.55,713.68L751.58,713.23L751.61,712.85L751.64,712.52L751.67,712.25L751.7,712.04L751.73,711.88L751.76,711.78L751.79,711.73L751.82,711.74L751.85,711.81L751.88,711.94L751.91,712.12L751.94,712.36L751.97,712.66L752,713.02L752.03,713.44L752.06,713.94L752.09,714.5L752.12,715.13L752.15,715.85L752.18,716.64L752.21,717.52L752.24,718.48L752.27,719.55L752.3,720.71L752.33,721.99L752.36,723.38L752.39,724.9L752.42,726.55L752.45,728.34L752.48,730.29L752.51,732.41L752.54,734.7L752.57,737.19L752.6,739.87L752.63,742.77L752.66,745.9L752.69,749.27L752.72,752.88L752.75,756.75L752.78,760.88L752.81,765.28L752.84,769.92L752.87,774.8L752.9,779.88L752.93,785.12L752.96,790.47L752.99,795.85L753.02,801.16L753.05,806.28L753.08,811.08L753.11,815.41L753.14,819.12L753.17,822.08L753.2,824.15L753.23,825.23L753.25,825.38L753.26,825.26L753.29,824.24L753.32,822.2L753.35,819.21L753.38,815.4L753.41,810.9L753.44,805.87L753.47,800.46L753.5,794.82L753.53,789.07L753.56,783.33L753.59,777.68L753.62,772.19L753.65,766.92L753.68,761.9L753.71,757.15L753.74,752.68L753.77,748.5L753.8,744.59L753.83,740.95L753.86,737.58L753.89,734.45L753.92,731.55L753.95,728.87L753.98,726.4L754.01,724.11L754.04,722L754.07,720.06L754.1,718.27L754.13,716.61L754.16,715.09L754.19,713.69L754.22,712.4L754.25,711.21L754.28,710.12L754.31,709.12L754.34,708.21L754.37,707.38L754.4,706.62L754.43,705.93L754.46,705.3L754.49,704.74L754.52,704.24L754.55,703.79L754.58,703.4L754.61,703.07L754.64,702.78L754.67,702.55L754.7,702.36L754.73,702.22L754.76,702.12L754.79,702.08L754.82,702.08L754.85,702.13L754.88,702.22L754.91,702.36L754.94,702.56L754.97,702.8L755,703.09L755.03,703.44L755.06,703.85L755.09,704.31L755.12,704.84L755.15,705.43L755.18,706.1L755.21,706.83L755.24,707.65L755.27,708.55L755.3,709.55L755.33,710.64L755.36,711.84L755.39,713.16L755.42,714.6L755.45,716.18L755.48,717.91L755.51,719.8L755.54,721.87L755.57,724.14L755.6,726.61L755.63,729.32L755.66,732.28L755.69,735.51L755.72,739.03L755.75,742.87L755.78,747.04L755.81,751.55L755.84,756.43L755.87,761.67L755.9,767.26L755.93,773.18L755.96,779.37L755.99,785.77L756.02,792.26L756.05,798.7L756.08,804.91L756.11,810.66L756.14,815.72L756.17,819.85L756.2,822.81L756.23,824.42L756.25,824.7L756.26,824.58L756.29,823.25L756.32,820.51L756.35,816.5L756.38,811.43L756.41,805.54L756.44,799.09L756.47,792.32L756.5,785.43L756.53,778.6L756.56,771.95L756.59,765.58L756.62,759.56L756.65,753.91L756.68,748.65L756.71,743.78L756.74,739.29L756.77,735.17L756.8,731.39L756.83,727.93L756.86,724.77L756.89,721.88L756.92,719.24L756.95,716.82L756.98,714.62L757.01,712.61L757.04,710.76L757.07,709.08L757.1,707.54L757.13,706.13L757.16,704.84L757.19,703.66L757.22,702.58L757.25,701.6L757.28,700.7L757.31,699.87L757.34,699.12L757.37,698.44L757.4,697.82L757.43,697.26L757.46,696.76L757.49,696.3L757.52,695.9L757.55,695.54L757.58,695.23L757.61,694.96L757.64,694.73L757.67,694.54L757.7,694.39L757.73,694.28L757.76,694.21L757.79,694.17L757.82,694.17L757.85,694.21L757.88,694.29L757.91,694.4L757.94,694.55L757.97,694.75L758,694.98L758.03,695.26L758.06,695.59L758.09,695.96L758.12,696.38L758.15,696.86L758.18,697.39L758.21,697.99L758.24,698.65L758.27,699.38L758.3,700.19L758.33,701.09L758.36,702.07L758.39,703.16L758.42,704.36L758.45,705.68L758.48,707.13L758.51,708.74L758.54,710.5L758.57,712.45L758.6,714.61L758.63,716.99L758.66,719.62L758.69,722.53L758.72,725.75L758.75,729.31L758.78,733.26L758.81,737.61L758.84,742.41L758.87,747.69L758.9,753.46L758.93,759.74L758.96,766.51L758.99,773.72L759.02,781.27L759.05,789.02L759.08,796.75L759.11,804.15L759.14,810.88L759.17,816.54L759.2,820.73L759.23,823.11L759.25,823.59L759.26,823.48L759.29,821.78L759.32,818.13L759.35,812.81L759.38,806.19L759.41,798.68L759.44,790.68L759.47,782.52L759.5,774.49L759.53,766.76L759.56,759.48L759.59,752.7L759.62,746.46L759.65,740.77L759.68,735.59L759.71,730.91L759.74,726.68L759.77,722.86L759.8,719.43L759.83,716.33L759.86,713.54L759.89,711.02L759.92,708.74L759.95,706.69L759.98,704.83L760.01,703.14L760.04,701.61L760.07,700.23L760.1,698.97L760.13,697.83L760.16,696.78L760.19,695.84L760.22,694.97L760.25,694.19L760.28,693.48L760.31,692.83L760.34,692.24L760.37,691.7L760.4,691.22L760.43,690.78L760.46,690.39L760.49,690.04L760.52,689.73L760.55,689.46L760.58,689.22L760.61,689.01L760.64,688.84L760.67,688.69L760.7,688.58L760.73,688.5L760.76,688.44L760.79,688.42L760.82,688.42L760.85,688.45L760.88,688.51L760.91,688.61L760.94,688.73L760.97,688.88L761,689.06L761.03,689.28L761.06,689.54L761.09,689.83L761.12,690.16L761.15,690.53L761.18,690.95L761.21,691.42L761.24,691.94L761.27,692.51L761.3,693.15L761.33,693.86L761.36,694.65L761.39,695.51L761.42,696.47L761.45,697.53L761.48,698.71L761.51,700.01L761.54,701.45L761.57,703.06L761.6,704.85L761.63,706.84L761.66,709.06L761.69,711.55L761.72,714.34L761.75,717.46L761.78,720.97L761.81,724.92L761.84,729.35L761.87,734.33L761.9,739.91L761.93,746.13L761.96,753.05L761.99,760.65L762.02,768.89L762.05,777.67L762.08,786.76L762.11,795.83L762.14,804.39L762.17,811.86L762.2,817.61L762.23,821.03L762.25,821.83L762.26,821.74L762.29,819.62L762.32,814.89L762.35,808.04L762.38,799.68L762.41,790.47L762.44,780.98L762.47,771.65L762.5,762.77L762.53,754.52L762.56,746.99L762.59,740.2L762.62,734.11L762.65,728.7L762.68,723.88L762.71,719.62L762.74,715.84L762.77,712.48L762.8,709.5L762.83,706.86L762.86,704.5L762.89,702.39L762.92,700.51L762.95,698.82L762.98,697.31L763.01,695.95L763.04,694.73L763.07,693.62L763.1,692.62L763.13,691.72L763.16,690.9L763.19,690.16L763.22,689.49L763.25,688.88L763.28,688.33L763.31,687.83L763.34,687.37L763.37,686.97L763.4,686.6L763.43,686.26L763.46,685.97L763.49,685.7L763.52,685.47L763.55,685.26L763.58,685.08L763.61,684.92L763.64,684.79L763.67,684.69L763.7,684.61L763.73,684.55L763.76,684.51L763.79,684.49L763.82,684.5L763.85,684.52L763.88,684.57L763.91,684.64L763.94,684.74L763.97,684.86L764,685L764.03,685.17L764.06,685.37L764.09,685.59L764.12,685.85L764.15,686.13L764.18,686.46L764.21,686.82L764.24,687.22L764.27,687.67L764.3,688.16L764.33,688.71L764.36,689.32L764.39,690L764.42,690.75L764.45,691.58L764.48,692.51L764.51,693.53L764.54,694.68L764.57,695.97L764.6,697.4L764.63,699.01L764.66,700.82L764.69,702.87L764.72,705.18L764.75,707.8L764.78,710.79L764.81,714.18L764.84,718.06L764.87,722.5L764.9,727.58L764.93,733.39L764.96,740.01L764.99,747.52L765.02,755.95L765.05,765.26L765.08,775.3L765.11,785.77L765.14,796.1L765.17,805.52L765.2,813.08L765.23,817.81L765.25,819.07L765.26,819.01L765.29,816.48L765.32,810.55L765.35,802.03L765.38,791.9L765.41,781.11L765.44,770.4L765.47,760.27L765.5,750.98L765.53,742.65L765.56,735.28L765.59,728.82L765.62,723.18L765.65,718.27L765.68,714L765.71,710.28L765.74,707.03L765.77,704.19L765.8,701.69L765.83,699.5L765.86,697.57L765.89,695.86L765.92,694.34L765.95,692.99L765.98,691.79L766.01,690.71L766.04,689.75L766.07,688.88L766.1,688.1L766.13,687.4L766.16,686.77L766.19,686.2L766.22,685.68L766.25,685.21L766.28,684.79L766.31,684.41L766.34,684.07L766.37,683.76L766.4,683.48L766.43,683.23L766.46,683L766.49,682.8L766.52,682.63L766.55,682.47L766.58,682.34L766.61,682.22L766.64,682.13L766.67,682.05L766.7,681.99L766.73,681.94L766.76,681.92L766.79,681.91L766.82,681.91L766.85,681.94L766.88,681.98L766.91,682.03L766.94,682.11L766.97,682.2L767,682.31L767.03,682.44L767.06,682.59L767.09,682.76L767.12,682.96L767.15,683.18L767.18,683.42L767.21,683.7L767.24,684.01L767.27,684.35L767.3,684.73L767.33,685.15L767.36,685.62L767.39,686.14L767.42,686.72L767.45,687.36L767.48,688.08L767.51,688.88L767.54,689.77L767.57,690.78L767.6,691.91L767.63,693.18L767.66,694.62L767.69,696.25L767.72,698.12L767.75,700.25L767.78,702.69L767.81,705.51L767.84,708.77L767.87,712.55L767.9,716.96L767.93,722.1L767.96,728.1L767.99,735.08L768.02,743.18L768.05,752.45L768.08,762.87L768.11,774.21L768.14,785.96L768.17,797.21L768.2,806.69L768.23,812.95L768.26,814.86L768.26,814.84L768.29,811.93L768.32,804.77L768.35,794.58L768.38,782.84L768.41,770.79L768.44,759.31L768.47,748.86L768.5,739.63L768.53,731.63L768.56,724.75L768.59,718.88L768.62,713.87L768.65,709.59L768.68,705.93L768.71,702.78L768.74,700.08L768.77,697.73L768.8,695.7L768.83,693.93L768.86,692.38L768.89,691.01L768.92,689.81L768.95,688.75L768.98,687.8L769.01,686.96L769.04,686.21L769.07,685.54L769.1,684.94L769.13,684.4L769.16,683.92L769.19,683.48L769.22,683.08L769.25,682.73L769.28,682.41L769.31,682.12L769.34,681.86L769.37,681.62L769.4,681.41L769.43,681.22L769.46,681.05L769.49,680.9L769.52,680.77L769.55,680.66L769.58,680.56L769.61,680.47L769.64,680.4L769.67,680.34L769.7,680.3L769.73,680.27L769.76,680.25L769.79,680.24L769.82,680.25L769.85,680.27L769.88,680.3L769.91,680.34L769.94,680.4L769.97,680.47L770,680.56L770.03,680.65L770.06,680.77L770.09,680.9L770.12,681.05L770.15,681.22L770.18,681.41L770.21,681.61L770.24,681.85L770.27,682.11L770.3,682.4L770.33,682.72L770.36,683.08L770.39,683.47L770.42,683.91L770.45,684.4L770.48,684.95L770.51,685.57L770.54,686.25L770.57,687.03L770.6,687.9L770.63,688.89L770.66,690.01L770.69,691.29L770.72,692.75L770.75,694.44L770.78,696.39L770.81,698.65L770.84,701.3L770.87,704.41L770.9,708.08L770.93,712.43L770.96,717.61L770.99,723.78L771.02,731.12L771.05,739.82L771.08,749.96L771.11,761.5L771.14,774.05L771.17,786.73L771.2,797.99L771.23,805.87L771.26,808.6L771.26,808.6L771.29,805.44L771.32,797.14L771.35,785.5L771.38,772.5L771.41,759.7L771.44,747.99L771.47,737.74L771.5,729L771.53,721.65L771.56,715.51L771.59,710.37L771.62,706.07L771.65,702.47L771.68,699.42L771.71,696.84L771.74,694.64L771.77,692.75L771.8,691.13L771.83,689.72L771.86,688.5L771.89,687.43L771.92,686.49L771.95,685.66L771.98,684.93L772.01,684.28L772.04,683.7L772.07,683.19L772.1,682.73L772.13,682.32L772.16,681.95L772.19,681.61L772.22,681.31L772.25,681.04L772.28,680.8L772.31,680.58L772.34,680.39L772.37,680.21L772.4,680.05L772.43,679.91L772.46,679.79L772.49,679.67L772.52,679.58L772.55,679.49L772.58,679.41L772.61,679.35L772.64,679.3L772.67,679.26L772.7,679.23L772.73,679.2L772.76,679.19L772.79,679.19L772.82,679.19L772.85,679.21L772.88,679.23L772.91,679.26L772.94,679.31L772.97,679.36L773,679.42L773.03,679.5L773.06,679.59L773.09,679.69L773.12,679.8L773.15,679.92L773.18,680.06L773.21,680.22L773.24,680.4L773.27,680.59L773.3,680.81L773.33,681.05L773.36,681.32L773.39,681.62L773.42,681.95L773.45,682.32L773.48,682.74L773.51,683.2L773.54,683.72L773.57,684.31L773.6,684.97L773.63,685.72L773.66,686.58L773.69,687.56L773.72,688.68L773.75,689.98L773.78,691.5L773.81,693.27L773.84,695.35L773.87,697.82L773.9,700.76L773.93,704.3L773.96,708.57L773.99,713.76L774.02,720.09L774.05,727.78L774.08,737.07L774.11,748.08L774.14,760.64L774.17,774.01L774.2,786.61L774.23,795.99L774.26,799.66L774.26,799.66L774.29,796.44L774.32,787.27L774.35,774.58L774.38,760.91L774.41,747.99L774.44,736.65L774.47,727.09L774.5,719.2L774.53,712.74L774.56,707.46L774.59,703.14L774.62,699.58L774.65,696.63L774.68,694.17L774.71,692.11L774.74,690.36L774.77,688.88L774.8,687.61L774.83,686.51L774.86,685.57L774.89,684.74L774.92,684.02L774.95,683.39L774.98,682.83L775.01,682.34L775.04,681.9L775.07,681.51L775.1,681.16L775.13,680.85L775.16,680.57L775.19,680.32L775.22,680.1L775.25,679.9L775.28,679.72L775.31,679.55L775.34,679.41L775.37,679.27L775.4,679.16L775.43,679.05L775.46,678.96L775.49,678.88L775.52,678.8L775.55,678.74L775.58,678.69L775.61,678.64L775.64,678.6L775.67,678.57L775.7,678.55L775.73,678.53L775.76,678.52L775.79,678.52L775.82,678.52L775.85,678.53L775.88,678.55L775.91,678.58L775.94,678.61L775.97,678.65L776,678.7L776.03,678.75L776.06,678.82L776.09,678.89L776.12,678.97L776.15,679.07L776.18,679.17L776.21,679.29L776.24,679.42L776.27,679.56L776.3,679.72L776.33,679.9L776.36,680.1L776.39,680.32L776.42,680.56L776.45,680.84L776.48,681.14L776.51,681.49L776.54,681.87L776.57,682.31L776.6,682.8L776.63,683.36L776.66,683.99L776.69,684.73L776.72,685.57L776.75,686.55L776.78,687.69L776.81,689.03L776.84,690.61L776.87,692.5L776.9,694.78L776.93,697.54L776.96,700.91L776.99,705.07L777.02,710.23L777.05,716.66L777.08,724.65L777.11,734.48L777.14,746.2L777.17,759.37L777.2,772.52L777.23,782.99L777.26,787.57L777.26,787.61L777.29,784.52L777.32,774.92L777.35,761.84L777.38,748.24L777.41,735.92L777.44,725.51L777.47,717.05L777.5,710.26L777.53,704.84L777.56,700.5L777.59,697L777.62,694.16L777.65,691.83L777.68,689.91L777.71,688.31L777.74,686.97L777.77,685.83L777.8,684.86L777.83,684.04L777.86,683.32L777.89,682.7L777.92,682.16L777.95,681.69L777.98,681.27L778.01,680.9L778.04,680.58L778.07,680.29L778.1,680.03L778.13,679.8L778.16,679.6L778.19,679.42L778.22,679.25L778.25,679.1L778.28,678.97L778.31,678.85L778.34,678.74L778.37,678.65L778.4,678.56L778.43,678.49L778.46,678.42L778.49,678.36L778.52,678.3L778.55,678.26L778.58,678.22L778.61,678.19L778.64,678.16L778.67,678.14L778.7,678.12L778.73,678.11L778.76,678.1L778.79,678.1L778.82,678.1L778.85,678.11L778.88,678.12L778.91,678.14L778.94,678.17L778.97,678.19L779,678.23L779.03,678.27L779.06,678.32L779.09,678.37L779.12,678.43L779.15,678.5L779.18,678.57L779.21,678.65L779.24,678.75L779.27,678.85L779.3,678.97L779.33,679.09L779.36,679.24L779.39,679.39L779.42,679.57L779.45,679.77L779.48,679.99L779.51,680.23L779.54,680.51L779.57,680.82L779.6,681.18L779.63,681.58L779.66,682.04L779.69,682.57L779.72,683.18L779.75,683.88L779.78,684.71L779.81,685.69L779.84,686.85L779.87,688.24L779.9,689.93L779.93,691.98L779.96,694.52L779.99,697.68L780.02,701.67L780.05,706.73L780.08,713.18L780.11,721.37L780.14,731.54L780.17,743.55L780.2,756.29L780.23,767.14L780.26,772.43L780.27,772.55L780.29,769.8L780.32,760.37L780.35,747.68L780.38,734.96L780.41,723.9L780.44,714.9L780.47,707.81L780.5,702.27L780.53,697.94L780.56,694.54L780.59,691.83L780.62,689.66L780.65,687.9L780.68,686.46L780.71,685.26L780.74,684.27L780.77,683.43L780.8,682.72L780.83,682.11L780.86,681.59L780.89,681.14L780.92,680.74L780.95,680.4L780.98,680.1L781.01,679.84L781.04,679.6L781.07,679.4L781.1,679.21L781.13,679.05L781.16,678.9L781.19,678.77L781.22,678.65L781.25,678.55L781.28,678.45L781.31,678.37L781.34,678.29L781.37,678.22L781.4,678.16L781.43,678.11L781.46,678.06L781.49,678.02L781.52,677.98L781.55,677.95L781.58,677.92L781.61,677.9L781.64,677.88L781.67,677.86L781.7,677.85L781.73,677.84L781.76,677.84L781.79,677.84L781.82,677.84L781.85,677.84L781.88,677.85L781.91,677.87L781.94,677.88L781.97,677.9L782,677.93L782.03,677.96L782.06,677.99L782.09,678.02L782.12,678.07L782.15,678.11L782.18,678.16L782.21,678.22L782.24,678.29L782.27,678.36L782.3,678.44L782.33,678.53L782.36,678.63L782.39,678.73L782.42,678.86L782.45,678.99L782.48,679.14L782.51,679.31L782.54,679.51L782.57,679.72L782.6,679.97L782.63,680.25L782.66,680.56L782.69,680.93L782.72,681.35L782.75,681.85L782.78,682.42L782.81,683.1L782.84,683.92L782.87,684.89L782.9,686.08L782.93,687.54L782.96,689.35L782.99,691.63L783.02,694.54L783.05,698.28L783.08,703.15L783.11,709.5L783.14,717.68L783.17,727.8L783.2,739.19L783.23,749.58L783.26,755.2L783.27,755.44L783.29,753.18L783.32,744.54L783.35,733.02L783.38,721.89L783.41,712.57L783.44,705.26L783.47,699.67L783.5,695.4L783.53,692.13L783.56,689.59L783.59,687.6L783.62,686.02L783.65,684.75L783.68,683.71L783.71,682.86L783.74,682.15L783.77,681.56L783.8,681.06L783.83,680.63L783.86,680.26L783.89,679.95L783.92,679.68L783.95,679.44L783.98,679.23L784.01,679.05L784.04,678.88L784.07,678.74L784.1,678.61L784.13,678.5L784.16,678.4L784.19,678.31L784.22,678.23L784.25,678.16L784.28,678.09L784.31,678.03L784.34,677.98L784.37,677.94L784.4,677.89L784.43,677.86L784.46,677.82L784.49,677.8L784.52,677.77L784.55,677.75L784.58,677.73L784.61,677.71L784.64,677.7L784.67,677.69L784.7,677.68L784.73,677.68L784.76,677.67L784.79,677.67L784.82,677.67L784.85,677.68L784.88,677.68L784.91,677.69L784.94,677.7L784.97,677.72L785,677.73L785.03,677.75L785.06,677.77L785.09,677.8L785.12,677.82L785.15,677.86L785.18,677.89L785.21,677.93L785.24,677.97L785.27,678.02L785.3,678.07L785.33,678.13L785.36,678.2L785.39,678.27L785.42,678.35L785.45,678.44L785.48,678.54L785.51,678.65L785.54,678.78L785.57,678.92L785.6,679.08L785.63,679.27L785.66,679.48L785.69,679.72L785.72,680L785.75,680.33L785.78,680.71L785.81,681.17L785.84,681.71L785.87,682.36L785.9,683.16L785.93,684.14L785.96,685.36L785.99,686.92L786.02,688.92L786.05,691.52L786.08,694.97L786.11,699.56L786.14,705.67L786.17,713.55L786.2,722.93L786.23,732.11L786.26,737.59L786.27,737.97L786.29,736.27L786.32,728.88L786.35,719.12L786.38,710L786.41,702.66L786.44,697.08L786.47,692.92L786.5,689.82L786.53,687.48L786.56,685.69L786.59,684.3L786.62,683.2L786.65,682.32L786.68,681.62L786.71,681.04L786.74,680.56L786.77,680.16L786.8,679.82L786.83,679.53L786.86,679.29L786.89,679.08L786.92,678.89L786.95,678.74L786.98,678.6L787.01,678.47L787.04,678.37L787.07,678.27L787.1,678.19L787.13,678.11L787.16,678.05L787.19,677.99L787.22,677.94L787.25,677.89L787.28,677.85L787.31,677.81L787.34,677.77L787.37,677.74L787.4,677.72L787.43,677.69L787.46,677.67L787.49,677.65L787.52,677.63L787.55,677.62L787.58,677.61L787.61,677.6L787.64,677.59L787.67,677.58L787.7,677.58L787.73,677.57L787.76,677.57L787.79,677.57L787.82,677.57L787.85,677.57L787.88,677.58L787.91,677.58L787.94,677.59L787.97,677.6L788,677.61L788.03,677.62L788.06,677.63L788.09,677.65L788.12,677.67L788.15,677.69L788.18,677.71L788.21,677.73L788.24,677.76L788.27,677.79L788.3,677.82L788.33,677.86L788.36,677.9L788.39,677.95L788.42,678L788.45,678.06L788.48,678.12L788.51,678.19L788.54,678.27L788.57,678.36L788.6,678.47L788.63,678.58L788.66,678.72L788.69,678.87L788.72,679.05L788.75,679.25L788.78,679.5L788.81,679.79L788.84,680.13L788.87,680.55L788.9,681.06L788.93,681.68L788.96,682.47L788.99,683.48L789.02,684.78L789.05,686.49L789.08,688.79L789.11,691.91L789.14,696.16L789.17,701.87L789.2,709.02L789.23,716.52L789.26,721.47L789.27,721.95L789.29,720.79L789.32,714.89L789.35,707.13L789.38,700.12L789.41,694.66L789.44,690.65L789.47,687.72L789.5,685.59L789.53,683.99L789.56,682.79L789.59,681.87L789.62,681.14L789.65,680.57L789.68,680.1L789.71,679.73L789.74,679.41L789.77,679.16L789.8,678.94L789.83,678.75L789.86,678.6L789.89,678.46L789.92,678.35L789.95,678.24L789.98,678.16L790.01,678.08L790.04,678.01L790.07,677.95L790.1,677.9L790.13,677.85L790.16,677.81L790.19,677.77L790.22,677.74L790.25,677.71L790.28,677.68L790.31,677.66L790.34,677.63L790.37,677.61L790.4,677.6L790.43,677.58L790.46,677.57L790.49,677.56L790.52,677.55L790.55,677.54L790.58,677.53L790.61,677.52L790.64,677.52L790.67,677.51L790.7,677.51L790.73,677.51L790.76,677.51L790.79,677.51L790.82,677.51L790.85,677.51L790.88,677.51L790.91,677.51L790.94,677.52L790.97,677.52L791,677.53L791.03,677.54L791.06,677.54L791.09,677.55L791.12,677.56L791.15,677.58L791.18,677.59L791.21,677.61L791.24,677.62L791.27,677.64L791.3,677.66L791.33,677.68L791.36,677.71L791.39,677.74L791.42,677.77L791.45,677.8L791.48,677.84L791.51,677.89L791.54,677.93L791.57,677.99L791.6,678.05L791.63,678.12L791.66,678.2L791.69,678.3L791.72,678.41L791.75,678.53L791.78,678.68L791.81,678.86L791.84,679.07L791.87,679.32L791.9,679.64L791.93,680.02L791.96,680.51L791.99,681.13L792.02,681.94L792.05,683.01L792.08,684.47L792.11,686.47L792.14,689.27L792.17,693.15L792.2,698.25L792.23,703.97L792.26,708.13L792.27,708.68L792.29,707.95L792.32,703.52L792.35,697.67L792.38,692.56L792.41,688.71L792.44,685.96L792.47,684L792.5,682.59L792.53,681.55L792.56,680.78L792.59,680.19L792.62,679.73L792.65,679.37L792.68,679.07L792.71,678.84L792.74,678.64L792.77,678.48L792.8,678.35L792.83,678.23L792.86,678.14L792.89,678.05L792.92,677.98L792.95,677.92L792.98,677.86L793.01,677.82L793.04,677.77L793.07,677.74L793.1,677.71L793.13,677.68L793.16,677.65L793.19,677.63L793.22,677.61L793.25,677.59L793.28,677.57L793.31,677.56L793.34,677.54L793.37,677.53L793.4,677.52L793.43,677.51L793.46,677.5L793.49,677.5L793.52,677.49L793.55,677.49L793.58,677.48L793.61,677.48L793.64,677.47L793.67,677.47L793.7,677.47L793.73,677.47L793.76,677.47L793.79,677.47L793.82,677.47L793.85,677.47L793.88,677.47L793.91,677.47L793.94,677.47L793.97,677.48L794,677.48L794.03,677.48L794.06,677.49L794.09,677.49L794.12,677.5L794.15,677.51L794.18,677.52L794.21,677.52L794.24,677.53L794.27,677.55L794.3,677.56L794.33,677.57L794.36,677.59L794.39,677.6L794.42,677.62L794.45,677.64L794.48,677.66L794.51,677.69L794.54,677.72L794.57,677.75L794.6,677.79L794.63,677.83L794.66,677.88L794.69,677.94L794.72,678L794.75,678.07L794.78,678.16L794.81,678.27L794.84,678.39L794.87,678.54L794.9,678.73L794.93,678.96L794.96,679.25L794.99,679.62L795.02,680.11L795.05,680.75L795.08,681.64L795.11,682.88L795.14,684.63L795.17,687.14L795.2,690.58L795.23,694.7L795.26,698L795.28,698.56L795.29,698.14L795.32,694.97L795.35,690.76L795.38,687.18L795.41,684.57L795.44,682.76L795.47,681.49L795.5,680.59L795.53,679.94L795.56,679.46L795.59,679.09L795.62,678.81L795.65,678.59L795.68,678.41L795.71,678.27L795.74,678.15L795.77,678.05L795.8,677.97L795.83,677.9L795.86,677.84L795.89,677.79L795.92,677.75L795.95,677.71L795.98,677.68L796.01,677.65L796.04,677.63L796.07,677.6L796.1,677.58L796.13,677.57L796.16,677.55L796.19,677.54L796.22,677.53L796.25,677.51L796.28,677.5L796.31,677.5L796.34,677.49L796.37,677.48L796.4,677.47L796.43,677.47L796.46,677.46L796.49,677.46L796.52,677.46L796.55,677.45L796.58,677.45L796.61,677.45L796.64,677.45L796.67,677.44L796.7,677.44L796.73,677.44L796.76,677.44L796.79,677.44L796.82,677.44L796.85,677.44L796.88,677.44L796.91,677.44L796.94,677.44L796.97,677.45L797,677.45L797.03,677.45L797.06,677.45L797.09,677.46L797.12,677.46L797.15,677.47L797.18,677.47L797.21,677.47L797.24,677.48L797.27,677.49L797.3,677.49L797.33,677.5L797.36,677.51L797.39,677.52L797.42,677.53L797.45,677.54L797.48,677.56L797.51,677.57L797.54,677.59L797.57,677.61L797.6,677.63L797.63,677.65L797.66,677.68L797.69,677.71L797.72,677.75L797.75,677.79L797.78,677.84L797.81,677.91L797.84,677.98L797.87,678.07L797.9,678.17L797.93,678.31L797.96,678.48L797.99,678.69L798.02,678.98L798.05,679.36L798.08,679.88L798.11,680.62L798.14,681.69L798.17,683.25L798.2,685.48L798.23,688.31L798.26,690.79L798.28,691.33L798.29,691.11L798.32,688.93L798.35,685.99L798.38,683.56L798.41,681.85L798.44,680.68L798.47,679.88L798.5,679.33L798.53,678.93L798.56,678.63L798.59,678.41L798.62,678.24L798.65,678.11L798.68,678L798.71,677.91L798.74,677.84L798.77,677.79L798.8,677.74L798.83,677.7L798.86,677.66L798.89,677.63L798.92,677.61L798.95,677.58L798.98,677.57L799.01,677.55L799.04,677.53L799.07,677.52L799.1,677.51L799.13,677.5L799.16,677.49L799.19,677.48L799.22,677.48L799.25,677.47L799.28,677.46L799.31,677.46L799.34,677.45L799.37,677.45L799.4,677.45L799.43,677.44L799.46,677.44L800.15,677.44L800.18,677.44L800.21,677.44L800.24,677.45L800.27,677.45L800.3,677.46L800.33,677.46L800.36,677.47L800.39,677.47L800.42,677.48L800.45,677.48L800.48,677.49L800.51,677.5L800.54,677.51L800.57,677.52L800.6,677.53L800.63,677.55L800.66,677.56L800.69,677.58L800.72,677.6L800.75,677.63L800.78,677.66L800.81,677.69L800.84,677.73L800.87,677.78L800.9,677.84L800.93,677.92L800.96,678.02L800.99,678.14L801.02,678.31L801.05,678.53L801.08,678.83L801.11,679.26L801.14,679.9L801.17,680.84L801.2,682.24L801.23,684.11L801.26,685.91L801.28,686.4L801.29,686.29L801.32,684.84L801.35,682.84L801.38,681.22L801.41,680.12L801.44,679.38L801.47,678.89L801.5,678.55L801.53,678.3L801.56,678.13L801.59,677.99L801.62,677.89L801.65,677.81L801.68,677.75L801.71,677.7L801.74,677.66L801.77,677.63L801.8,677.6L801.83,677.57L801.86,677.55L801.89,677.54L801.92,677.52L801.95,677.51L801.98,677.5L802.01,677.49L802.04,677.48L802.07,677.47L802.1,677.46L802.13,677.46L802.16,677.45L802.19,677.45L802.22,677.44L802.25,677.44L802.28,677.44L803.36,677.44L803.39,677.44L803.42,677.44L803.45,677.45L803.48,677.45L803.51,677.46L803.54,677.46L803.57,677.47L803.6,677.48L803.63,677.48L803.66,677.49L803.69,677.5L803.72,677.52L803.75,677.53L803.78,677.55L803.81,677.57L803.84,677.59L803.87,677.62L803.9,677.65L803.93,677.7L803.96,677.75L803.99,677.82L804.02,677.92L804.05,678.04L804.08,678.22L804.11,678.47L804.14,678.84L804.17,679.4L804.2,680.25L804.23,681.46L804.26,682.72L804.28,683.14L804.29,683.09L804.32,682.15L804.35,680.81L804.38,679.75L804.41,679.04L804.44,678.59L804.47,678.28L804.5,678.08L804.53,677.93L804.56,677.83L804.59,677.75L804.62,677.69L804.65,677.64L804.68,677.6L804.71,677.58L804.74,677.55L804.77,677.53L804.8,677.52L804.83,677.5L804.86,677.49L804.89,677.48L804.92,677.47L804.95,677.46L804.98,677.46L805.01,677.45L805.04,677.45L805.07,677.44L805.1,677.44L806.54,677.44L806.57,677.44L806.6,677.44L806.63,677.45L806.66,677.45L806.69,677.46L806.72,677.47L806.75,677.47L806.78,677.48L806.81,677.49L806.84,677.51L806.87,677.52L806.9,677.54L806.93,677.57L806.96,677.6L806.99,677.64L807.02,677.69L807.05,677.76L807.08,677.86L807.11,678.01L807.14,678.22L807.17,678.55L807.2,679.06L807.23,679.82L807.26,680.69L807.29,681.03L807.29,681.01L807.32,680.41L807.35,679.52L807.38,678.84L807.41,678.39L807.44,678.11L807.47,677.92L807.5,677.8L807.53,677.71L807.56,677.65L807.59,677.6L807.62,677.57L807.65,677.54L807.68,677.52L807.71,677.5L807.74,677.49L807.77,677.48L807.8,677.47L807.83,677.46L807.86,677.45L807.89,677.45L807.92,677.44L807.95,677.44L809.72,677.44L809.75,677.44L809.78,677.45L809.81,677.45L809.84,677.46L809.87,677.47L809.9,677.48L809.93,677.5L809.96,677.51L809.99,677.54L810.02,677.57L810.05,677.61L810.08,677.66L810.11,677.74L810.14,677.87L810.17,678.06L810.2,678.36L810.23,678.83L810.26,679.41L810.29,679.68L810.29,679.68L810.32,679.31L810.35,678.72L810.38,678.28L810.41,678L810.44,677.82L810.47,677.71L810.5,677.63L810.53,677.58L810.56,677.55L810.59,677.52L810.62,677.5L810.65,677.48L810.68,677.47L810.71,677.46L810.74,677.45L810.77,677.44L810.8,677.44L812.84,677.44L812.87,677.44L812.9,677.45L812.93,677.45L812.96,677.46L812.99,677.48L813.02,677.49L813.05,677.52L813.08,677.55L813.11,677.6L813.14,677.67L813.17,677.77L813.2,677.95L813.23,678.24L813.26,678.62L813.29,678.83L813.29,678.83L813.32,678.6L813.35,678.22L813.38,677.94L813.41,677.76L813.44,677.65L813.47,677.58L813.5,677.54L813.53,677.51L813.56,677.49L813.59,677.47L813.62,677.46L813.65,677.45L813.68,677.44L813.71,677.43L815.96,677.44L815.99,677.44L816.02,677.45L816.05,677.47L816.08,677.48L816.11,677.51L816.14,677.55L816.17,677.61L816.2,677.72L816.23,677.89L816.26,678.13L816.29,678.29L816.29,678.29L816.32,678.16L816.35,677.91L816.38,677.73L816.41,677.62L816.44,677.55L816.47,677.51L816.5,677.48L816.53,677.46L816.56,677.45L816.59,677.44L816.62,677.43L819.05,677.44L819.08,677.45L819.11,677.46L819.14,677.49L819.17,677.52L819.2,677.58L819.23,677.68L819.26,677.84L819.29,677.96L819.29,677.96L819.32,677.88L819.35,677.72L819.38,677.6L819.41,677.53L819.44,677.49L819.47,677.46L819.5,677.45L819.53,677.44L822.11,677.44L822.14,677.45L822.17,677.47L822.2,677.5L822.23,677.56L822.26,677.66L822.29,677.74L822.3,677.75L822.32,677.7L822.35,677.6L822.38,677.52L822.41,677.48L822.44,677.45L822.47,677.44L824.48,677.4L824.5,677.40Z" fill="#50C7E2" stroke="#000" stroke-width="1.35" stroke-linejoin="round"/>
<rect x="665.0" y="617.7" width="159.50" height="238.80" fill="none" stroke="#000" stroke-width="0.95"/>
<path d="M704.88,617.7v3M704.88,856.5v-3M744.75,617.7v3M744.75,856.5v-3M784.62,617.7v3M784.62,856.5v-3M684.94,617.7v1.8M684.94,856.5v-1.8M724.81,617.7v1.8M724.81,856.5v-1.8M764.69,617.7v1.8M764.69,856.5v-1.8M804.56,617.7v1.8M804.56,856.5v-1.8M665.0,826.65h1.8M824.5,826.65h-1.8M665.0,796.80h3M824.5,796.80h-3M665.0,766.95h1.8M824.5,766.95h-1.8M665.0,737.10h3M824.5,737.10h-3M665.0,707.25h1.8M824.5,707.25h-1.8M665.0,677.40h3M824.5,677.40h-3M665.0,647.55h1.8M824.5,647.55h-1.8" stroke="#000" stroke-width="0.95" fill="none"/>
<text x="662.4" y="622.5" font-family="'Liberation Serif',serif" font-size="21.2" text-anchor="end" >0.2</text>
<text x="662.4" y="682.2" font-family="'Liberation Serif',serif" font-size="21.2" text-anchor="end" >0.0</text>
<text x="662.4" y="741.9" font-family="'Liberation Serif',serif" font-size="21.2" text-anchor="end" >-0.2</text>
<text x="662.4" y="801.6" font-family="'Liberation Serif',serif" font-size="21.2" text-anchor="end" >-0.4</text>
<text x="662.4" y="861.3" font-family="'Liberation Serif',serif" font-size="21.2" text-anchor="end" >-0.6</text>
<text x="664.3" y="876.4" font-family="'Liberation Serif',serif" font-size="21.4" text-anchor="middle" >-2</text>
<text x="704.2" y="876.4" font-family="'Liberation Serif',serif" font-size="21.4" text-anchor="middle" >-1</text>
<text x="744.8" y="876.4" font-family="'Liberation Serif',serif" font-size="21.4" text-anchor="middle" >0</text>
<text x="784.6" y="876.4" font-family="'Liberation Serif',serif" font-size="21.4" text-anchor="middle" >1</text>
<text x="824.5" y="876.4" font-family="'Liberation Serif',serif" font-size="21.4" text-anchor="middle" >2</text>
<text x="675" y="651" font-family="'Liberation Sans',sans-serif" font-size="27" text-anchor="start" >(f)</text>
<text x="783.6" y="801.8" font-family="'Liberation Sans',sans-serif" font-size="27">S<tspan font-size="16.5" dy="10.5" dx="0.3">z</tspan><tspan font-size="16.5" dy="-25.6" dx="-0.9">+</tspan></text>
<text><tspan x="668.66" y="914.9" font-family="'Liberation Sans',sans-serif" font-size="26.5">(</tspan><tspan x="677.08" y="914.9" font-family="'Liberation Serif',serif" font-size="26">ω</tspan><tspan x="692.85" y="925.1" font-family="'Liberation Sans',sans-serif" font-size="17">pr</tspan><tspan x="714.80" y="914.9" font-family="'Liberation Sans',sans-serif" font-size="27">-</tspan><tspan x="730.98" y="914.9" font-family="'Liberation Serif',serif" font-size="26">ω</tspan><tspan x="747.66" y="925.1" font-family="'Liberation Sans',sans-serif" font-size="16.5">0</tspan><tspan x="756.84" y="914.9" font-family="'Liberation Sans',sans-serif" font-size="26.5">)</tspan><tspan x="763.27" y="914.9" font-family="'Liberation Serif',serif" font-size="28.5">τ</tspan><tspan x="775.20" y="925.4" font-family="'Liberation Sans',sans-serif" font-size="17">p</tspan><tspan x="785.50" y="914.9" font-family="'Liberation Sans',sans-serif" font-size="26.5">/</tspan><tspan x="791.97" y="914.9" font-family="'Liberation Sans',sans-serif" font-size="26.5">2</tspan><tspan x="806.13" y="914.9" font-family="'Liberation Serif',serif" font-size="27">π</tspan></text>
</svg></body></html>
